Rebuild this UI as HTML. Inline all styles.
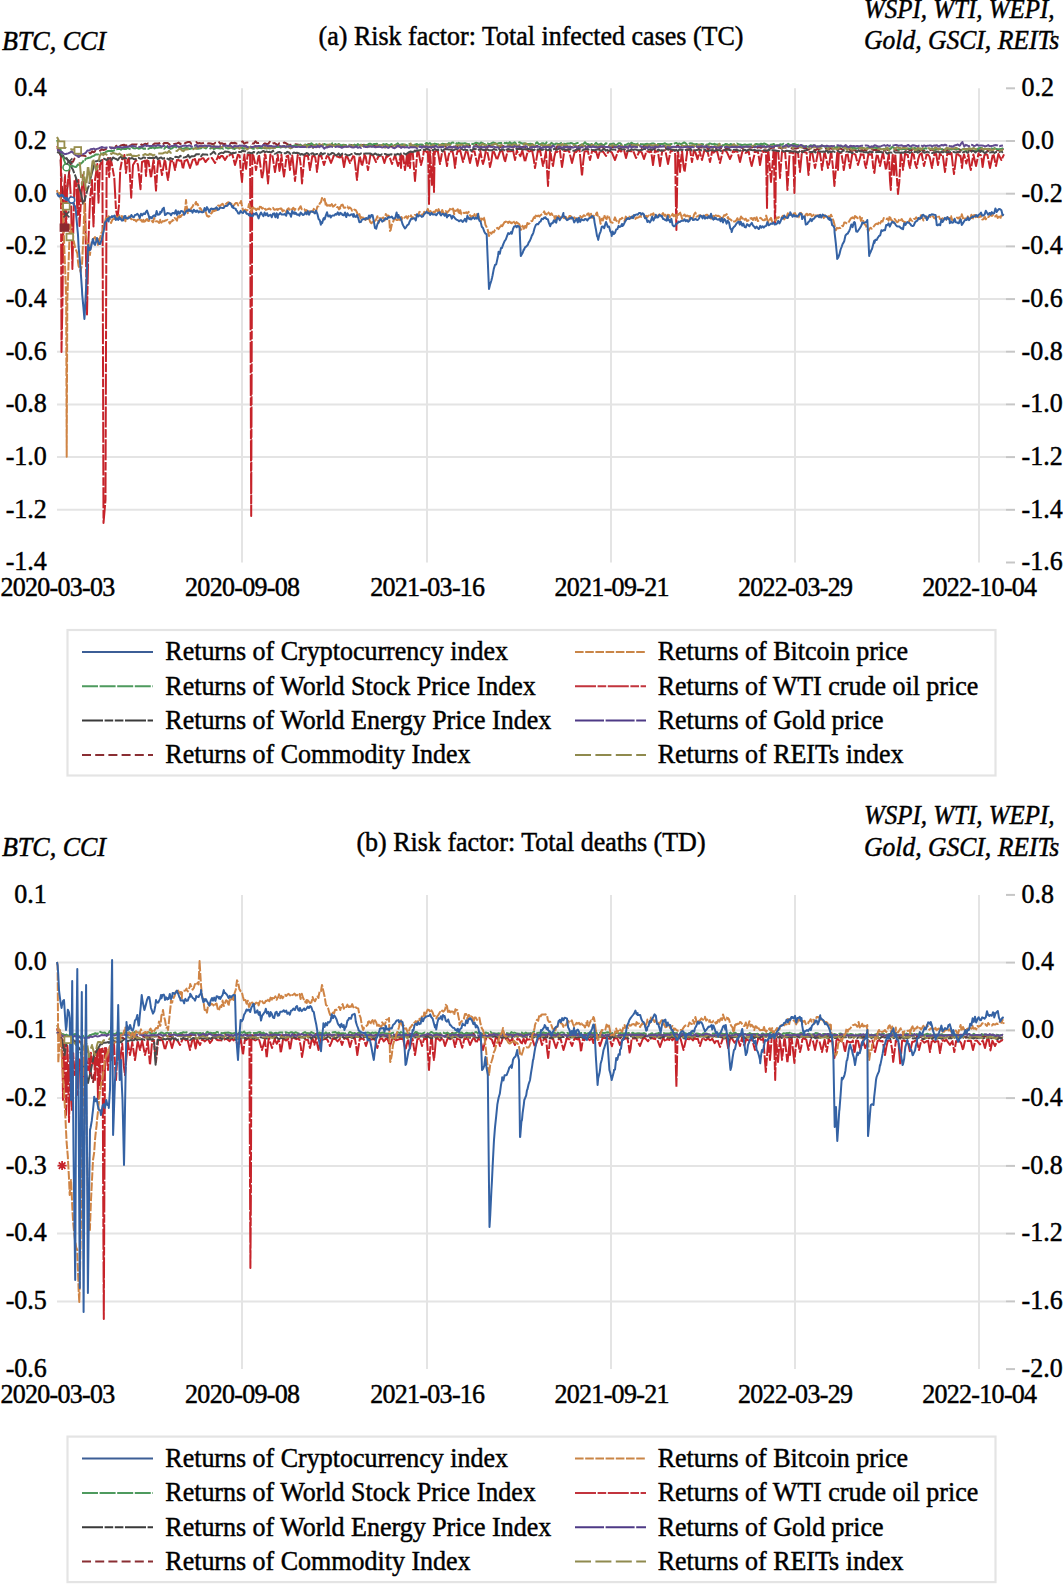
<!DOCTYPE html>
<html><head><meta charset="utf-8"><style>
html,body{margin:0;padding:0;background:#fff;width:1063px;height:1584px;overflow:hidden;}
svg{display:block;}
text{font-family:'Liberation Serif', serif;fill:#000;stroke:#000;stroke-width:0.45px;}
</style></head><body>
<svg width="1063" height="1584" viewBox="0 0 1063 1584">
<rect width="1063" height="1584" fill="#fff"/>
<text transform="translate(2.0,49.6) scale(1.0,1.03)" text-anchor="start" style="font-size:26px;font-style:italic;" >BTC, CCI</text>
<text transform="translate(531.0,44.8) scale(1.0,1.03)" text-anchor="middle" style="font-size:26px;" >(a) Risk factor: Total infected cases (TC)</text>
<text transform="translate(864.0,17.6) scale(0.96,1.03)" text-anchor="start" style="font-size:26px;font-style:italic;" >WSPI, WTI, WEPI,</text>
<text transform="translate(864.0,49.1) scale(0.985,1.03)" text-anchor="start" style="font-size:26px;font-style:italic;" >Gold, GSCI, REITs</text>
<line x1="57" y1="141.0" x2="1006" y2="141.0" stroke="#E4E4E4" stroke-width="2"/>
<line x1="57" y1="193.7" x2="1006" y2="193.7" stroke="#E4E4E4" stroke-width="2"/>
<line x1="57" y1="246.4" x2="1006" y2="246.4" stroke="#E4E4E4" stroke-width="2"/>
<line x1="57" y1="299.1" x2="1006" y2="299.1" stroke="#E4E4E4" stroke-width="2"/>
<line x1="57" y1="351.7" x2="1006" y2="351.7" stroke="#E4E4E4" stroke-width="2"/>
<line x1="57" y1="404.4" x2="1006" y2="404.4" stroke="#E4E4E4" stroke-width="2"/>
<line x1="57" y1="457.1" x2="1006" y2="457.1" stroke="#E4E4E4" stroke-width="2"/>
<line x1="57" y1="509.8" x2="1006" y2="509.8" stroke="#E4E4E4" stroke-width="2"/>
<line x1="242" y1="88.3" x2="242" y2="562.5" stroke="#E4E4E4" stroke-width="2"/>
<line x1="427" y1="88.3" x2="427" y2="562.5" stroke="#E4E4E4" stroke-width="2"/>
<line x1="611" y1="88.3" x2="611" y2="562.5" stroke="#E4E4E4" stroke-width="2"/>
<line x1="795" y1="88.3" x2="795" y2="562.5" stroke="#E4E4E4" stroke-width="2"/>
<line x1="979" y1="88.3" x2="979" y2="562.5" stroke="#E4E4E4" stroke-width="2"/>
<line x1="1006" y1="88.3" x2="1015" y2="88.3" stroke="#C6C6C6" stroke-width="2"/>
<text transform="translate(46.8,96.1) scale(1.0,1.03)" text-anchor="end" style="font-size:26px;" >0.4</text>
<text transform="translate(1021.5,96.1) scale(1.0,1.03)" text-anchor="start" style="font-size:26px;" >0.2</text>
<line x1="1006" y1="141.0" x2="1015" y2="141.0" stroke="#C6C6C6" stroke-width="2"/>
<text transform="translate(46.8,148.8) scale(1.0,1.03)" text-anchor="end" style="font-size:26px;" >0.2</text>
<text transform="translate(1021.5,148.8) scale(1.0,1.03)" text-anchor="start" style="font-size:26px;" >0.0</text>
<line x1="1006" y1="193.7" x2="1015" y2="193.7" stroke="#C6C6C6" stroke-width="2"/>
<text transform="translate(46.8,201.5) scale(1.0,1.03)" text-anchor="end" style="font-size:26px;" >0.0</text>
<text transform="translate(1021.5,201.5) scale(1.0,1.03)" text-anchor="start" style="font-size:26px;" >-0.2</text>
<line x1="1006" y1="246.4" x2="1015" y2="246.4" stroke="#C6C6C6" stroke-width="2"/>
<text transform="translate(46.8,254.2) scale(1.0,1.03)" text-anchor="end" style="font-size:26px;" >-0.2</text>
<text transform="translate(1021.5,254.2) scale(1.0,1.03)" text-anchor="start" style="font-size:26px;" >-0.4</text>
<line x1="1006" y1="299.1" x2="1015" y2="299.1" stroke="#C6C6C6" stroke-width="2"/>
<text transform="translate(46.8,306.9) scale(1.0,1.03)" text-anchor="end" style="font-size:26px;" >-0.4</text>
<text transform="translate(1021.5,306.9) scale(1.0,1.03)" text-anchor="start" style="font-size:26px;" >-0.6</text>
<line x1="1006" y1="351.7" x2="1015" y2="351.7" stroke="#C6C6C6" stroke-width="2"/>
<text transform="translate(46.8,359.5) scale(1.0,1.03)" text-anchor="end" style="font-size:26px;" >-0.6</text>
<text transform="translate(1021.5,359.5) scale(1.0,1.03)" text-anchor="start" style="font-size:26px;" >-0.8</text>
<line x1="1006" y1="404.4" x2="1015" y2="404.4" stroke="#C6C6C6" stroke-width="2"/>
<text transform="translate(46.8,412.2) scale(1.0,1.03)" text-anchor="end" style="font-size:26px;" >-0.8</text>
<text transform="translate(1021.5,412.2) scale(1.0,1.03)" text-anchor="start" style="font-size:26px;" >-1.0</text>
<line x1="1006" y1="457.1" x2="1015" y2="457.1" stroke="#C6C6C6" stroke-width="2"/>
<text transform="translate(46.8,464.9) scale(1.0,1.03)" text-anchor="end" style="font-size:26px;" >-1.0</text>
<text transform="translate(1021.5,464.9) scale(1.0,1.03)" text-anchor="start" style="font-size:26px;" >-1.2</text>
<line x1="1006" y1="509.8" x2="1015" y2="509.8" stroke="#C6C6C6" stroke-width="2"/>
<text transform="translate(46.8,517.6) scale(1.0,1.03)" text-anchor="end" style="font-size:26px;" >-1.2</text>
<text transform="translate(1021.5,517.6) scale(1.0,1.03)" text-anchor="start" style="font-size:26px;" >-1.4</text>
<line x1="1006" y1="562.5" x2="1015" y2="562.5" stroke="#C6C6C6" stroke-width="2"/>
<text transform="translate(46.8,570.3) scale(1.0,1.03)" text-anchor="end" style="font-size:26px;" >-1.4</text>
<text transform="translate(1021.5,570.3) scale(1.0,1.03)" text-anchor="start" style="font-size:26px;" >-1.6</text>
<text transform="translate(57.5,596.0) scale(1.0,1.03)" text-anchor="middle" style="font-size:26px;letter-spacing:-0.7px;" >2020-03-03</text>
<text transform="translate(242.2,596.0) scale(1.0,1.03)" text-anchor="middle" style="font-size:26px;letter-spacing:-0.7px;" >2020-09-08</text>
<text transform="translate(427.3,596.0) scale(1.0,1.03)" text-anchor="middle" style="font-size:26px;letter-spacing:-0.7px;" >2021-03-16</text>
<text transform="translate(611.6,596.0) scale(1.0,1.03)" text-anchor="middle" style="font-size:26px;letter-spacing:-0.7px;" >2021-09-21</text>
<text transform="translate(795.1,596.0) scale(1.0,1.03)" text-anchor="middle" style="font-size:26px;letter-spacing:-0.7px;" >2022-03-29</text>
<text transform="translate(979.3,596.0) scale(1.0,1.03)" text-anchor="middle" style="font-size:26px;letter-spacing:-0.7px;" >2022-10-04</text>
<polyline points="57.0,148.0 58.6,149.5 60.0,150.0 60.2,152.5 61.8,184.5 63.4,216.4 64.0,228.0 65.0,215.2 66.0,200.0 66.6,194.8 68.2,179.4 69.8,167.0 70.0,165.0 71.4,162.1 73.0,161.8 74.6,158.4 75.0,158.0 76.2,159.1 77.8,157.1 79.4,156.0 81.0,155.2 82.6,155.6 84.2,155.8 85.8,156.0 86.0,155.0 87.4,154.6 89.0,153.1 90.6,153.4 92.2,151.2 93.0,152.0 93.8,152.2 95.4,150.9 97.0,152.3 98.6,151.5 100.2,150.7 101.8,149.2 103.4,150.1 105.0,149.6 106.6,148.5 108.2,148.1 109.8,149.3 111.4,147.6 113.0,147.9 114.6,148.3 116.2,145.7 117.8,147.9 119.4,146.9 120.0,146.0 121.0,145.4 122.6,145.0 124.2,144.7 125.8,146.3 127.4,143.3 129.0,146.0 130.6,145.3 132.2,144.4 133.8,144.4 135.4,144.4 137.0,144.4 138.6,145.2 140.2,143.6 141.8,145.1 143.4,144.8 145.0,143.7 146.6,144.3 148.2,143.2 149.8,143.6 150.0,143.5 151.4,143.9 153.0,145.0 154.6,143.4 156.2,143.4 157.8,143.5 159.4,143.3 161.0,142.6 162.6,145.0 164.2,142.9 165.8,143.0 167.4,142.9 169.0,144.0 170.6,145.8 172.2,145.8 173.8,144.2 175.4,143.7 177.0,143.4 178.6,142.6 180.2,144.0 181.8,143.3 183.4,145.0 185.0,143.1 186.6,142.5 188.2,141.9 189.8,141.9 191.4,143.8 193.0,143.6 194.6,142.4 196.2,142.1 197.8,143.5 199.4,143.0 201.0,143.5 202.6,143.3 204.2,142.6 205.8,141.9 207.4,143.4 209.0,143.3 210.6,143.4 212.2,144.0 213.8,144.0 215.4,142.8 217.0,143.7 218.6,141.5 220.2,143.8 221.8,143.2 223.4,144.0 225.0,144.0 226.6,142.4 228.2,143.1 229.8,144.1 231.4,142.7 233.0,143.2 234.6,142.7 236.2,143.6 237.8,143.4 239.4,142.5 241.0,142.0 242.6,141.3 244.2,143.8 245.8,142.7 247.4,142.5 249.0,142.7 250.6,142.3 252.2,143.6 253.8,143.6 255.4,141.3 257.0,143.0 258.6,143.1 260.2,142.8 261.8,143.1 263.4,144.4 265.0,143.3 266.6,144.0 268.2,143.8 269.8,141.8 270.0,143.0 271.4,144.5 273.0,143.4 274.6,143.1 276.2,144.1 277.8,145.3 279.4,143.0 281.0,143.2 282.6,144.1 284.2,142.5 285.8,143.2 287.4,144.2 289.0,144.9 290.6,144.8 292.2,145.2 293.8,145.5 295.4,144.3 297.0,144.5 298.6,144.7 300.0,145.0 300.2,144.7 301.8,145.9 303.4,145.7 305.0,143.4 306.6,145.5 308.2,144.2 309.8,144.2 311.4,146.2 313.0,146.2 314.6,146.1 316.2,145.7 317.8,146.6 319.4,144.2 321.0,145.9 322.6,144.6 324.2,144.7 325.8,143.9 327.4,146.5 329.0,146.7 330.6,146.0 332.2,144.8 333.8,145.4 335.4,144.4 337.0,145.1 338.6,146.6 340.2,146.7 341.8,145.9 343.4,146.0 345.0,145.3 346.6,145.7 348.2,145.3 349.8,145.8 351.4,144.9 353.0,146.3 354.6,145.3 356.2,145.6 357.8,145.4 359.4,146.8 361.0,146.3 362.6,144.9 364.2,144.8 365.8,146.0 367.4,145.7 369.0,145.4 370.6,145.8 372.2,147.0 373.8,145.6 375.4,146.8 377.0,145.3 378.6,145.5 380.2,145.9 381.8,145.6 383.4,145.3 385.0,144.9 386.6,145.5 388.2,145.4 389.8,145.8 391.4,146.6 393.0,146.2 394.6,146.7 396.2,146.0 397.8,146.2 399.4,146.4 401.0,146.4 402.6,146.7 404.2,145.4 405.8,146.2 407.4,146.1 409.0,146.9 410.6,146.6 412.2,145.5 413.8,146.3 415.4,146.6 417.0,146.0 418.6,147.0 420.0,146.0 420.2,146.2 421.8,145.0 423.4,146.3 425.0,146.7 426.6,145.4 428.2,146.7 429.8,143.9 431.4,147.8 433.0,145.0 434.6,145.8 436.2,145.9 437.8,145.1 439.4,146.5 441.0,145.5 442.6,145.2 444.2,144.4 445.8,146.8 447.4,147.2 449.0,146.1 450.0,146.3 450.6,146.5 452.2,147.6 453.8,146.6 455.4,147.2 457.0,147.1 458.6,146.9 460.2,146.8 461.8,147.3 463.4,146.5 465.0,146.4 466.6,145.7 468.2,144.6 469.8,145.6 471.4,146.1 473.0,147.2 474.6,146.0 476.2,144.7 477.8,146.9 479.4,147.3 481.0,146.6 482.6,146.6 484.2,146.6 485.8,146.3 487.4,147.5 489.0,145.7 490.6,145.7 492.2,145.1 493.8,145.9 495.4,145.8 497.0,145.8 498.6,146.5 500.2,147.2 501.8,145.2 503.4,146.4 505.0,145.8 506.6,145.8 508.2,146.0 509.8,146.6 511.4,145.0 513.0,147.6 514.6,146.3 516.2,145.7 517.8,145.0 519.4,147.2 521.0,146.9 522.6,147.0 524.2,146.5 525.8,147.7 527.4,147.6 529.0,148.1 530.6,146.6 532.2,147.1 533.8,146.0 535.4,146.4 537.0,146.1 538.6,146.4 540.2,146.4 541.8,146.4 543.4,146.3 545.0,146.5 546.6,146.0 548.2,145.8 549.8,146.0 551.4,146.9 553.0,146.9 554.6,147.2 556.2,148.3 557.8,145.5 559.4,147.0 561.0,145.3 562.6,145.9 564.2,145.7 565.8,146.4 567.4,147.4 569.0,147.6 570.0,146.3 570.6,146.6 572.2,147.2 573.8,146.8 575.4,145.4 577.0,147.8 578.6,146.0 580.2,146.1 581.8,146.5 583.4,145.9 585.0,146.2 586.6,147.3 588.2,146.0 589.8,146.3 591.4,145.4 593.0,145.3 594.6,147.2 596.2,147.3 597.8,146.7 599.4,148.4 600.0,147.0 601.0,146.2 602.6,147.4 604.2,146.4 605.8,147.0 607.4,147.4 609.0,145.9 610.6,148.1 612.2,146.9 613.8,147.1 615.4,146.9 617.0,147.3 618.6,146.0 620.2,146.0 621.8,147.3 623.4,146.8 625.0,146.7 626.6,147.3 628.2,148.3 629.8,146.2 631.4,145.0 633.0,146.8 634.6,145.6 636.2,146.8 637.8,146.2 639.4,147.1 641.0,148.5 642.6,146.9 644.2,145.7 645.8,146.1 647.4,146.2 649.0,145.8 650.6,147.4 652.2,147.2 653.8,147.8 655.4,147.7 657.0,146.9 658.6,146.5 660.2,146.6 661.8,147.0 663.4,146.5 665.0,145.7 666.6,148.9 668.2,148.2 669.8,146.8 671.4,146.6 673.0,146.7 674.6,147.4 676.2,146.8 677.8,145.2 679.4,147.2 681.0,147.5 682.6,145.9 684.2,145.9 685.8,146.9 687.4,146.1 689.0,147.8 690.6,147.7 692.2,145.6 693.8,147.4 695.4,145.8 697.0,146.4 698.6,148.1 700.2,146.8 701.8,147.5 703.4,146.7 705.0,148.7 706.6,147.0 708.2,149.5 709.8,147.5 711.4,146.7 713.0,147.1 714.6,146.8 716.2,148.3 717.8,146.2 719.4,147.7 720.0,147.0 721.0,148.2 722.6,147.9 724.2,146.0 725.8,148.2 727.4,147.8 729.0,148.1 730.6,146.4 732.2,147.3 733.8,148.2 735.4,147.3 737.0,147.4 738.6,146.9 740.2,147.2 741.8,147.4 743.4,149.4 745.0,147.3 746.6,147.0 748.2,146.6 749.8,147.8 751.4,147.6 753.0,147.1 754.6,146.1 756.2,149.1 757.8,147.4 759.4,147.0 761.0,147.8 762.6,146.9 764.2,147.4 765.8,146.1 767.4,147.2 769.0,145.5 770.6,148.4 772.2,147.7 773.8,147.5 775.4,147.8 777.0,146.6 778.6,147.8 780.2,147.8 781.8,148.6 783.4,147.3 785.0,147.5 786.6,147.8 788.2,148.1 789.8,148.0 790.0,148.0 791.4,148.2 793.0,148.8 794.6,148.3 796.2,148.4 797.8,148.1 799.4,147.1 801.0,148.8 802.6,148.0 804.2,148.3 805.8,147.5 807.4,150.0 809.0,149.5 810.6,148.4 812.2,149.1 813.8,149.5 815.4,150.5 817.0,149.0 818.6,149.7 820.2,148.3 821.8,148.8 823.4,148.9 825.0,148.9 826.6,148.3 828.2,149.7 829.8,148.5 831.4,148.6 833.0,149.3 834.6,150.6 836.2,150.4 837.8,149.4 839.4,148.7 841.0,148.5 842.6,149.7 844.2,150.4 845.8,150.5 847.4,149.8 849.0,149.3 850.0,150.0 850.6,150.3 852.2,151.0 853.8,150.0 855.4,150.4 857.0,149.7 858.6,149.8 860.2,151.1 861.8,149.5 863.4,151.1 865.0,149.7 866.6,150.0 868.2,150.7 869.8,150.6 871.4,149.5 873.0,149.9 874.6,150.0 876.2,150.0 877.8,149.9 879.4,150.7 881.0,149.2 882.6,150.7 884.2,150.8 885.8,149.0 887.4,150.0 889.0,149.3 890.6,148.7 892.2,150.0 893.8,150.5 895.4,149.6 897.0,150.3 898.6,150.0 900.2,148.4 901.8,149.8 903.4,150.8 905.0,151.1 906.6,149.0 908.2,148.8 909.8,150.3 911.4,149.8 913.0,150.1 914.6,149.6 916.2,150.6 917.8,150.5 919.4,149.7 921.0,150.0 922.6,149.9 924.2,150.5 925.8,150.2 927.4,150.3 929.0,150.6 930.6,150.1 932.2,149.6 933.8,150.7 935.4,149.6 937.0,149.0 938.6,149.3 940.2,150.1 941.8,149.6 943.4,149.7 945.0,150.2 946.6,150.4 948.2,149.8 949.8,149.6 951.4,150.1 953.0,150.7 954.6,148.9 956.2,149.5 957.8,149.1 959.4,149.4 961.0,150.6 962.6,151.7 964.2,149.9 965.8,149.2 967.4,149.2 969.0,150.6 970.0,150.0 970.6,150.8 972.2,150.8 973.8,150.6 975.4,149.6 977.0,149.4 978.6,150.0 980.2,150.7 981.8,149.6 983.4,149.2 985.0,151.0 986.6,148.8 988.2,151.2 989.8,149.1 991.4,150.6 993.0,149.6 994.6,151.0 996.2,149.6 997.8,150.1 999.4,150.4 1001.0,149.7 1002.6,148.9 1003.0,150.0" fill="none" stroke="#8C2A2F" stroke-width="2.0" stroke-linejoin="round" stroke-dasharray="9 4.2"/>
<polyline points="57.0,146.0 59.0,150.0 60.9,156.0 61.5,352.0 62.0,326.0 62.5,300.0 63.5,200.0 65.0,175.0 66.2,230.0 67.0,190.0 68.0,180.0 69.5,175.0 71.0,200.0 72.0,249.5 72.4,269.0 73.5,220.0 74.5,180.0 76.0,179.0 77.0,202.8 77.5,215.0 78.5,180.0 79.5,226.0 81.0,200.0 82.0,187.7 83.0,175.0 85.0,200.0 87.0,314.5 88.5,240.0 90.0,200.0 92.0,180.0 92.3,196.0 93.5,226.5 95.0,180.0 97.0,166.6 97.3,164.0 98.5,202.7 100.0,165.0 102.0,161.0 102.4,160.0 103.5,523.0 105.5,500.0 106.6,165.0 107.0,163.8 108.0,158.0 109.2,177.0 110.5,158.0 112.0,165.0 114.3,178.0 116.0,210.0 117.0,214.9 117.5,218.0 119.0,205.0 120.2,170.0 122.0,160.0 124.4,155.0 126.0,173.0 127.0,164.4 127.5,160.0 129.0,158.0 131.2,197.7 132.0,182.8 133.0,165.0 136.0,160.0 137.0,162.1 138.0,165.0 140.5,189.2 142.0,162.0 145.0,160.6 145.6,170.1 146.0,176.0 147.0,160.2 147.0,161.1 148.5,161.1 151.0,178.0 153.5,160.1 153.8,160.7 156.0,190.6 157.1,172.9 158.2,161.1 158.3,161.6 159.5,160.5 162.0,175.0 164.5,161.1 164.5,160.3 165.4,161.6 166.9,174.0 168.0,180.0 170.6,160.5 170.6,161.0 172.1,161.3 173.1,160.6 175.0,170.0 176.9,160.1 176.9,160.7 178.4,160.0 179.9,160.8 181.2,160.4 183.0,169.0 184.8,159.9 184.8,161.1 186.3,160.2 187.2,159.5 190.0,168.0 192.8,159.7 192.8,160.8 194.9,158.9 197.0,166.0 199.1,159.3 199.1,159.7 200.6,159.6 202.1,158.3 203.4,158.2 205.5,162.0 207.6,159.4 207.6,159.5 209.1,158.3 210.6,158.3 212.0,158.0 215.0,163.0 218.0,156.8 218.0,156.0 219.5,158.1 221.0,156.1 222.6,155.9 225.0,160.0 227.4,155.9 227.4,155.4 228.9,155.6 230.4,154.6 232.2,153.7 235.0,165.0 237.8,155.4 237.8,154.7 239.6,155.4 240.9,172.3 242.0,182.0 243.2,164.1 244.4,154.5 244.4,155.3 245.3,163.7 246.0,170.0 247.6,154.5 247.6,155.6 249.1,155.0 250.1,154.3 250.7,365.8 251.2,516.0 252.3,155.3 252.3,154.3 253.4,155.6 254.8,161.9 256.0,170.0 258.6,156.1 259.2,155.9 262.0,178.8 263.4,171.1 264.8,154.2 264.9,155.9 265.6,155.0 268.0,183.5 270.4,154.4 270.4,155.2 272.3,154.7 275.0,172.0 277.7,154.9 277.7,154.6 278.7,163.9 279.5,170.9 280.5,164.5 281.4,155.0 281.4,154.7 282.8,168.3 284.0,176.5 286.6,156.2 286.6,156.9 288.1,155.5 290.0,170.0 290.9,161.9 291.9,155.4 292.3,155.7 295.0,181.0 297.7,155.0 297.7,155.3 299.5,156.2 300.9,166.4 302.0,183.5 304.5,156.0 304.5,155.1 306.0,156.0 307.8,155.3 309.0,163.0 310.0,170.0 312.2,156.8 312.2,156.2 313.7,156.0 315.2,157.2 316.2,163.7 317.0,172.0 317.9,164.3 318.8,156.1 318.8,155.4 320.3,156.2 321.2,155.7 324.0,165.0 326.8,156.0 326.8,156.3 328.6,156.9 331.0,163.0 333.4,156.8 333.4,155.9 334.9,155.6 336.4,156.3 338.0,156.7 340.0,157.5 342.0,155.9 342.0,154.7 344.0,167.0 346.0,156.0 346.0,155.1 347.1,156.4 350.0,163.0 352.9,156.6 352.9,156.3 354.3,156.8 357.0,180.0 358.3,165.6 359.7,156.0 359.7,155.8 362.0,166.0 364.3,156.5 364.3,154.6 365.7,156.7 368.0,170.0 370.3,155.8 370.3,154.7 371.8,154.6 373.2,155.8 376.0,162.0 378.8,155.5 378.8,156.5 380.3,155.4 382.1,155.1 384.4,163.0 386.7,155.3 386.7,157.2 388.2,156.0 389.1,155.6 392.0,164.0 394.9,155.3 395.1,155.2 398.0,166.0 400.9,155.7 400.2,156.0 400.6,162.5 401.0,168.0 401.8,156.3 401.8,154.7 403.0,155.0 405.0,170.0 407.0,155.0 407.0,154.8 408.0,166.0 408.5,159.3 409.0,153.6 409.0,153.6 410.0,168.0 411.0,152.4 411.0,154.3 412.7,151.9 415.0,181.0 417.3,151.6 417.3,152.9 418.4,151.3 421.0,165.0 422.3,160.0 423.6,153.0 423.6,151.2 425.1,150.6 426.6,152.1 427.9,151.3 428.5,171.6 429.0,204.0 429.6,170.7 430.1,151.6 430.1,150.4 432.0,185.0 432.9,170.3 433.9,151.5 433.2,151.2 434.0,192.0 434.4,166.5 434.8,152.2 434.8,152.3 436.3,150.7 437.8,150.8 440.0,164.0 442.2,151.7 442.2,151.2 443.7,151.2 444.5,151.4 445.9,159.0 447.0,166.0 448.3,156.8 449.5,152.2 449.5,151.4 451.0,151.6 452.5,151.1 453.9,158.1 455.0,168.0 456.3,156.5 457.5,151.1 457.5,151.8 459.0,151.1 460.1,150.1 463.0,162.0 465.9,151.6 465.9,151.7 467.4,151.2 470.0,163.0 472.6,150.9 472.6,151.1 474.5,151.5 476.1,159.0 477.4,165.9 478.8,159.2 480.2,150.9 480.3,150.8 481.8,159.3 483.0,164.0 484.4,159.0 485.7,151.3 485.8,149.4 487.2,151.4 488.7,158.2 490.0,167.0 491.4,161.0 492.8,150.6 492.8,150.5 494.0,151.9 497.0,160.0 500.0,151.6 500.0,151.9 501.5,150.8 502.4,151.2 505.0,162.0 507.6,151.0 507.6,151.4 509.1,151.2 510.6,151.2 512.1,151.1 513.0,150.1 515.0,160.0 517.0,149.8 517.0,151.6 518.3,152.8 520.4,156.2 522.5,149.8 522.5,151.2 525.0,162.0 527.5,152.4 527.5,150.2 529.0,151.6 530.5,151.1 532.0,149.7 533.7,158.9 535.0,168.0 538.0,149.9 538.0,151.5 539.5,151.5 540.1,150.5 543.0,166.0 544.4,159.9 545.9,151.9 545.9,150.9 548.0,186.0 550.1,149.7 550.3,150.5 551.8,160.9 553.0,166.0 554.3,157.1 555.7,151.5 555.7,151.5 557.2,152.0 558.7,150.1 559.9,150.3 561.1,159.7 562.0,167.0 563.0,160.3 564.1,151.8 564.1,151.1 565.6,151.1 567.1,149.9 568.6,151.4 569.2,151.3 572.0,163.0 574.8,151.6 574.8,150.2 576.3,152.0 577.8,150.0 579.5,149.6 582.0,176.0 583.2,162.2 584.5,151.5 584.5,151.6 586.0,151.3 587.9,151.3 590.0,160.0 592.1,150.9 592.2,150.7 593.7,150.9 595.2,151.9 596.1,151.5 598.0,158.0 599.9,151.0 599.9,151.2 601.4,151.6 603.2,151.8 606.0,156.0 608.8,150.9 608.8,150.9 610.3,151.2 612.0,152.8 615.0,160.0 618.0,151.2 618.0,151.9 619.5,149.9 621.0,151.6 622.5,150.0 624.1,150.2 626.0,158.0 627.9,150.6 627.9,150.9 629.4,151.1 630.9,151.3 632.4,151.2 633.2,150.7 636.0,158.0 638.8,152.8 638.8,151.3 640.3,151.5 641.7,152.4 644.0,159.0 646.3,151.7 646.3,151.4 647.8,151.2 649.3,152.3 651.0,150.2 653.0,165.0 655.0,150.3 655.0,150.5 656.5,151.8 657.8,150.7 660.0,166.0 662.2,151.1 662.2,151.2 663.7,150.6 665.3,150.2 668.0,164.0 669.4,156.7 670.7,150.8 670.7,150.7 672.2,151.0 673.7,149.9 675.1,150.6 675.8,199.1 676.4,230.0 677.7,151.1 678.1,151.6 680.0,172.0 680.9,160.9 681.9,151.4 682.1,151.2 683.5,166.2 684.6,172.0 687.1,152.5 687.1,149.5 688.6,149.8 690.1,150.0 692.0,162.0 693.9,150.3 693.9,150.8 695.4,152.4 697.5,159.2 699.7,150.5 699.7,151.8 702.0,160.0 704.3,150.7 704.3,151.1 705.8,150.3 707.8,152.6 710.0,162.0 712.2,151.0 712.2,150.6 713.7,152.6 715.2,151.1 717.1,151.3 720.0,163.0 722.9,150.9 722.9,150.5 724.4,150.1 725.9,151.0 727.0,152.3 730.0,159.0 733.0,151.5 733.0,151.1 734.5,151.9 736.0,150.6 737.6,152.2 740.0,162.0 742.4,151.3 742.4,150.7 743.5,151.8 745.7,152.9 747.9,151.8 747.9,151.2 748.7,151.6 750.4,161.0 751.7,166.0 754.7,153.4 754.7,151.2 756.2,152.0 757.8,151.1 759.0,157.9 760.0,165.0 761.1,158.4 762.2,151.0 762.2,151.4 763.7,152.0 765.2,151.2 766.0,150.2 767.0,208.0 767.5,174.0 768.0,152.0 768.5,151.8 769.9,168.8 771.0,182.0 773.5,151.7 774.0,151.9 774.5,198.6 775.0,223.0 775.5,201.0 776.0,152.0 776.0,152.2 778.0,150.0 779.1,162.9 780.0,178.0 781.0,164.2 782.0,151.8 782.0,152.1 783.5,151.6 785.1,151.9 786.4,169.0 787.4,190.0 789.7,151.5 789.7,152.3 791.2,152.8 793.2,152.3 794.4,193.0 795.6,153.3 795.7,151.5 797.2,152.2 798.0,152.7 800.0,172.0 802.0,151.1 802.0,152.3 803.5,151.9 805.0,152.3 806.6,152.7 808.5,175.0 810.4,152.8 810.4,153.3 812.2,152.4 815.0,168.0 817.8,153.3 817.9,152.1 819.8,152.3 821.0,160.2 822.0,170.0 824.2,153.6 824.2,154.0 825.0,153.2 826.7,160.5 828.0,168.0 829.5,162.4 831.0,151.7 831.5,154.0 833.1,169.0 834.4,186.0 837.3,152.4 837.2,154.3 838.0,170.0 838.8,153.5 838.8,153.5 840.3,152.9 841.4,153.4 842.7,161.3 843.8,170.0 846.2,154.1 846.2,153.7 847.6,153.7 850.0,168.0 852.4,153.4 852.4,155.0 853.9,153.8 855.4,154.6 858.0,165.0 860.6,155.5 860.6,154.3 862.1,154.7 863.5,154.4 864.9,164.2 866.0,168.0 868.5,153.5 868.5,153.8 870.0,154.7 871.9,154.0 873.3,168.1 874.4,173.0 875.6,161.5 876.9,154.5 877.5,154.2 880.0,166.0 882.5,154.4 883.1,153.0 886.0,170.0 888.9,154.0 888.9,154.2 890.0,180.5 890.8,190.0 891.7,168.8 892.7,154.1 892.7,153.6 894.0,175.0 894.7,162.4 895.3,154.2 895.3,154.6 898.0,194.0 899.3,181.9 900.7,154.1 900.9,153.8 902.1,160.1 903.0,170.0 905.1,153.3 905.1,154.4 906.6,154.6 907.8,154.9 909.0,164.3 910.0,168.0 912.2,153.0 912.2,154.0 913.7,154.5 915.4,164.5 916.7,168.0 918.2,159.1 919.7,154.5 919.7,154.6 921.6,153.4 924.0,166.0 926.4,155.6 926.4,154.7 927.9,154.5 929.5,156.5 932.0,168.0 933.2,160.4 934.5,153.5 934.5,155.1 936.2,154.1 938.0,165.0 939.8,154.2 939.8,153.8 941.3,155.0 942.7,154.5 945.0,172.0 947.3,153.7 947.3,154.1 948.8,153.7 950.3,154.2 951.5,153.1 952.9,165.9 954.0,174.0 956.5,154.2 956.5,154.7 958.0,154.1 959.5,155.8 960.2,154.2 961.2,160.6 962.0,168.0 962.9,158.8 963.8,155.2 964.1,154.4 966.3,163.5 968.4,154.7 968.4,154.3 969.7,165.3 970.8,170.0 973.2,155.6 973.4,154.4 976.0,166.0 978.6,153.3 978.6,154.3 980.1,155.2 980.7,155.0 981.8,159.6 982.6,167.0 984.5,154.1 984.5,155.2 986.0,154.1 987.4,154.9 988.9,162.5 990.0,168.0 992.6,155.8 992.6,154.0 993.6,154.8 996.0,166.0 998.4,154.0 998.8,155.0 1001.4,160.0 1004.0,154.4" fill="none" stroke="#C6232A" stroke-width="2.0" stroke-linejoin="round" stroke-dasharray="21 1.6 8.6 1.6"/>
<polyline points="57.0,152.0 58.6,152.5 60.2,153.9 61.8,156.6 63.4,155.9 64.0,158.0 65.0,158.5 66.6,158.1 68.2,161.4 69.4,161.4 69.8,162.5 71.4,167.2 73.0,169.8 74.6,174.3 75.0,175.0 76.2,178.4 77.8,182.9 79.4,188.3 80.0,190.0 81.0,193.6 82.6,201.4 83.3,204.8 84.2,202.0 85.8,195.8 86.0,195.0 87.4,189.5 89.0,185.3 90.0,180.0 90.6,177.9 92.2,171.7 93.8,166.4 95.0,162.0 95.4,161.5 97.0,161.0 98.6,160.4 100.2,161.5 101.8,159.5 103.4,159.0 104.0,158.7 105.0,159.2 106.6,160.1 108.2,158.5 109.8,158.2 111.4,160.3 113.0,157.5 114.6,158.3 116.2,159.0 117.8,160.1 119.4,157.8 121.0,156.7 122.6,158.9 124.2,158.0 125.8,158.1 127.4,158.7 129.0,158.5 130.6,158.5 132.2,158.0 133.8,159.1 135.4,159.3 137.0,158.2 138.6,157.9 140.2,158.7 141.8,158.5 143.4,157.4 145.0,157.8 146.6,158.8 148.2,158.0 149.8,157.8 150.0,158.0 151.4,158.1 153.0,158.0 154.6,158.0 156.2,156.6 157.8,159.2 159.4,158.1 161.0,157.4 162.6,158.7 164.2,158.2 165.8,158.0 167.4,158.7 169.0,159.6 170.0,158.0 170.6,158.3 172.2,158.9 173.8,159.1 175.4,156.8 177.0,157.0 178.6,157.7 180.2,155.8 181.8,156.7 183.4,157.6 185.0,157.3 186.6,156.8 188.2,154.9 189.8,157.7 191.4,156.3 193.0,156.3 194.6,156.0 196.2,154.3 197.8,154.3 199.4,154.3 201.0,156.3 202.6,154.3 204.2,154.5 205.8,154.4 207.4,154.8 209.0,154.6 210.6,154.3 212.2,153.0 213.8,151.6 215.4,153.7 217.0,153.6 218.6,154.2 220.2,153.1 221.8,152.6 223.4,153.1 225.0,151.6 226.6,151.8 228.2,151.7 229.0,152.3 229.8,152.5 231.4,153.7 233.0,152.8 234.6,153.1 236.2,152.4 237.8,152.4 239.4,151.9 241.0,152.0 242.6,150.5 244.2,151.3 245.8,151.3 247.4,152.8 249.0,152.6 250.6,152.9 252.2,153.2 253.8,151.9 255.4,152.8 257.0,153.5 258.6,152.1 260.2,152.8 261.8,151.9 263.4,150.9 265.0,152.1 266.6,151.4 268.2,152.1 269.8,151.7 270.0,152.0 271.4,152.3 273.0,150.7 274.6,153.8 276.2,153.4 277.8,152.3 279.4,152.0 281.0,152.7 282.6,153.3 284.2,153.2 285.8,153.3 287.4,151.8 289.0,152.5 290.6,154.3 292.2,153.6 293.8,152.5 295.4,153.1 297.0,152.8 298.6,153.2 300.0,154.0 300.2,154.8 301.8,153.9 303.4,154.8 305.0,154.2 306.6,153.0 308.2,153.6 309.8,155.7 311.4,153.5 313.0,153.3 314.6,155.0 316.2,154.1 317.8,154.1 319.4,155.1 321.0,152.9 322.6,154.4 324.2,153.4 325.8,153.1 327.4,153.6 329.0,155.0 330.6,154.1 332.2,152.9 333.8,153.4 335.4,155.3 337.0,154.9 338.6,153.4 340.2,155.9 341.8,153.9 343.4,153.4 345.0,154.1 346.6,154.9 348.2,155.4 349.8,155.0 351.4,154.0 353.0,153.9 354.6,153.2 356.2,154.2 357.8,153.9 359.4,154.5 361.0,153.4 362.6,153.9 364.2,153.7 365.8,153.5 367.4,153.5 369.0,153.6 370.6,153.5 372.2,154.8 373.8,154.4 375.4,153.4 377.0,154.8 378.6,154.6 380.2,155.4 381.8,154.3 383.4,154.3 385.0,153.9 386.6,154.5 388.2,154.8 389.8,154.6 391.4,154.3 393.0,154.9 394.6,154.5 396.2,154.7 397.8,153.8 399.4,154.6 400.0,154.5 401.0,153.5 402.6,153.2 404.2,153.5 405.8,154.5 407.4,153.2 409.0,152.1 410.6,151.5 412.2,152.0 413.8,151.8 415.0,150.5 415.4,151.4 417.0,150.3 418.6,150.5 420.2,150.1 421.8,150.1 423.4,149.6 425.0,150.0 426.6,148.6 428.2,149.3 429.8,150.4 431.4,149.4 433.0,150.4 434.6,149.0 436.2,149.6 437.8,150.1 439.4,149.1 441.0,149.2 442.6,151.5 444.2,149.2 445.8,149.1 447.4,149.2 449.0,149.6 450.0,149.5 450.6,149.5 452.2,150.2 453.8,150.1 455.4,149.2 457.0,149.2 458.6,148.5 460.2,148.4 461.8,149.0 463.4,150.0 465.0,149.6 466.6,150.1 468.2,150.2 469.8,149.4 471.4,151.0 473.0,149.1 474.6,149.1 476.2,149.2 477.8,150.3 479.4,149.4 481.0,149.0 482.6,149.8 484.2,150.3 485.8,149.4 487.4,149.3 489.0,150.3 490.6,150.2 492.2,150.2 493.8,149.0 495.4,149.7 497.0,149.8 498.6,148.2 500.2,150.4 501.8,149.6 503.4,149.3 505.0,151.1 506.6,149.6 508.2,149.0 509.8,149.5 511.4,149.9 513.0,150.1 514.6,149.5 516.2,148.9 517.8,149.0 519.4,148.9 521.0,148.7 522.6,149.5 524.2,149.1 525.8,149.5 527.4,148.9 529.0,148.9 530.6,149.4 532.2,149.3 533.8,150.3 535.4,148.9 537.0,149.6 538.6,149.5 540.2,148.6 541.8,150.0 543.4,149.6 545.0,148.0 546.6,149.9 548.2,150.2 549.8,148.9 551.4,150.7 553.0,149.6 554.6,148.7 556.2,149.9 557.8,149.2 559.4,148.5 561.0,148.0 562.6,149.7 564.2,149.0 565.8,150.0 567.4,149.8 569.0,149.1 570.0,149.5 570.6,149.1 572.2,150.8 573.8,150.7 575.4,150.1 577.0,149.3 578.6,148.8 580.2,149.3 581.8,150.7 583.4,149.9 585.0,149.3 586.6,148.7 588.2,149.7 589.8,148.9 591.4,149.6 593.0,150.1 594.6,150.3 596.2,149.7 597.8,149.3 599.4,149.8 601.0,150.9 602.6,149.9 604.2,148.6 605.8,150.7 607.4,149.8 609.0,152.1 610.6,149.3 612.2,149.6 613.8,149.4 615.4,149.9 617.0,149.2 618.6,148.6 620.2,148.3 621.8,149.6 623.4,149.3 625.0,149.3 626.6,151.2 628.2,150.3 629.8,150.5 631.4,149.3 633.0,149.9 634.6,149.6 636.2,149.6 637.8,150.3 639.4,150.2 641.0,150.0 642.6,149.8 644.2,148.7 645.8,149.2 647.4,150.0 649.0,149.5 650.6,149.2 652.2,150.0 653.8,149.1 655.4,149.3 657.0,150.4 658.6,149.5 660.2,150.8 661.8,150.2 663.4,150.4 665.0,150.6 666.6,148.3 668.2,149.8 669.8,148.9 671.4,149.5 673.0,149.8 674.6,150.7 676.2,149.8 677.8,151.0 679.4,149.5 681.0,149.8 682.6,149.9 684.2,150.6 685.8,149.8 687.4,149.5 689.0,149.7 690.6,148.9 692.2,150.8 693.8,150.4 695.4,150.2 697.0,150.1 698.6,149.5 700.2,149.6 701.8,150.5 703.4,149.4 705.0,149.4 706.6,151.1 708.2,151.1 709.8,150.2 711.4,150.3 713.0,150.1 714.6,151.0 716.2,149.7 717.8,150.1 719.4,150.3 720.0,150.0 721.0,151.0 722.6,149.9 724.2,150.2 725.8,149.7 727.4,149.6 729.0,149.7 730.6,150.2 732.2,150.8 733.8,149.7 735.4,149.8 737.0,150.0 738.6,150.5 740.2,150.8 741.8,149.4 743.4,150.6 745.0,149.7 746.6,150.9 748.2,149.7 749.8,149.7 751.4,149.9 753.0,150.4 754.6,149.8 756.2,150.7 757.8,150.6 759.4,150.6 761.0,150.8 762.6,151.2 764.2,150.1 765.8,150.7 767.4,150.7 769.0,149.3 770.6,151.0 772.2,150.2 773.8,150.3 775.4,150.5 777.0,150.9 778.6,151.1 780.2,151.2 781.8,150.4 783.4,151.4 785.0,151.2 786.6,150.7 788.2,151.0 789.8,151.6 790.0,151.0 791.4,151.3 793.0,151.5 794.6,151.2 796.2,151.9 797.8,152.7 799.4,151.5 801.0,150.1 802.6,152.4 804.2,150.8 805.8,150.3 807.4,149.6 809.0,151.6 810.6,152.1 812.2,152.1 813.8,151.1 815.4,152.4 817.0,151.4 818.6,151.1 820.2,151.6 821.8,151.7 823.4,151.6 825.0,151.9 826.6,150.1 828.2,152.7 829.8,151.3 831.4,152.1 833.0,151.2 834.6,151.9 836.2,151.6 837.8,150.7 839.4,152.1 841.0,152.3 842.6,151.1 844.2,150.4 845.8,151.5 847.4,151.4 849.0,152.1 850.0,152.0 850.6,152.0 852.2,153.1 853.8,152.5 855.4,151.8 857.0,152.1 858.6,150.0 860.2,151.4 861.8,151.4 863.4,151.9 865.0,152.2 866.6,152.1 868.2,152.7 869.8,151.5 871.4,152.2 873.0,151.9 874.6,152.0 876.2,152.2 877.8,151.8 879.4,152.1 881.0,152.0 882.6,152.7 884.2,151.9 885.8,152.2 887.4,153.8 889.0,152.4 890.6,152.4 892.2,152.8 893.8,151.3 895.4,152.5 897.0,152.5 898.6,152.3 900.2,152.7 901.8,152.5 903.4,152.8 905.0,151.6 906.6,152.3 908.2,151.6 909.8,152.9 911.4,152.1 913.0,151.1 914.6,152.1 916.2,151.3 917.8,152.7 919.4,151.8 921.0,150.5 922.6,151.7 924.2,152.7 925.8,152.2 927.4,151.6 929.0,152.5 930.6,152.4 932.2,153.0 933.8,152.6 935.4,152.3 937.0,151.5 938.6,152.2 940.2,152.2 941.8,152.0 943.4,152.3 945.0,151.2 946.6,152.4 948.2,152.0 949.8,152.2 951.4,151.9 953.0,151.8 954.6,152.2 956.2,152.5 957.8,151.8 959.4,152.2 961.0,151.5 962.6,152.3 964.2,152.0 965.8,151.1 967.4,152.8 969.0,151.4 970.0,152.0 970.6,152.1 972.2,151.1 973.8,150.8 975.4,152.5 977.0,151.0 978.6,150.6 980.2,151.9 981.8,150.9 983.4,151.9 985.0,153.3 986.6,151.7 988.2,152.2 989.8,152.4 991.4,152.2 993.0,151.9 994.6,153.0 996.2,151.9 997.8,152.2 999.4,152.1 1001.0,151.1 1002.6,152.2 1003.0,152.0" fill="none" stroke="#4A4A4A" stroke-width="2.0" stroke-linejoin="round" stroke-dasharray="21 1.6 8.6 1.6 8.6 1.6"/>
<polyline points="57.0,140.0 58.6,144.1 60.0,148.0 60.2,148.9 61.8,153.3 63.4,158.0 64.0,160.0 65.0,162.5 66.4,167.4 66.6,167.1 68.2,166.9 69.8,165.4 70.0,165.0 71.4,166.1 73.0,166.1 74.6,166.8 76.0,167.0 76.2,167.0 77.8,164.6 79.4,164.9 81.0,163.4 82.6,162.2 84.2,159.6 85.0,160.0 85.8,158.6 87.4,158.3 89.0,157.7 90.6,157.4 92.2,156.4 93.8,155.9 95.0,155.0 95.4,154.5 97.0,154.6 98.6,154.2 100.2,153.2 101.8,154.1 103.4,153.0 105.0,152.9 105.8,152.0 106.6,151.5 108.2,151.0 109.8,150.9 111.4,150.8 113.0,150.9 114.6,150.3 116.2,149.5 117.8,148.9 119.4,148.8 120.0,149.0 121.0,149.7 122.6,148.4 124.2,149.0 125.8,149.1 127.4,147.9 129.0,148.7 130.6,149.4 132.2,147.4 133.8,148.3 135.4,148.4 137.0,147.9 138.6,148.7 140.2,148.3 141.8,147.4 143.4,148.7 145.0,148.6 146.6,148.7 148.2,148.9 149.8,148.2 150.0,148.0 151.4,148.1 153.0,147.2 154.6,148.4 156.2,147.6 157.8,147.7 159.4,147.2 161.0,147.4 162.6,147.7 164.2,148.8 165.8,146.8 167.4,147.1 169.0,148.1 170.6,148.9 172.2,148.3 173.8,146.9 175.4,146.5 177.0,148.2 178.6,147.6 180.2,147.3 181.8,148.6 183.4,148.7 185.0,148.1 186.6,148.1 188.2,148.3 189.8,149.0 191.4,148.4 193.0,148.3 194.6,148.3 196.2,147.1 197.8,148.8 199.4,148.6 201.0,148.3 202.6,146.8 204.2,147.6 205.8,148.5 207.4,146.9 209.0,147.9 210.6,148.6 212.2,147.2 213.8,149.0 215.4,148.3 217.0,147.9 218.6,148.2 220.2,148.4 221.8,148.1 223.4,148.7 225.0,147.6 226.6,147.8 228.2,148.6 229.8,148.0 231.4,147.5 233.0,148.6 234.6,148.9 236.2,147.7 237.8,147.2 239.4,147.9 241.0,147.9 242.6,147.8 244.2,148.8 245.8,147.4 247.4,148.8 249.0,147.2 250.6,147.5 252.2,148.4 253.8,148.7 255.4,148.5 257.0,148.2 258.6,148.1 260.2,148.1 261.8,148.3 263.4,147.9 265.0,148.2 266.6,148.3 268.2,148.0 269.8,148.5 270.0,148.0 271.4,148.2 273.0,148.9 274.6,147.7 276.2,147.1 277.8,147.0 279.4,147.1 281.0,147.5 282.6,146.5 284.2,146.8 285.8,147.5 287.4,144.7 289.0,145.4 290.6,146.1 292.2,146.0 293.8,145.8 295.4,145.2 297.0,145.7 298.6,145.3 300.0,145.0 300.2,144.7 301.8,146.5 303.4,145.2 305.0,144.6 306.6,144.9 308.2,144.8 309.8,144.9 311.4,143.3 313.0,144.7 314.6,145.5 316.2,144.2 317.8,144.9 319.4,145.5 321.0,145.4 322.6,145.8 324.2,143.9 325.8,144.7 327.4,144.7 329.0,145.3 330.6,145.5 332.2,143.3 333.8,145.5 335.4,144.0 337.0,145.3 338.6,143.9 340.2,144.9 341.8,145.5 343.4,144.7 345.0,144.9 346.6,145.3 348.2,144.9 349.8,144.7 351.4,145.7 353.0,145.4 354.6,144.6 356.2,146.4 357.8,144.1 359.4,145.3 361.0,144.6 362.6,144.8 364.2,145.2 365.8,144.9 367.4,145.1 369.0,143.8 370.6,143.8 372.2,145.1 373.8,144.1 375.4,144.1 377.0,143.8 378.6,145.4 380.2,145.1 381.8,145.5 383.4,144.1 385.0,144.6 386.6,144.0 388.2,145.1 389.8,145.6 391.4,144.1 393.0,145.5 394.6,145.2 396.2,144.5 397.8,143.4 399.4,145.4 401.0,144.5 402.6,144.2 404.2,144.8 405.8,144.8 407.4,145.5 409.0,143.9 410.6,145.2 412.2,145.4 413.8,145.4 415.4,144.4 417.0,144.1 418.6,145.1 420.0,144.5 420.2,144.6 421.8,144.5 423.4,145.2 425.0,144.2 426.6,142.9 428.2,144.0 429.8,143.1 431.4,144.6 433.0,144.3 434.6,143.6 436.2,144.0 437.8,144.4 439.4,143.9 441.0,144.6 442.6,143.7 444.2,144.3 445.8,144.5 447.4,144.6 449.0,143.1 450.0,143.5 450.6,144.0 452.2,142.4 453.8,142.8 455.4,142.3 457.0,144.1 458.6,142.8 460.2,143.5 461.8,143.4 463.4,143.5 465.0,143.1 466.6,143.6 468.2,144.6 469.8,143.5 471.4,143.8 473.0,144.1 474.6,143.4 476.2,142.7 477.8,143.2 479.4,144.1 481.0,142.5 482.6,143.1 484.2,144.1 485.8,144.0 487.4,143.5 489.0,144.0 490.6,143.6 492.2,142.8 493.8,142.6 495.4,143.1 497.0,144.1 498.6,143.2 500.2,143.0 501.8,143.0 503.4,142.6 505.0,143.4 506.6,142.8 508.2,143.7 509.8,142.1 511.4,143.7 513.0,143.1 514.6,142.3 516.2,143.9 517.8,143.3 519.4,142.2 521.0,143.0 522.6,143.7 524.2,143.2 525.8,144.0 527.4,143.9 529.0,143.9 530.6,143.7 532.2,144.3 533.8,143.9 535.4,143.8 537.0,142.2 538.6,144.0 540.2,144.3 541.8,143.3 543.4,143.2 545.0,144.7 546.6,142.4 548.2,143.8 549.8,145.0 551.4,142.9 553.0,143.9 554.6,144.6 556.2,143.4 557.8,143.8 559.4,144.0 561.0,143.0 562.6,143.4 564.2,143.7 565.8,144.0 567.4,143.5 569.0,143.4 570.0,143.5 570.6,142.9 572.2,143.3 573.8,144.1 575.4,143.7 577.0,143.1 578.6,143.1 580.2,145.3 581.8,144.4 583.4,144.1 585.0,142.2 586.6,144.1 588.2,144.1 589.8,144.8 591.4,144.1 593.0,143.8 594.6,144.2 596.2,142.8 597.8,144.6 599.4,144.2 600.0,144.0 601.0,143.6 602.6,144.8 604.2,145.1 605.8,143.2 607.4,143.6 609.0,144.2 610.6,144.1 612.2,143.8 613.8,143.4 615.4,145.3 617.0,144.6 618.6,143.3 620.2,143.2 621.8,145.0 623.4,144.6 625.0,145.1 626.6,144.5 628.2,143.5 629.8,144.2 631.4,142.7 633.0,143.6 634.6,144.0 636.2,144.3 637.8,143.6 639.4,143.9 641.0,144.3 642.6,144.2 644.2,144.4 645.8,144.1 647.4,143.8 649.0,144.5 650.6,144.0 652.2,143.5 653.8,143.6 655.4,144.0 657.0,143.9 658.6,144.1 660.2,144.0 661.8,144.1 663.4,143.9 665.0,143.2 666.6,144.3 668.2,144.6 669.8,144.3 671.4,143.9 673.0,144.3 674.6,143.4 676.2,142.9 677.8,144.0 679.4,143.4 681.0,144.4 682.6,143.3 684.2,142.4 685.8,143.4 687.4,144.9 689.0,143.8 690.6,143.2 692.2,143.5 693.8,144.3 695.4,144.3 697.0,144.1 698.6,144.9 700.2,144.4 701.8,144.0 703.4,144.4 705.0,145.0 706.6,144.6 708.2,144.6 709.8,143.4 711.4,143.9 713.0,144.4 714.6,143.8 716.2,144.6 717.8,144.4 719.4,144.5 720.0,144.0 721.0,143.9 722.6,145.6 724.2,144.8 725.8,144.0 727.4,144.2 729.0,145.7 730.6,143.9 732.2,144.7 733.8,144.8 735.4,144.2 737.0,143.5 738.6,144.4 740.2,144.5 741.8,145.0 743.4,144.8 745.0,144.4 746.6,144.9 748.2,144.7 749.8,144.5 751.4,144.5 753.0,144.3 754.6,144.9 756.2,143.9 757.8,144.2 759.4,144.6 761.0,143.7 762.6,144.3 764.2,143.4 765.8,144.2 767.4,145.0 769.0,145.0 770.6,144.7 772.2,144.6 773.8,143.9 775.4,145.9 777.0,145.1 778.6,145.5 780.2,144.3 781.8,144.8 783.4,143.8 785.0,145.4 786.6,145.5 788.2,143.8 789.8,145.0 790.0,145.0 791.4,145.4 793.0,144.1 794.6,144.1 796.2,144.7 797.8,145.0 799.4,144.6 801.0,145.6 802.6,145.8 804.2,146.1 805.8,146.2 807.4,146.8 809.0,146.6 810.6,145.2 812.2,145.8 813.8,145.6 815.4,145.6 817.0,146.3 818.6,146.4 820.2,146.8 821.8,145.6 823.4,145.9 825.0,146.7 826.6,146.7 828.2,146.7 829.8,147.0 831.4,146.6 833.0,147.6 834.6,147.4 836.2,147.3 837.8,147.0 839.4,147.4 841.0,145.9 842.6,147.0 844.2,147.7 845.8,146.9 847.4,148.0 849.0,148.0 850.0,148.0 850.6,147.2 852.2,147.9 853.8,147.8 855.4,148.3 857.0,148.4 858.6,148.0 860.2,147.6 861.8,148.0 863.4,148.1 865.0,148.6 866.6,148.3 868.2,147.7 869.8,147.4 871.4,148.0 873.0,147.7 874.6,147.5 876.2,148.1 877.8,147.9 879.4,148.3 881.0,148.6 882.6,148.0 884.2,149.7 885.8,148.1 887.4,149.0 889.0,148.4 890.6,149.0 892.2,146.9 893.8,147.9 895.4,148.5 897.0,148.8 898.6,149.8 900.2,148.6 901.8,149.2 903.4,148.9 905.0,149.0 906.6,148.8 908.2,148.4 909.8,148.8 911.4,147.9 913.0,149.2 914.6,147.9 916.2,148.7 917.8,149.8 919.4,148.4 921.0,148.6 922.6,149.3 924.2,148.6 925.8,148.1 927.4,148.8 929.0,149.0 930.6,149.1 932.2,148.2 933.8,149.7 935.4,149.7 937.0,148.7 938.6,148.9 940.2,148.5 941.8,149.6 943.4,148.4 945.0,149.2 946.6,148.5 948.2,148.4 949.8,149.3 951.4,149.6 953.0,148.9 954.6,148.5 956.2,149.4 957.8,148.9 959.4,149.1 961.0,149.8 962.6,149.6 964.2,148.6 965.8,150.3 967.4,149.0 969.0,149.5 970.0,149.0 970.6,148.6 972.2,149.0 973.8,148.0 975.4,150.1 977.0,149.8 978.6,148.3 980.2,148.1 981.8,148.0 983.4,149.7 985.0,148.7 986.6,149.0 988.2,148.8 989.8,148.9 991.4,148.3 993.0,149.0 994.6,148.1 996.2,149.0 997.8,149.2 999.4,149.3 1001.0,148.9 1002.6,148.5 1003.0,149.0" fill="none" stroke="#4B9655" stroke-width="2.0" stroke-linejoin="round" stroke-dasharray="16 1.6"/>
<polyline points="57.0,137.0 58.6,140.3 60.2,145.0 61.1,144.7 61.8,146.0 63.4,147.1 65.0,147.8 66.0,148.0 66.6,148.5 68.2,149.3 69.8,149.3 71.4,149.2 72.0,150.0 73.0,149.4 74.6,149.3 76.2,150.6 77.8,150.4 79.4,161.6 80.0,165.0 81.0,176.4 82.0,185.0 82.6,181.6 84.0,172.0 84.2,174.1 85.8,188.8 86.0,190.0 87.4,172.6 88.0,165.0 89.0,172.1 90.0,182.0 90.6,178.1 92.2,164.1 93.0,158.0 93.8,161.5 95.4,167.5 96.0,170.0 97.0,168.7 98.6,161.3 100.0,155.0 100.2,155.4 101.8,153.8 103.4,155.1 105.0,153.4 106.6,154.7 108.2,152.2 109.8,153.1 110.0,153.0 111.4,154.0 113.0,152.7 114.6,153.6 116.2,153.8 117.8,154.7 119.4,153.6 121.0,154.8 122.6,156.1 124.2,153.3 125.8,154.0 127.4,155.2 129.0,154.5 130.0,155.0 130.6,154.0 132.2,156.2 133.8,155.8 135.4,155.9 137.0,155.9 138.6,155.5 140.2,154.2 141.8,152.9 143.4,155.3 145.0,153.9 146.6,154.8 148.2,155.1 149.8,153.7 150.0,154.6 151.4,154.2 153.0,155.7 154.6,154.7 156.2,152.5 157.8,153.4 159.4,153.4 161.0,153.6 162.6,153.6 164.2,152.7 165.8,152.3 167.4,153.0 169.0,150.8 170.6,152.8 172.2,151.9 173.8,150.9 175.4,150.6 177.0,151.1 178.6,149.4 180.2,148.5 181.8,150.5 183.4,151.2 185.0,149.6 186.6,149.6 188.2,149.3 189.8,148.3 191.4,149.2 193.0,149.3 194.6,148.4 196.2,148.9 197.8,147.1 199.4,147.9 201.0,146.8 202.6,146.8 204.2,147.2 205.8,146.9 206.0,146.7 207.4,147.5 209.0,147.4 210.6,145.9 212.2,147.9 213.8,145.6 215.4,146.9 217.0,147.2 218.6,146.9 220.2,147.4 221.8,147.1 223.4,146.3 225.0,147.8 226.6,147.1 228.2,146.4 229.8,147.2 231.4,147.2 233.0,147.5 234.6,146.8 236.2,147.5 237.8,147.2 239.4,148.7 241.0,147.1 242.6,148.5 244.2,147.4 245.8,148.4 247.4,149.4 249.0,147.3 250.6,147.7 252.2,146.9 253.8,147.1 255.4,147.2 257.0,147.8 258.6,148.5 260.2,148.5 261.8,147.4 263.4,148.0 265.0,146.7 266.6,148.4 268.2,147.8 269.8,147.1 270.0,148.0 271.4,147.3 273.0,148.3 274.6,147.8 276.2,148.1 277.8,147.1 279.4,147.5 281.0,147.1 282.6,145.9 284.2,146.9 285.8,146.8 287.4,146.3 289.0,147.4 290.6,148.4 292.2,147.7 293.8,146.4 295.4,145.4 297.0,146.1 298.6,145.6 300.0,146.0 300.2,146.1 301.8,147.0 303.4,146.0 305.0,144.8 306.6,147.1 308.2,146.0 309.8,147.1 311.4,145.3 313.0,148.0 314.6,145.0 316.2,146.1 317.8,146.7 319.4,143.9 321.0,145.4 322.6,144.7 324.2,147.4 325.8,146.6 327.4,145.2 329.0,144.6 330.6,144.6 332.2,146.1 333.8,145.3 335.4,146.3 337.0,145.6 338.6,144.6 340.2,147.5 341.8,146.4 343.4,145.4 345.0,145.7 346.6,147.1 348.2,146.7 349.8,145.0 351.4,147.2 353.0,145.5 354.6,146.5 356.2,145.0 357.8,145.5 359.4,146.6 361.0,145.0 362.6,146.1 364.2,146.3 365.8,145.5 367.4,147.2 369.0,146.5 370.6,145.9 372.2,146.8 373.8,147.1 375.4,147.0 377.0,145.9 378.6,146.7 380.2,146.3 381.8,145.1 383.4,145.7 385.0,147.7 386.6,145.4 388.2,146.4 389.8,147.4 391.4,145.7 393.0,146.0 394.6,145.4 396.2,146.4 397.8,145.0 399.4,146.4 401.0,145.3 402.6,146.3 404.2,144.6 405.8,145.1 407.4,146.8 409.0,146.5 410.6,143.5 412.2,147.2 413.8,145.3 415.4,146.7 417.0,146.8 418.6,145.9 420.0,146.0 420.2,145.7 421.8,144.4 423.4,146.3 425.0,147.4 426.6,144.8 428.2,146.7 429.8,146.4 431.4,146.5 433.0,144.8 434.6,145.6 436.2,145.8 437.8,147.0 439.4,144.8 441.0,145.1 442.6,144.8 444.2,146.1 445.8,144.1 447.4,145.2 449.0,144.3 450.0,145.3 450.6,145.0 452.2,145.9 453.8,144.9 455.4,145.9 457.0,144.9 458.6,145.3 460.2,145.2 461.8,144.6 463.4,145.6 465.0,145.8 466.6,144.6 468.2,145.8 469.8,145.4 471.4,144.9 473.0,145.4 474.6,146.0 476.2,145.9 477.8,146.5 479.4,145.5 481.0,145.5 482.6,144.1 484.2,144.9 485.8,145.8 487.4,144.4 489.0,144.5 490.6,146.8 492.2,145.2 493.8,144.4 495.4,143.6 497.0,144.6 498.6,147.2 500.2,145.3 501.8,145.8 503.4,145.8 505.0,144.9 506.6,145.6 508.2,145.3 509.8,145.0 511.4,146.1 513.0,144.6 514.6,144.7 516.2,144.8 517.8,146.3 519.4,144.9 521.0,146.7 522.6,144.2 524.2,144.5 525.8,143.2 527.4,144.5 529.0,145.3 530.6,145.8 532.2,144.5 533.8,144.9 535.4,146.4 537.0,144.9 538.6,145.4 540.2,145.8 541.8,144.5 543.4,146.3 545.0,145.1 546.6,145.9 548.2,145.0 549.8,145.5 551.4,146.3 553.0,145.5 554.6,143.8 556.2,145.1 557.8,145.0 559.4,145.1 561.0,145.4 562.6,144.0 564.2,146.7 565.8,144.6 567.4,146.3 569.0,145.0 570.0,145.3 570.6,145.0 572.2,145.2 573.8,145.1 575.4,145.8 577.0,146.4 578.6,146.9 580.2,147.0 581.8,144.6 583.4,146.1 585.0,146.0 586.6,145.6 588.2,146.0 589.8,145.8 591.4,144.9 593.0,145.1 594.6,146.6 596.2,145.8 597.8,147.0 599.4,145.6 600.0,146.0 601.0,145.5 602.6,146.1 604.2,146.1 605.8,146.8 607.4,145.6 609.0,146.6 610.6,146.3 612.2,145.3 613.8,145.8 615.4,145.8 617.0,146.8 618.6,147.0 620.2,146.5 621.8,145.6 623.4,146.6 625.0,146.1 626.6,145.5 628.2,146.6 629.8,145.4 631.4,145.7 633.0,145.2 634.6,144.9 636.2,146.3 637.8,144.7 639.4,145.5 641.0,145.7 642.6,146.4 644.2,145.4 645.8,146.6 647.4,145.3 649.0,145.4 650.6,145.3 652.2,145.6 653.8,145.4 655.4,144.8 657.0,145.4 658.6,145.3 660.2,146.8 661.8,145.1 663.4,146.2 665.0,145.3 666.6,146.7 668.2,145.9 669.8,145.5 671.4,146.9 673.0,147.2 674.6,147.2 676.2,146.7 677.8,146.0 679.4,145.4 681.0,145.6 682.6,145.5 684.2,146.4 685.8,145.6 687.4,146.2 689.0,146.1 690.6,145.9 692.2,145.5 693.8,145.1 695.4,148.0 697.0,145.9 698.6,144.7 700.2,145.0 701.8,145.5 703.4,147.5 705.0,146.1 706.6,145.3 708.2,147.4 709.8,144.5 711.4,146.9 713.0,148.2 714.6,146.0 716.2,146.8 717.8,146.5 719.4,143.7 720.0,146.0 721.0,146.3 722.6,145.6 724.2,143.8 725.8,146.8 727.4,145.6 729.0,146.4 730.6,146.5 732.2,145.7 733.8,144.3 735.4,145.8 737.0,145.6 738.6,145.3 740.2,145.6 741.8,146.3 743.4,147.6 745.0,146.4 746.6,146.6 748.2,147.3 749.8,146.8 751.4,146.3 753.0,145.9 754.6,145.5 756.2,147.3 757.8,146.5 759.4,147.5 761.0,145.9 762.6,146.1 764.2,146.9 765.8,147.8 767.4,146.5 769.0,146.2 770.6,147.1 772.2,145.7 773.8,147.7 775.4,145.8 777.0,145.5 778.6,146.9 780.2,146.4 781.8,148.0 783.4,147.5 785.0,147.3 786.6,145.3 788.2,146.9 789.8,146.3 790.0,147.0 791.4,145.4 793.0,148.5 794.6,145.6 796.2,146.3 797.8,146.4 799.4,146.7 801.0,147.4 802.6,147.6 804.2,146.3 805.8,147.7 807.4,147.9 809.0,147.7 810.6,148.8 812.2,147.1 813.8,147.3 815.4,147.2 817.0,146.7 818.6,147.6 820.2,148.6 821.8,148.2 823.4,147.8 825.0,148.0 826.6,149.0 828.2,148.9 829.8,146.5 831.4,146.9 833.0,148.9 834.6,148.7 836.2,148.7 837.8,148.9 839.4,147.3 841.0,147.3 842.6,148.7 844.2,147.4 845.8,148.5 847.4,150.1 849.0,147.0 850.0,148.5 850.6,148.9 852.2,149.8 853.8,149.5 855.4,148.2 857.0,147.8 858.6,148.5 860.2,147.5 861.8,148.7 863.4,148.3 865.0,148.3 866.6,149.2 868.2,148.6 869.8,148.1 871.4,148.4 873.0,148.4 874.6,148.4 876.2,148.2 877.8,149.3 879.4,148.3 881.0,149.5 882.6,149.1 884.2,149.4 885.8,149.0 887.4,147.6 889.0,150.6 890.6,148.3 892.2,147.8 893.8,148.8 895.4,148.8 897.0,147.1 898.6,147.6 900.2,148.4 901.8,148.4 903.4,147.8 905.0,147.9 906.6,148.7 908.2,147.9 909.8,149.0 911.4,148.9 913.0,148.3 914.6,150.1 916.2,150.0 917.8,147.5 919.4,148.7 921.0,149.9 922.6,148.1 924.2,147.0 925.8,148.0 927.4,148.2 929.0,148.2 930.6,149.0 932.2,149.3 933.8,149.3 935.4,147.2 937.0,148.3 938.6,149.6 940.2,148.4 941.8,147.9 943.4,148.6 945.0,150.6 946.6,147.7 948.2,148.5 949.8,148.6 951.4,148.1 953.0,148.8 954.6,148.4 956.2,147.8 957.8,148.6 959.4,148.5 961.0,148.5 962.6,149.1 964.2,149.3 965.8,149.3 967.4,149.3 969.0,148.0 970.0,149.0 970.6,149.1 972.2,148.8 973.8,148.3 975.4,149.2 977.0,149.0 978.6,149.0 980.2,149.6 981.8,148.3 983.4,149.3 985.0,148.7 986.6,149.1 988.2,149.1 989.8,150.1 991.4,150.1 993.0,150.0 994.6,148.7 996.2,149.9 997.8,151.1 999.4,150.8 1001.0,150.3 1002.6,150.1 1003.0,150.0" fill="none" stroke="#978E4E" stroke-width="2.0" stroke-linejoin="round" stroke-dasharray="16 4.4"/>
<polyline points="57.0,150.0 58.6,150.2 60.2,151.4 61.8,152.6 62.0,152.0 63.4,153.5 65.0,154.1 66.0,154.0 66.6,153.8 68.2,153.4 69.8,152.6 71.4,151.5 72.0,152.0 73.0,152.5 74.6,154.4 76.2,155.3 77.8,156.2 78.7,157.0 79.4,156.0 81.0,155.5 82.6,154.3 84.2,153.6 85.8,152.8 87.4,150.5 89.0,150.6 90.0,150.0 90.6,149.2 92.2,149.1 93.8,148.6 95.4,149.5 97.0,148.9 98.6,148.5 100.2,147.6 101.6,147.7 101.8,147.0 103.4,147.4 105.0,147.7 106.6,147.5 108.2,147.8 109.8,147.2 111.4,148.2 113.0,147.6 114.6,148.2 116.2,147.3 117.8,147.0 119.4,146.7 121.0,147.4 122.6,147.5 124.2,147.0 125.8,147.1 127.4,146.7 129.0,146.5 130.6,146.5 132.2,145.7 133.8,146.1 135.4,146.5 137.0,146.5 138.6,146.9 140.2,146.7 141.8,146.5 143.4,146.3 145.0,145.0 146.6,146.1 148.2,145.6 149.8,146.2 150.0,146.0 151.4,145.9 153.0,145.8 154.6,145.7 156.2,145.9 157.8,145.0 159.4,145.2 161.0,146.6 162.6,146.2 164.2,145.8 165.8,145.8 167.4,145.8 169.0,147.6 170.6,146.3 172.2,146.0 173.8,145.7 175.4,144.8 177.0,146.1 178.6,146.7 180.2,146.5 181.8,146.1 183.4,145.7 185.0,145.4 186.6,146.0 188.2,145.8 189.8,145.4 191.4,146.8 193.0,145.5 194.6,145.7 196.2,144.8 197.8,146.8 199.4,145.9 201.0,146.0 202.6,146.1 204.2,145.6 205.8,145.7 207.4,146.1 209.0,145.6 210.6,146.2 212.2,146.6 213.8,146.4 215.4,146.7 217.0,146.5 218.6,146.9 220.2,146.1 221.8,146.2 223.4,145.5 225.0,145.9 226.6,145.6 228.2,146.0 229.8,145.5 231.4,146.2 233.0,147.3 234.6,145.6 236.2,146.3 237.8,146.3 239.4,145.6 241.0,145.8 242.6,145.7 244.2,146.2 245.8,145.7 247.4,147.3 249.0,146.4 250.6,146.6 252.2,147.1 253.8,146.7 255.4,145.9 257.0,146.2 258.6,146.0 260.2,146.1 261.8,146.5 263.4,145.0 265.0,145.2 266.6,145.8 268.2,146.2 269.8,145.7 270.0,146.0 271.4,145.9 273.0,146.6 274.6,146.5 276.2,146.1 277.8,146.1 279.4,145.6 281.0,146.6 282.6,146.5 284.2,146.0 285.8,146.8 287.4,146.4 289.0,146.4 290.6,145.8 292.2,147.2 293.8,146.4 295.4,147.0 297.0,147.0 298.6,146.6 300.0,147.0 300.2,146.9 301.8,146.9 303.4,146.8 305.0,147.1 306.6,146.7 308.2,147.3 309.8,147.0 311.4,146.4 313.0,147.2 314.6,146.8 316.2,147.2 317.8,145.8 319.4,147.1 321.0,145.8 322.6,146.7 324.2,148.6 325.8,147.3 327.4,147.5 329.0,146.6 330.6,146.4 332.2,146.9 333.8,147.2 335.4,146.9 337.0,146.6 338.6,146.5 340.2,146.8 341.8,147.8 343.4,147.0 345.0,146.8 346.6,146.8 348.2,146.5 349.8,146.3 351.4,147.0 353.0,147.6 354.6,147.2 356.2,146.3 357.8,147.7 359.4,147.1 361.0,147.9 362.6,146.9 364.2,146.3 365.8,147.1 367.4,146.9 369.0,146.4 370.6,146.6 372.2,146.8 373.8,146.5 375.4,147.3 377.0,147.1 378.6,146.8 380.2,146.8 381.8,147.4 383.4,147.2 385.0,146.4 386.6,147.1 388.2,147.9 389.8,147.1 391.4,146.6 393.0,147.8 394.6,148.2 396.2,147.1 397.8,145.8 399.4,146.3 401.0,147.9 402.6,146.9 404.2,147.4 405.8,147.3 407.4,147.1 409.0,147.9 410.6,147.1 412.2,147.3 413.8,147.2 415.4,147.2 417.0,148.3 418.6,146.5 420.0,147.0 420.2,146.4 421.8,147.6 423.4,146.4 425.0,147.1 426.6,146.5 428.2,147.5 429.8,147.0 431.4,147.4 433.0,146.7 434.6,147.0 436.2,145.9 437.8,147.4 439.4,147.2 441.0,147.0 442.6,147.1 444.2,146.8 445.8,147.0 447.4,148.0 449.0,146.7 450.0,147.0 450.6,146.8 452.2,147.4 453.8,147.1 455.4,146.7 457.0,147.9 458.6,147.9 460.2,146.9 461.8,147.9 463.4,146.3 465.0,147.8 466.6,146.2 468.2,147.2 469.8,147.0 471.4,146.8 473.0,147.3 474.6,146.5 476.2,146.6 477.8,146.5 479.4,147.8 481.0,146.7 482.6,147.2 484.2,146.9 485.8,147.5 487.4,146.5 489.0,146.6 490.6,146.7 492.2,147.1 493.8,146.6 495.4,147.3 497.0,147.3 498.6,147.6 500.2,147.3 501.8,147.7 503.4,146.9 505.0,146.8 506.6,146.7 508.2,146.7 509.8,146.4 511.4,147.2 513.0,147.1 514.6,146.0 516.2,147.0 517.8,146.7 519.4,146.6 521.0,146.9 522.6,147.6 524.2,147.1 525.8,146.0 527.4,147.2 529.0,146.6 530.6,147.8 532.2,146.8 533.8,147.0 535.4,146.9 537.0,146.6 538.6,146.8 540.2,147.0 541.8,148.1 543.4,147.1 545.0,147.3 546.6,147.1 548.2,147.1 549.8,147.2 551.4,147.7 553.0,145.5 554.6,146.7 556.2,146.6 557.8,147.5 559.4,146.6 561.0,147.5 562.6,147.6 564.2,146.7 565.8,147.3 567.4,146.8 569.0,147.4 570.0,147.0 570.6,147.3 572.2,147.6 573.8,147.4 575.4,146.5 577.0,147.8 578.6,147.0 580.2,147.6 581.8,147.1 583.4,147.5 585.0,146.4 586.6,147.7 588.2,146.5 589.8,147.0 591.4,147.3 593.0,146.3 594.6,147.2 596.2,147.1 597.8,147.4 599.4,147.0 600.0,147.0 601.0,146.5 602.6,146.5 604.2,146.6 605.8,147.1 607.4,147.0 609.0,147.3 610.6,147.8 612.2,146.9 613.8,146.8 615.4,147.2 617.0,147.3 618.6,146.0 620.2,146.7 621.8,147.1 623.4,147.3 625.0,146.8 626.6,146.5 628.2,148.1 629.8,145.5 631.4,147.7 633.0,146.7 634.6,146.8 636.2,147.0 637.8,147.2 639.4,146.5 641.0,146.3 642.6,147.2 644.2,147.6 645.8,146.9 647.4,148.1 649.0,146.4 650.6,147.4 652.2,147.2 653.8,147.7 655.4,146.4 657.0,147.3 658.6,146.9 660.2,145.9 661.8,146.8 663.4,146.3 665.0,146.8 666.6,147.3 668.2,147.0 669.8,147.9 671.4,147.3 673.0,146.7 674.6,146.8 676.2,147.2 677.8,146.6 679.4,147.3 681.0,147.3 682.6,147.5 684.2,147.1 685.8,147.1 687.4,146.5 689.0,147.1 690.6,147.0 692.2,147.1 693.8,147.2 695.4,146.7 697.0,146.8 698.6,146.7 700.2,146.5 701.8,146.2 703.4,146.5 705.0,147.3 706.6,145.9 708.2,147.3 709.8,147.4 711.4,147.5 713.0,146.9 714.6,146.9 716.2,147.6 717.8,147.4 719.4,147.9 720.0,147.0 721.0,146.8 722.6,146.8 724.2,147.5 725.8,146.8 727.4,146.9 729.0,147.6 730.6,147.3 732.2,146.7 733.8,147.1 735.4,146.8 737.0,147.3 738.6,147.0 740.2,146.3 741.8,147.6 743.4,146.7 745.0,146.7 746.6,146.4 748.2,146.7 749.8,146.4 751.4,146.9 753.0,146.8 754.6,147.1 756.2,146.9 757.8,146.3 759.4,146.2 761.0,146.1 762.6,146.9 764.2,146.0 765.8,147.2 767.4,146.5 769.0,146.3 770.6,146.4 772.2,147.2 773.8,146.3 775.4,146.1 777.0,145.7 778.6,145.4 780.2,145.9 781.8,146.8 783.4,146.5 785.0,145.8 786.6,144.9 788.2,146.6 789.8,146.2 790.0,146.0 791.4,145.0 793.0,146.0 794.6,145.5 796.2,146.6 797.8,146.4 799.4,145.7 801.0,144.9 802.6,145.9 804.2,147.3 805.8,146.3 807.4,145.8 809.0,146.5 810.6,145.8 812.2,146.9 813.8,145.2 815.4,145.8 817.0,146.8 818.6,146.6 820.2,146.3 821.8,145.3 823.4,146.1 825.0,146.4 826.6,145.8 828.2,146.1 829.8,146.5 831.4,145.9 833.0,146.3 834.6,145.9 836.2,145.5 837.8,145.3 839.4,145.7 841.0,145.6 842.6,146.5 844.2,146.1 845.8,145.1 847.4,146.8 849.0,147.2 850.0,146.0 850.6,145.8 852.2,146.3 853.8,145.9 855.4,146.4 857.0,146.0 858.6,146.2 860.2,146.0 861.8,145.7 863.4,145.8 865.0,145.6 866.6,145.6 868.2,145.7 869.8,147.2 871.4,146.3 873.0,146.8 874.6,145.2 876.2,145.8 877.8,146.4 879.4,146.5 881.0,146.1 882.6,145.6 884.2,145.1 885.8,146.0 887.4,145.0 889.0,146.0 890.6,145.5 892.2,145.5 893.8,145.4 895.4,145.0 897.0,145.1 898.6,145.9 900.2,145.4 901.8,145.3 903.4,146.2 905.0,146.0 906.6,145.9 908.2,144.9 909.8,146.2 911.4,146.0 913.0,145.2 914.6,145.4 916.2,146.1 917.8,146.3 919.4,145.5 921.0,145.1 922.6,146.3 924.2,145.4 925.8,146.1 927.4,145.7 929.0,145.6 930.6,145.4 932.2,146.4 933.8,145.5 935.4,145.6 937.0,145.3 938.6,146.6 940.2,145.6 941.8,145.0 943.4,145.5 945.0,144.7 946.6,145.5 948.2,145.0 949.8,146.2 951.4,146.3 953.0,146.7 954.6,145.4 956.2,145.1 957.8,144.5 959.4,145.7 960.0,145.5 961.0,143.7 962.5,142.0 962.6,142.9 964.0,145.5 964.2,146.6 965.8,144.8 967.4,145.5 969.0,146.4 970.6,144.8 972.2,144.9 973.8,146.0 975.4,145.7 977.0,144.6 978.6,145.8 980.2,145.4 981.8,145.5 983.4,145.7 985.0,146.4 986.6,146.0 988.2,145.1 989.8,146.3 991.4,145.9 993.0,145.8 994.6,145.2 996.2,145.1 997.8,145.5 999.4,146.3 1001.0,145.8 1002.6,145.6 1003.0,145.5" fill="none" stroke="#614B90" stroke-width="2.0" stroke-linejoin="round" stroke-dasharray="29 1.6"/>
<polyline points="57.0,190.0 58.2,195.5 59.4,193.0 60.0,195.0 60.6,198.6 61.8,204.2 63.0,210.0 64.2,245.0 65.4,275.4 66.2,300.0 66.6,424.8 66.7,456.8 67.3,300.0 67.8,285.0 69.0,251.2 70.0,225.0 70.2,224.7 71.4,231.2 72.6,237.6 73.0,240.0 73.8,241.3 75.0,247.3 76.0,250.0 76.2,250.4 77.4,253.6 78.0,262.0 78.6,266.1 79.8,268.3 80.6,272.0 81.0,268.9 82.0,265.0 82.2,261.0 83.4,234.7 83.6,230.0 84.5,203.0 84.6,206.3 85.5,235.0 85.8,234.9 87.0,241.3 88.0,245.0 88.2,243.7 89.4,254.2 90.0,255.0 90.6,248.6 91.8,241.2 92.0,240.0 93.0,239.0 94.2,238.1 95.0,237.0 95.4,237.7 96.6,242.0 97.8,239.0 98.0,245.0 99.0,241.3 100.2,237.2 101.0,235.0 101.4,232.8 102.6,231.8 103.8,224.0 104.0,225.0 105.0,222.3 106.2,216.6 107.0,218.0 107.4,218.5 108.6,216.4 109.8,217.3 110.0,220.0 111.0,223.0 112.2,220.2 113.4,218.7 113.8,218.8 114.6,218.9 115.8,216.4 117.0,217.0 118.2,219.2 119.4,215.4 120.6,219.0 121.8,216.0 123.0,218.8 124.2,216.9 125.4,221.3 125.6,218.8 126.6,220.3 127.8,218.1 129.0,216.2 130.2,218.0 131.4,219.3 132.6,218.0 133.8,220.1 135.0,220.0 136.2,221.4 137.4,219.9 138.6,219.4 139.8,221.3 141.0,219.8 142.2,221.6 143.4,219.9 144.6,222.9 145.8,220.1 147.0,219.0 148.2,220.9 149.0,221.0 149.4,219.9 150.6,219.5 151.8,220.9 153.0,222.3 154.2,218.0 155.4,221.3 156.6,221.3 157.8,221.4 159.0,222.9 160.0,222.0 160.2,219.8 161.4,222.6 162.6,221.1 163.8,221.4 165.0,220.7 166.2,220.3 167.4,219.8 168.6,221.1 169.8,223.5 171.0,221.7 172.2,221.2 172.6,220.0 173.4,220.3 174.6,218.0 175.8,219.0 177.0,220.6 178.2,214.9 179.4,217.4 180.0,216.0 180.6,216.9 181.8,214.9 183.0,214.8 184.0,213.0 184.2,213.7 185.4,207.1 186.0,200.0 186.6,205.5 187.8,213.2 188.0,212.0 189.0,211.1 190.2,210.4 191.4,207.9 192.6,206.6 193.8,203.9 195.0,204.2 196.0,202.0 196.2,204.4 197.4,203.8 198.6,206.2 199.8,208.6 200.0,208.0 201.0,208.9 202.2,211.5 203.4,211.7 204.6,210.7 205.8,212.2 207.0,216.0 208.0,216.0 208.2,216.7 209.4,216.4 210.6,214.1 211.8,213.0 213.0,209.3 214.2,212.7 215.0,210.0 215.4,208.2 216.6,210.1 217.8,205.8 219.0,205.5 219.6,206.0 220.2,205.9 221.4,204.6 222.6,203.7 223.8,205.6 225.0,204.8 226.2,203.9 227.0,203.0 227.4,202.6 228.6,202.2 229.8,203.2 231.0,203.5 232.2,204.7 233.0,205.0 233.4,206.0 234.6,204.3 235.8,203.0 237.0,202.9 238.2,205.4 239.4,203.4 240.0,203.0 240.6,202.1 241.0,201.0 241.8,205.0 243.0,210.0 244.2,210.5 245.4,209.5 246.6,210.7 247.8,209.8 249.0,204.0 250.0,208.0 250.2,207.8 251.4,212.6 252.6,206.3 253.8,208.6 255.0,208.5 256.2,210.2 257.4,208.6 258.6,210.7 259.8,206.8 261.0,206.9 262.2,208.6 263.4,207.8 264.6,207.4 265.0,209.0 265.8,209.9 267.0,209.4 268.2,209.0 269.4,208.4 270.6,209.4 271.8,208.8 273.0,207.9 274.2,209.8 275.4,209.6 276.6,209.1 277.8,210.0 278.4,209.0 279.0,207.4 280.2,208.9 281.4,208.5 282.6,211.4 283.8,210.2 285.0,212.7 286.2,212.0 287.4,209.2 288.6,208.2 289.8,210.7 290.0,210.0 291.0,209.4 292.2,209.3 293.4,207.7 294.6,210.0 295.0,209.0 295.8,209.4 297.0,209.8 298.2,209.8 299.4,208.1 300.6,206.2 301.8,209.3 303.0,208.8 304.2,209.1 305.0,210.0 305.4,211.5 306.6,210.0 307.8,212.5 309.0,210.6 310.2,211.5 311.4,211.3 312.6,211.9 313.8,208.9 315.0,212.5 316.0,211.0 316.2,210.7 317.4,206.5 318.6,206.3 319.8,203.3 321.0,202.1 322.0,198.0 322.2,199.3 323.4,200.3 324.6,198.8 325.8,205.3 326.0,203.0 327.0,205.7 328.2,205.3 329.4,205.4 330.0,205.0 330.6,206.9 331.8,204.1 333.0,206.7 334.2,205.9 335.4,204.6 336.6,206.9 337.8,207.1 339.0,209.4 340.0,207.0 340.2,208.5 341.4,204.9 342.6,204.6 343.8,207.7 345.0,207.8 346.2,206.9 347.4,206.4 348.6,208.6 349.8,207.4 351.0,208.4 352.2,210.9 353.4,210.3 353.8,210.0 354.6,209.6 355.8,210.1 357.0,212.5 358.2,216.4 359.4,214.1 360.6,218.5 361.8,215.8 363.0,218.0 364.2,218.2 365.4,220.0 366.6,218.3 367.8,220.1 369.0,218.5 370.2,222.0 371.4,223.2 372.6,222.0 373.8,220.4 375.0,221.0 376.2,219.4 377.4,216.2 378.6,222.9 379.8,219.1 380.0,218.0 381.0,219.0 382.2,218.1 383.4,217.5 384.6,220.5 385.8,214.0 387.0,216.0 388.2,215.5 389.0,216.0 389.4,221.7 390.0,231.0 390.6,230.2 391.8,224.5 393.0,222.0 394.2,219.1 395.4,218.6 396.6,220.1 397.8,219.9 398.5,218.0 399.0,219.2 400.2,220.2 401.4,217.0 402.6,219.1 403.8,218.6 405.0,217.2 406.2,216.2 407.4,218.5 408.6,216.1 409.8,216.6 410.0,217.0 411.0,215.3 412.2,219.0 413.4,216.0 414.6,215.0 415.8,215.0 417.0,214.7 417.3,215.0 418.2,214.9 419.4,211.9 420.6,212.4 421.8,214.6 423.0,215.2 424.2,211.7 425.4,213.1 426.6,211.7 427.8,208.9 429.0,212.0 430.2,211.5 431.4,210.4 432.6,213.3 433.8,211.7 435.0,211.9 436.2,209.8 437.4,212.2 438.6,209.1 439.8,212.3 440.0,212.0 441.0,214.0 442.2,210.0 443.4,212.9 444.6,213.6 445.8,211.1 447.0,213.0 448.2,211.3 449.4,210.3 450.6,207.9 451.8,209.2 453.0,208.5 454.2,214.2 455.0,210.5 455.4,211.0 456.6,210.6 457.8,209.2 459.0,214.1 460.2,210.1 461.4,214.3 462.6,214.0 463.8,212.8 465.0,213.0 466.2,212.3 467.4,213.5 468.6,211.8 469.8,215.0 471.0,216.9 472.2,215.9 473.4,216.5 474.6,214.1 475.8,215.9 477.0,214.1 478.2,215.3 478.4,216.0 479.4,217.8 480.6,221.3 481.8,218.5 483.0,219.3 484.0,220.0 484.2,217.8 485.4,224.7 486.6,227.0 487.8,230.1 489.0,236.0 490.2,232.6 491.4,233.8 492.6,231.8 493.8,232.2 495.0,230.0 496.2,228.6 497.4,227.9 498.6,229.1 499.8,227.1 501.0,226.0 502.0,224.0 502.2,226.2 503.4,224.0 504.6,221.9 505.8,221.9 507.0,220.4 508.2,223.0 509.4,221.5 510.0,222.0 510.6,222.8 511.8,223.3 513.0,220.8 514.2,222.3 515.4,223.9 516.6,222.1 517.8,223.4 518.4,222.0 519.0,223.7 520.2,226.6 520.8,230.0 521.4,229.2 522.6,225.8 523.8,228.8 525.0,226.0 526.0,226.0 526.2,227.8 527.4,222.9 528.6,223.9 529.8,223.1 531.0,221.2 532.2,221.1 533.4,218.3 534.6,216.7 535.0,218.0 535.8,215.6 537.0,216.3 538.2,215.5 539.4,216.6 540.6,215.2 541.8,214.3 543.0,213.7 544.2,211.4 545.0,214.0 545.4,213.4 546.6,214.5 547.8,211.7 549.0,213.2 549.4,213.6 550.2,214.9 551.4,213.3 552.6,215.1 553.8,214.6 555.0,219.4 556.0,216.0 556.2,218.2 557.4,218.2 558.6,215.7 559.8,218.0 561.0,217.1 562.2,218.2 563.4,217.1 563.5,218.0 564.6,218.2 565.8,216.8 567.0,218.4 568.2,220.7 569.4,215.9 570.6,216.0 571.8,218.8 573.0,219.2 574.2,217.4 575.0,218.0 575.4,218.8 576.6,218.3 577.8,218.3 579.0,219.3 580.2,216.0 581.4,217.7 582.6,216.8 583.8,215.2 585.0,216.0 586.2,216.7 587.4,213.8 588.6,213.4 589.8,217.2 591.0,213.8 592.2,217.9 593.4,216.8 594.6,214.4 595.8,213.7 596.4,215.0 597.0,212.5 598.2,217.6 599.4,217.1 600.6,223.8 601.0,222.0 601.8,218.7 603.0,220.4 604.2,215.1 605.4,217.7 606.6,219.2 607.8,215.5 608.0,216.0 609.0,217.1 610.2,220.5 610.5,222.0 611.4,222.3 612.6,222.7 613.8,220.6 615.0,217.4 616.2,220.7 617.4,221.3 618.6,223.0 619.8,219.3 620.0,219.0 621.0,219.1 622.2,217.8 623.4,219.7 624.6,221.0 625.8,216.6 627.0,218.1 628.2,216.2 629.4,216.6 630.6,217.2 631.8,218.1 633.0,215.9 634.0,217.0 634.2,216.5 635.4,218.9 636.6,217.5 637.8,217.7 639.0,217.1 640.2,216.0 641.4,216.9 642.6,216.9 643.8,216.0 645.0,217.4 646.2,215.7 647.4,217.0 648.6,215.5 649.8,216.4 651.0,214.2 652.2,214.2 653.0,215.0 653.4,213.2 654.6,217.0 655.8,216.0 657.0,215.6 658.2,216.4 659.4,214.3 660.6,215.8 661.8,214.9 663.0,213.0 664.2,215.5 665.0,216.0 665.4,214.7 666.6,218.2 667.8,214.8 669.0,215.0 670.2,217.5 671.4,216.0 672.6,213.9 673.8,216.3 675.0,214.8 676.2,218.6 676.4,216.0 677.4,214.4 678.6,214.9 679.8,211.8 681.0,215.0 682.2,218.9 683.4,215.8 684.6,214.5 685.8,216.4 687.0,215.5 688.2,215.9 689.4,219.8 690.0,216.0 690.6,219.0 691.8,218.3 693.0,218.3 694.2,214.3 695.4,212.6 696.6,216.7 697.8,216.1 699.0,215.4 700.2,215.1 701.4,216.3 702.6,216.0 703.8,215.4 704.6,215.0 705.0,215.8 706.2,214.8 707.4,214.7 708.6,217.5 709.8,215.1 711.0,218.7 712.2,216.7 713.4,215.9 714.6,217.7 715.0,216.0 715.8,215.3 717.0,215.9 718.2,215.7 719.4,216.3 720.6,217.5 721.8,219.7 723.0,217.4 724.2,215.1 725.4,215.5 726.6,214.1 727.8,218.1 728.0,217.0 729.0,219.1 730.2,219.3 731.4,220.3 732.6,221.5 733.0,221.0 733.8,221.4 735.0,221.4 736.2,220.4 737.4,218.2 738.6,220.8 739.8,221.1 740.0,219.0 741.0,216.5 742.2,218.6 743.4,217.3 744.6,219.8 745.8,218.6 747.0,221.2 748.2,220.7 749.4,218.3 750.6,218.3 751.7,219.0 751.8,218.1 753.0,220.0 754.2,217.8 755.4,219.9 756.6,217.2 757.8,221.1 759.0,220.3 760.2,217.9 761.4,218.5 762.6,220.0 763.8,220.3 765.0,220.0 766.2,215.6 767.4,220.3 768.6,222.3 769.8,219.3 771.0,217.9 772.2,221.9 773.4,220.4 774.6,220.3 775.0,220.0 775.8,220.7 777.0,217.4 778.2,217.9 779.4,216.8 780.6,216.4 781.8,217.2 783.0,215.7 784.2,219.4 785.4,217.3 786.6,217.4 787.8,213.2 789.0,215.0 790.0,215.0 790.2,214.7 791.4,215.1 792.6,215.5 793.8,213.4 795.0,213.1 796.2,215.9 797.4,217.8 798.6,217.4 799.8,213.7 801.0,212.8 801.5,214.0 802.2,214.4 803.4,215.0 804.6,217.2 805.8,214.3 807.0,213.7 808.2,216.6 809.4,214.1 810.6,214.0 811.8,216.3 813.0,215.4 814.2,214.3 815.0,216.0 815.4,215.6 816.6,215.4 817.8,215.8 819.0,215.1 820.2,217.2 821.4,215.8 822.6,215.5 823.8,218.1 825.0,215.2 826.2,217.8 827.4,217.6 828.6,216.3 829.8,217.2 831.0,214.7 832.0,217.0 832.2,218.1 833.4,220.5 834.6,225.1 835.6,230.0 835.8,230.2 837.0,227.8 838.2,228.3 839.4,227.8 840.6,227.9 841.8,226.1 843.0,226.2 843.8,224.0 844.2,222.6 845.4,222.5 846.6,223.3 847.8,223.4 849.0,221.6 850.2,219.4 851.4,217.8 852.6,217.3 853.8,219.8 855.0,215.9 855.6,217.0 856.2,216.7 857.4,218.2 858.6,218.1 859.8,216.6 861.0,220.9 862.0,218.0 862.2,218.6 863.4,221.2 864.6,224.4 865.8,225.1 867.0,229.0 868.2,230.2 868.5,231.0 869.4,228.9 870.6,227.7 871.8,228.7 873.0,227.3 874.2,225.9 875.4,224.4 876.6,223.7 877.8,224.2 879.0,222.0 880.2,223.4 881.4,221.0 882.6,221.5 883.8,218.0 885.0,218.7 886.2,219.1 887.4,218.5 888.6,220.6 889.8,216.1 890.8,219.0 891.0,219.8 892.2,220.3 893.4,222.8 894.6,218.9 895.8,220.5 897.0,222.3 898.2,221.7 899.4,219.0 900.6,220.1 901.8,219.1 902.6,221.0 903.0,221.0 904.2,221.8 905.4,222.6 906.6,221.2 907.8,221.5 909.0,221.6 910.2,218.5 911.4,220.6 912.6,220.9 913.8,218.9 915.0,219.0 916.2,217.3 917.4,218.8 918.6,218.6 919.8,219.2 921.0,215.2 922.2,217.1 923.4,220.5 924.6,219.2 925.8,216.8 926.0,217.0 927.0,216.7 928.2,216.9 929.4,216.0 930.6,217.0 931.8,217.8 933.0,216.2 934.2,218.1 935.4,218.7 936.6,216.6 937.8,218.0 939.0,216.5 940.0,219.0 940.2,219.1 941.4,219.3 942.6,218.2 943.8,219.1 945.0,219.8 946.2,220.0 947.4,217.0 948.6,218.5 949.6,219.0 949.8,216.8 951.0,216.0 952.2,220.3 953.4,219.8 954.6,220.4 955.8,219.6 957.0,217.5 958.2,218.5 959.4,217.2 960.0,218.0 960.6,220.0 961.8,214.3 963.0,218.4 964.2,216.8 965.4,218.7 966.6,219.3 967.8,216.4 969.0,219.4 970.2,218.9 971.4,214.7 972.6,219.8 973.0,217.0 973.8,215.2 975.0,215.0 976.2,218.4 977.4,215.9 978.6,217.3 979.8,216.9 981.0,215.5 982.2,219.4 983.4,219.2 984.6,217.1 985.0,217.0 985.8,219.3 987.0,216.8 988.2,217.1 989.4,216.2 990.6,214.5 991.8,215.9 993.0,214.9 994.2,216.8 995.4,216.3 996.6,215.1 996.7,216.0 997.8,217.9 999.0,216.6 1000.2,218.7 1001.4,215.4 1002.6,215.4 1003.0,216.0" fill="none" stroke="#CF8445" stroke-width="2.0" stroke-linejoin="round" stroke-dasharray="8.6 1.6"/>
<polyline points="57.0,193.0 58.2,195.7 59.4,196.6 60.6,195.3 61.8,194.7 62.0,196.0 63.0,195.4 64.2,198.2 65.4,197.9 66.0,200.0 66.6,197.8 67.8,200.3 69.0,200.2 70.2,200.8 71.4,198.6 71.7,200.0 72.6,202.0 73.8,204.5 74.0,205.0 75.0,206.2 76.0,212.0 76.2,215.1 77.4,228.6 78.0,235.0 78.6,246.7 79.8,259.6 80.0,262.0 81.0,275.8 82.0,290.0 82.2,294.3 83.4,307.2 84.4,319.0 84.6,316.7 85.8,293.1 86.0,290.0 87.0,269.9 88.2,245.0 89.4,249.9 90.0,250.0 90.6,248.8 91.8,243.5 92.7,240.0 93.0,239.0 94.2,243.9 95.0,245.0 95.4,243.7 96.6,240.5 97.0,238.0 97.8,240.7 99.0,244.0 100.2,243.9 101.4,240.4 101.7,240.0 102.6,235.8 103.8,230.5 104.7,225.0 105.0,222.7 106.2,221.1 107.0,220.0 107.4,218.8 108.6,221.4 109.0,218.0 109.8,217.3 111.0,217.6 112.0,216.0 112.2,217.1 113.4,216.6 114.6,215.5 115.8,220.1 116.0,218.8 117.0,218.2 118.2,220.0 119.4,217.0 120.0,219.0 120.6,218.2 121.8,220.6 123.0,220.6 124.2,216.3 125.4,216.0 125.6,218.0 126.6,217.7 127.8,218.6 129.0,217.5 130.0,217.0 130.2,217.4 131.4,215.0 132.6,216.8 133.8,217.2 135.0,215.0 136.2,214.8 137.4,213.8 138.6,215.3 139.8,218.1 140.0,217.0 141.0,213.8 142.2,215.5 143.4,213.5 144.6,214.0 145.0,214.0 145.8,212.2 147.0,210.5 148.2,214.1 149.0,216.5 149.4,218.7 150.6,217.0 151.8,218.3 153.0,216.0 154.2,215.3 155.0,216.0 155.4,216.4 156.6,211.1 157.8,214.8 159.0,214.6 160.0,214.0 160.2,211.8 161.4,212.4 162.6,208.8 163.0,209.0 163.8,207.7 165.0,215.0 166.2,214.4 167.4,212.9 168.6,213.3 169.8,213.5 171.0,215.3 172.2,213.3 172.6,213.0 173.4,213.0 174.6,213.6 175.8,210.3 177.0,214.9 178.2,211.4 179.4,213.7 180.0,213.0 180.6,211.2 181.8,211.1 183.0,211.7 184.2,214.8 185.4,212.7 186.6,210.4 187.8,210.6 188.0,211.0 189.0,209.4 190.2,211.2 191.4,210.6 192.6,212.7 193.8,209.7 195.0,211.4 196.0,212.0 196.2,210.7 197.4,210.6 198.6,212.5 199.8,211.3 201.0,211.8 202.2,212.4 203.4,212.1 204.6,208.0 205.0,210.0 205.8,210.7 207.0,207.1 208.2,209.4 209.4,212.3 210.6,208.9 211.8,208.5 212.0,209.0 213.0,209.1 214.2,208.7 215.4,208.6 216.6,207.3 217.8,209.9 219.0,209.4 219.6,208.0 220.2,207.5 221.4,207.8 222.6,207.9 223.8,208.0 225.0,206.0 226.2,206.0 227.4,205.8 228.6,203.8 229.0,204.0 229.8,202.8 231.0,204.3 232.2,207.1 233.0,206.0 233.4,208.0 234.6,208.4 235.8,208.9 236.0,210.0 237.0,210.9 238.2,213.4 239.4,213.5 240.6,210.9 241.8,212.4 243.0,213.0 244.2,211.0 245.4,211.6 246.6,213.8 247.8,213.7 249.0,215.3 250.0,214.0 250.2,215.9 251.4,215.4 252.6,216.3 253.8,213.6 255.0,214.6 256.2,212.8 257.4,215.2 258.6,218.4 259.8,214.8 261.0,212.5 262.2,214.5 263.4,216.2 264.6,212.5 265.0,214.0 265.8,215.2 267.0,213.2 268.2,216.1 269.4,215.4 270.6,214.7 271.8,217.3 273.0,213.8 274.2,213.4 275.4,217.3 276.6,213.2 277.8,217.9 278.0,214.6 279.0,214.5 280.2,212.9 281.4,214.4 282.6,214.6 283.8,214.6 285.0,214.0 286.2,215.8 287.4,210.7 288.6,213.2 289.8,213.6 290.0,214.0 291.0,216.7 292.2,211.0 293.4,213.5 294.6,212.3 295.0,214.0 295.8,212.9 297.0,214.8 298.2,214.3 299.4,215.7 300.6,212.5 301.8,213.7 303.0,215.0 304.2,214.4 305.0,213.0 305.4,212.4 306.6,214.3 307.8,211.0 309.0,214.8 310.2,212.1 311.4,211.4 312.6,211.7 313.8,212.4 315.0,213.4 316.0,210.6 316.2,211.0 317.4,214.1 318.6,219.0 319.8,220.2 320.9,224.7 321.0,221.9 322.2,223.1 323.4,218.7 324.0,218.0 324.6,219.4 325.8,215.6 327.0,212.3 328.2,216.5 329.4,215.8 330.0,215.3 330.6,217.6 331.8,215.9 333.0,215.4 334.2,215.6 335.4,214.0 336.6,214.6 337.8,212.3 339.0,214.9 340.0,214.0 340.2,212.8 341.4,213.3 342.6,215.1 343.8,215.4 345.0,212.5 346.2,217.1 347.4,213.2 348.6,215.3 349.8,215.5 351.0,214.4 352.2,214.3 353.4,216.8 353.8,214.1 354.6,216.3 355.8,217.0 357.0,215.0 358.2,217.9 359.4,222.2 360.6,222.1 360.8,222.0 361.8,219.8 363.0,219.3 364.2,218.9 365.4,219.5 366.0,218.0 366.6,218.3 367.8,218.8 369.0,215.5 370.2,217.8 371.4,215.0 372.6,215.3 373.8,221.2 375.0,228.0 376.2,228.7 377.4,224.3 378.6,222.0 379.8,220.0 380.0,220.0 381.0,219.1 382.2,221.6 383.4,220.9 384.6,219.5 385.8,218.3 387.0,219.2 388.2,217.2 389.0,217.0 389.4,217.6 390.6,217.3 391.8,216.5 393.0,218.6 394.2,218.5 395.4,217.6 396.6,212.5 397.8,217.9 398.5,215.0 399.0,217.0 400.2,217.5 401.4,220.3 402.6,224.3 403.8,226.6 405.0,228.4 405.5,228.0 406.2,227.1 407.4,225.1 408.6,224.4 409.8,221.2 410.0,221.0 411.0,219.0 412.2,218.6 413.4,218.5 414.6,218.3 415.8,220.4 417.0,214.2 417.3,216.0 418.2,216.5 419.4,215.3 420.6,215.6 421.8,216.9 423.0,216.4 424.2,214.0 425.4,213.1 426.6,211.6 427.8,213.2 429.0,213.0 430.2,215.0 431.4,212.8 432.6,214.4 433.8,214.5 435.0,214.1 436.2,215.3 437.4,213.6 438.6,212.6 439.8,212.2 440.0,214.0 441.0,215.5 442.2,213.7 443.4,214.0 444.6,215.8 445.8,213.5 447.0,217.5 448.0,215.0 448.2,216.1 449.4,214.9 450.6,215.4 451.8,218.6 453.0,215.8 454.2,217.2 455.4,218.8 456.6,219.8 457.8,220.1 459.0,221.3 459.6,221.0 460.2,220.3 461.4,220.3 462.6,222.0 463.8,220.8 465.0,218.8 466.2,221.7 467.4,215.8 468.6,218.5 469.8,219.1 470.0,218.0 471.0,219.5 472.2,218.2 473.4,217.4 474.6,218.9 475.8,217.7 477.0,218.7 478.2,213.7 478.4,218.0 479.4,220.7 480.6,221.6 481.8,226.8 483.0,228.0 484.2,231.4 485.4,233.6 486.6,234.2 486.7,235.0 487.8,261.5 489.0,289.0 490.2,284.1 491.4,280.5 492.0,278.0 492.6,275.2 493.8,268.9 495.0,265.0 496.2,264.4 497.4,258.9 498.0,256.0 498.6,251.7 499.8,253.7 501.0,247.9 502.0,248.0 502.2,247.2 503.4,243.9 504.6,241.1 505.8,239.5 506.7,237.0 507.0,236.2 508.2,233.1 509.4,233.9 510.6,233.0 511.0,232.0 511.8,233.7 513.0,229.0 514.2,226.4 515.4,226.1 516.0,226.0 516.6,227.3 517.8,225.7 519.0,226.6 519.6,228.0 520.2,242.8 520.8,256.0 521.4,254.9 522.6,253.0 523.8,249.4 524.0,250.0 525.0,247.4 526.2,246.6 527.4,245.3 527.8,245.0 528.6,242.6 529.8,240.9 531.0,238.2 532.0,235.0 532.2,235.4 533.4,232.6 534.6,228.0 535.8,225.0 537.0,224.0 538.2,224.3 539.4,222.2 540.6,221.5 541.8,218.7 543.0,219.2 544.2,217.6 545.0,218.0 545.4,217.2 546.6,219.1 547.8,219.3 549.0,223.1 550.2,226.2 550.6,225.0 551.4,223.2 552.6,223.3 553.8,220.4 555.0,221.9 556.0,220.0 556.2,222.7 557.4,217.4 558.6,218.3 559.8,220.1 561.0,217.9 562.2,216.9 563.4,213.0 563.5,216.0 564.6,216.4 565.8,218.6 567.0,220.1 568.2,219.5 569.0,219.0 569.4,218.3 570.6,218.5 571.8,217.2 573.0,218.7 574.2,222.4 575.0,221.0 575.4,220.7 576.6,218.7 577.8,222.4 579.0,217.7 580.2,221.9 581.4,219.2 582.6,220.0 583.8,220.3 585.0,219.0 586.2,219.3 587.4,220.6 588.6,218.6 589.8,218.0 591.0,217.3 592.2,216.0 593.4,217.0 594.0,218.0 594.6,222.6 595.8,228.7 597.0,235.9 597.6,237.0 598.2,239.9 599.4,234.4 600.6,231.6 601.0,230.0 601.8,226.7 603.0,226.4 604.2,228.2 605.4,223.8 606.0,222.0 606.6,223.3 607.8,226.9 609.0,226.5 610.2,231.1 611.4,233.3 611.7,236.0 612.6,231.5 613.8,234.2 615.0,232.8 616.0,230.0 616.2,229.5 617.4,229.1 618.6,225.9 619.8,226.9 621.0,226.1 622.0,224.0 622.2,226.1 623.4,225.2 624.6,222.6 625.8,220.6 627.0,218.6 628.0,219.0 628.2,218.0 629.4,219.0 630.6,218.1 631.8,216.5 633.0,218.2 634.0,215.0 634.2,216.0 635.4,214.9 636.6,214.4 637.8,214.7 639.0,213.0 640.2,212.9 641.4,214.7 642.6,213.2 643.5,214.0 643.8,214.1 645.0,218.2 646.2,217.9 647.4,222.0 648.0,221.0 648.6,220.7 649.8,222.5 651.0,220.4 652.2,216.6 653.4,220.5 654.6,217.9 655.0,218.0 655.8,214.8 657.0,217.6 658.2,217.3 659.4,214.8 660.6,215.5 661.8,216.9 662.0,216.0 663.0,218.8 664.2,219.2 665.4,220.1 666.6,220.7 667.8,216.1 668.0,220.0 669.0,219.8 670.2,222.2 671.4,218.9 672.6,225.1 673.8,226.3 675.0,226.0 676.2,223.8 677.4,223.4 678.6,221.6 679.8,222.0 681.0,221.0 682.2,220.8 683.4,220.8 684.6,219.2 685.8,221.2 687.0,220.0 688.2,221.8 689.4,220.8 690.6,218.0 691.8,217.9 693.0,220.0 694.2,219.8 695.4,218.7 696.6,219.8 697.8,220.0 699.0,218.5 700.2,215.6 701.4,216.0 702.6,218.4 703.8,215.6 704.6,217.0 705.0,218.7 706.2,217.2 707.4,218.3 708.6,216.4 709.8,217.9 711.0,213.8 712.2,218.1 713.4,219.6 714.6,217.6 715.0,219.0 715.8,217.9 717.0,219.4 718.2,219.8 719.4,218.8 720.6,221.3 721.8,218.1 723.0,222.5 724.2,219.0 725.4,220.2 726.6,223.7 727.8,220.5 728.0,222.0 729.0,222.2 730.2,228.1 731.4,229.8 731.7,232.0 732.6,228.7 733.8,227.1 735.0,226.0 736.2,223.9 737.4,222.6 738.6,221.6 739.8,224.6 740.0,222.0 741.0,222.1 742.2,225.8 743.4,223.6 744.6,227.0 745.8,227.4 747.0,224.2 748.2,225.0 749.4,226.2 750.0,225.0 750.6,224.5 751.8,222.9 753.0,225.6 754.2,226.7 755.4,228.3 756.6,226.5 757.8,228.1 758.7,229.0 759.0,229.0 760.2,225.9 761.4,227.7 762.6,226.2 763.8,227.6 765.0,226.2 766.0,226.0 766.2,225.7 767.4,222.1 768.6,225.3 769.8,224.6 771.0,223.5 772.2,223.9 773.4,222.5 774.6,224.4 775.0,224.0 775.8,224.4 777.0,223.5 778.2,220.9 779.4,223.4 780.6,221.3 781.8,217.7 782.0,219.0 783.0,218.3 784.2,215.5 785.4,217.1 786.6,217.8 787.8,218.0 789.0,214.9 790.0,215.0 790.2,212.3 791.4,214.6 792.6,216.8 793.8,214.9 795.0,216.5 796.2,215.7 797.4,216.7 798.6,215.2 799.8,213.2 801.0,214.7 801.5,214.0 802.2,219.0 803.4,216.5 804.6,216.6 805.8,224.6 807.0,224.1 807.3,224.0 808.2,222.3 809.4,221.2 810.6,218.8 811.8,221.1 813.0,219.0 814.2,218.5 815.4,216.7 816.6,216.3 817.8,215.6 819.0,217.2 820.0,215.0 820.2,214.8 821.4,217.5 822.6,214.5 823.8,215.3 825.0,215.8 826.2,216.1 827.4,217.2 828.6,219.2 829.7,218.0 829.8,220.0 831.0,219.2 832.2,225.2 833.4,226.0 834.4,228.0 834.6,232.6 835.8,243.2 837.0,255.5 837.2,259.0 838.2,257.7 839.4,254.4 840.0,252.0 840.6,249.5 841.8,246.5 842.6,244.0 843.0,243.4 844.2,241.2 845.4,235.7 846.6,234.1 847.8,233.5 848.5,232.0 849.0,231.5 850.2,228.3 851.4,224.4 852.6,227.1 853.8,222.6 854.4,222.0 855.0,222.8 856.2,231.4 856.7,231.0 857.4,231.8 858.6,230.0 859.8,228.2 861.0,226.2 862.0,224.0 862.2,222.4 863.4,223.0 864.6,222.6 865.8,222.1 867.0,220.9 867.3,220.0 868.2,235.5 869.2,256.0 869.4,254.6 870.6,252.0 871.8,249.2 872.0,249.0 873.0,245.2 874.2,240.8 874.4,243.0 875.4,239.7 876.6,240.1 877.8,237.8 879.0,236.0 880.2,235.4 881.4,230.2 882.6,230.9 883.8,230.0 885.0,230.3 886.2,225.0 887.4,225.2 888.6,223.3 889.8,226.6 891.0,223.8 892.2,221.8 893.0,222.0 893.4,222.5 894.6,222.9 895.8,225.1 897.0,226.3 898.2,226.6 899.4,226.5 900.6,227.9 901.8,228.7 902.6,228.0 903.0,229.2 904.2,223.2 905.4,224.9 906.6,223.0 907.3,222.0 907.8,222.6 909.0,222.8 910.2,223.9 911.4,225.6 912.6,226.0 913.0,226.0 913.8,225.4 915.0,222.5 916.2,221.1 917.4,220.7 918.6,218.0 919.8,218.7 921.0,217.1 921.4,218.0 922.2,215.1 923.4,214.7 924.6,216.6 925.8,216.2 927.0,220.1 928.2,217.8 929.4,215.1 930.6,215.3 931.8,214.3 933.0,214.4 934.2,214.8 935.4,214.9 935.5,215.0 936.6,223.2 936.7,225.0 937.8,225.4 939.0,224.2 940.2,225.3 941.4,219.5 942.0,221.0 942.6,221.9 943.8,220.0 945.0,217.8 946.2,219.4 947.4,217.1 948.6,219.2 949.6,219.0 949.8,223.2 951.0,221.6 952.2,222.8 953.4,222.4 954.6,218.8 955.8,222.3 957.0,222.4 958.2,223.3 959.0,223.0 959.4,221.3 960.6,219.3 961.8,225.0 963.0,223.1 964.2,221.2 965.4,219.5 966.0,220.0 966.6,220.0 967.8,217.4 969.0,220.2 970.2,218.4 971.4,217.5 972.6,216.5 973.0,217.0 973.8,216.6 975.0,216.3 976.2,215.0 977.4,216.6 978.6,214.9 979.8,213.9 980.0,214.0 981.0,212.6 982.2,215.6 983.4,215.6 984.6,214.6 985.8,210.7 987.0,212.8 988.2,214.7 989.4,213.1 990.0,213.0 990.6,214.8 991.8,212.1 993.0,213.7 994.2,213.2 995.4,208.5 996.6,211.4 996.7,212.0 997.8,210.2 999.0,209.0 1000.2,209.3 1001.4,210.2 1002.6,215.2 1003.7,214.0" fill="none" stroke="#3462A4" stroke-width="2.0" stroke-linejoin="round"/>
<rect x="57.8" y="141.4" width="6.6" height="6.6" fill="#fff" stroke="#978E4E" stroke-width="1.8"/>
<rect x="74.5" y="147.1" width="6.6" height="6.6" fill="#fff" stroke="#978E4E" stroke-width="1.8"/>
<rect x="63.1" y="203.1" width="6.6" height="6.6" fill="#fff" stroke="#978E4E" stroke-width="1.8"/>
<rect x="66.5" y="233.7" width="6.6" height="6.6" fill="#fff" stroke="#978E4E" stroke-width="1.8"/>
<rect x="59.6" y="223.5" width="9.8" height="8.3" fill="#8C2A2F"/>
<circle cx="66.4" cy="167.4" r="3.4" fill="#fff" stroke="#4B9655" stroke-width="1.6"/>
<circle cx="71.7" cy="200" r="3" fill="#fff" stroke="#3462A4" stroke-width="1.5"/>
<path d="M66.4,158.4L72.4,164.4M66.4,164.4L72.4,158.4" stroke="#4A4A4A" stroke-width="1.6"/>
<path d="M63.400000000000006,211.4L69.4,217.4M63.400000000000006,217.4L69.4,211.4" stroke="#4A4A4A" stroke-width="1.6"/>
<rect x="67.5" y="630" width="928" height="145.5" fill="none" stroke="#E4E4E4" stroke-width="2.2"/>
<line x1="82" y1="652.0" x2="153" y2="652.0" stroke="#3C5E96" stroke-width="2"/>
<text transform="translate(165.3,660.3) scale(1.0,1.03)" text-anchor="start" style="font-size:26px;" >Returns of Cryptocurrency index</text>
<line x1="575" y1="652.0" x2="646" y2="652.0" stroke="#C98547" stroke-width="2" stroke-dasharray="8.6 1.6"/>
<text transform="translate(657.7,660.3) scale(1.0,1.03)" text-anchor="start" style="font-size:26px;" >Returns of Bitcoin price</text>
<line x1="82" y1="686.3" x2="153" y2="686.3" stroke="#4E9A5E" stroke-width="2" stroke-dasharray="16 1.6"/>
<text transform="translate(165.3,694.6) scale(1.0,1.03)" text-anchor="start" style="font-size:26px;" >Returns of World Stock Price Index</text>
<line x1="575" y1="686.3" x2="646" y2="686.3" stroke="#C2343D" stroke-width="2" stroke-dasharray="21 1.6 8.6 1.6"/>
<text transform="translate(657.7,694.6) scale(1.0,1.03)" text-anchor="start" style="font-size:26px;" >Returns of WTI crude oil price</text>
<line x1="82" y1="720.6" x2="153" y2="720.6" stroke="#3A3A3A" stroke-width="2" stroke-dasharray="21 1.6 8.6 1.6 8.6 1.6"/>
<text transform="translate(165.3,728.9) scale(1.0,1.03)" text-anchor="start" style="font-size:26px;" >Returns of World Energy Price Index</text>
<line x1="575" y1="720.6" x2="646" y2="720.6" stroke="#4E3A86" stroke-width="2" stroke-dasharray="29 1.6"/>
<text transform="translate(657.7,728.9) scale(1.0,1.03)" text-anchor="start" style="font-size:26px;" >Returns of Gold price</text>
<line x1="82" y1="754.9" x2="153" y2="754.9" stroke="#8A2E33" stroke-width="2" stroke-dasharray="9 4.2"/>
<text transform="translate(165.3,763.2) scale(1.0,1.03)" text-anchor="start" style="font-size:26px;" >Returns of Commodity Index</text>
<line x1="575" y1="754.9" x2="646" y2="754.9" stroke="#8F8A4E" stroke-width="2" stroke-dasharray="16 4.4"/>
<text transform="translate(657.7,763.2) scale(1.0,1.03)" text-anchor="start" style="font-size:26px;" >Returns of REITs index</text>
<text transform="translate(2.0,856.2) scale(1.0,1.03)" text-anchor="start" style="font-size:26px;font-style:italic;" >BTC, CCI</text>
<text transform="translate(531.0,851.4) scale(1.0,1.03)" text-anchor="middle" style="font-size:26px;" >(b) Risk factor: Total deaths (TD)</text>
<text transform="translate(864.0,824.2) scale(0.96,1.03)" text-anchor="start" style="font-size:26px;font-style:italic;" >WSPI, WTI, WEPI,</text>
<text transform="translate(864.0,855.7) scale(0.985,1.03)" text-anchor="start" style="font-size:26px;font-style:italic;" >Gold, GSCI, REITs</text>
<line x1="57" y1="962.6" x2="1006" y2="962.6" stroke="#E4E4E4" stroke-width="2"/>
<line x1="57" y1="1030.4" x2="1006" y2="1030.4" stroke="#E4E4E4" stroke-width="2"/>
<line x1="57" y1="1098.1" x2="1006" y2="1098.1" stroke="#E4E4E4" stroke-width="2"/>
<line x1="57" y1="1165.9" x2="1006" y2="1165.9" stroke="#E4E4E4" stroke-width="2"/>
<line x1="57" y1="1233.6" x2="1006" y2="1233.6" stroke="#E4E4E4" stroke-width="2"/>
<line x1="57" y1="1301.4" x2="1006" y2="1301.4" stroke="#E4E4E4" stroke-width="2"/>
<line x1="242" y1="894.9" x2="242" y2="1369.1" stroke="#E4E4E4" stroke-width="2"/>
<line x1="427" y1="894.9" x2="427" y2="1369.1" stroke="#E4E4E4" stroke-width="2"/>
<line x1="611" y1="894.9" x2="611" y2="1369.1" stroke="#E4E4E4" stroke-width="2"/>
<line x1="795" y1="894.9" x2="795" y2="1369.1" stroke="#E4E4E4" stroke-width="2"/>
<line x1="979" y1="894.9" x2="979" y2="1369.1" stroke="#E4E4E4" stroke-width="2"/>
<line x1="1006" y1="894.9" x2="1015" y2="894.9" stroke="#C6C6C6" stroke-width="2"/>
<text transform="translate(46.8,902.7) scale(1.0,1.03)" text-anchor="end" style="font-size:26px;" >0.1</text>
<text transform="translate(1021.5,902.7) scale(1.0,1.03)" text-anchor="start" style="font-size:26px;" >0.8</text>
<line x1="1006" y1="962.6" x2="1015" y2="962.6" stroke="#C6C6C6" stroke-width="2"/>
<text transform="translate(46.8,970.4) scale(1.0,1.03)" text-anchor="end" style="font-size:26px;" >0.0</text>
<text transform="translate(1021.5,970.4) scale(1.0,1.03)" text-anchor="start" style="font-size:26px;" >0.4</text>
<line x1="1006" y1="1030.4" x2="1015" y2="1030.4" stroke="#C6C6C6" stroke-width="2"/>
<text transform="translate(46.8,1038.2) scale(1.0,1.03)" text-anchor="end" style="font-size:26px;" >-0.1</text>
<text transform="translate(1021.5,1038.2) scale(1.0,1.03)" text-anchor="start" style="font-size:26px;" >0.0</text>
<line x1="1006" y1="1098.1" x2="1015" y2="1098.1" stroke="#C6C6C6" stroke-width="2"/>
<text transform="translate(46.8,1105.9) scale(1.0,1.03)" text-anchor="end" style="font-size:26px;" >-0.2</text>
<text transform="translate(1021.5,1105.9) scale(1.0,1.03)" text-anchor="start" style="font-size:26px;" >-0.4</text>
<line x1="1006" y1="1165.9" x2="1015" y2="1165.9" stroke="#C6C6C6" stroke-width="2"/>
<text transform="translate(46.8,1173.7) scale(1.0,1.03)" text-anchor="end" style="font-size:26px;" >-0.3</text>
<text transform="translate(1021.5,1173.7) scale(1.0,1.03)" text-anchor="start" style="font-size:26px;" >-0.8</text>
<line x1="1006" y1="1233.6" x2="1015" y2="1233.6" stroke="#C6C6C6" stroke-width="2"/>
<text transform="translate(46.8,1241.4) scale(1.0,1.03)" text-anchor="end" style="font-size:26px;" >-0.4</text>
<text transform="translate(1021.5,1241.4) scale(1.0,1.03)" text-anchor="start" style="font-size:26px;" >-1.2</text>
<line x1="1006" y1="1301.4" x2="1015" y2="1301.4" stroke="#C6C6C6" stroke-width="2"/>
<text transform="translate(46.8,1309.2) scale(1.0,1.03)" text-anchor="end" style="font-size:26px;" >-0.5</text>
<text transform="translate(1021.5,1309.2) scale(1.0,1.03)" text-anchor="start" style="font-size:26px;" >-1.6</text>
<line x1="1006" y1="1369.1" x2="1015" y2="1369.1" stroke="#C6C6C6" stroke-width="2"/>
<text transform="translate(46.8,1376.9) scale(1.0,1.03)" text-anchor="end" style="font-size:26px;" >-0.6</text>
<text transform="translate(1021.5,1376.9) scale(1.0,1.03)" text-anchor="start" style="font-size:26px;" >-2.0</text>
<text transform="translate(57.5,1402.6) scale(1.0,1.03)" text-anchor="middle" style="font-size:26px;letter-spacing:-0.7px;" >2020-03-03</text>
<text transform="translate(242.2,1402.6) scale(1.0,1.03)" text-anchor="middle" style="font-size:26px;letter-spacing:-0.7px;" >2020-09-08</text>
<text transform="translate(427.3,1402.6) scale(1.0,1.03)" text-anchor="middle" style="font-size:26px;letter-spacing:-0.7px;" >2021-03-16</text>
<text transform="translate(611.6,1402.6) scale(1.0,1.03)" text-anchor="middle" style="font-size:26px;letter-spacing:-0.7px;" >2021-09-21</text>
<text transform="translate(795.1,1402.6) scale(1.0,1.03)" text-anchor="middle" style="font-size:26px;letter-spacing:-0.7px;" >2022-03-29</text>
<text transform="translate(979.3,1402.6) scale(1.0,1.03)" text-anchor="middle" style="font-size:26px;letter-spacing:-0.7px;" >2022-10-04</text>
<polyline points="57.0,1028.0 58.6,1030.0 60.2,1033.8 61.8,1034.9 62.0,1036.0 63.4,1037.1 65.0,1036.5 66.6,1038.9 68.2,1039.0 69.8,1041.0 70.0,1040.0 71.4,1041.0 73.0,1040.6 74.6,1040.7 76.2,1041.6 77.8,1041.5 79.4,1041.2 80.0,1042.0 81.0,1043.5 82.6,1042.7 84.2,1046.2 85.8,1049.5 87.4,1049.8 88.0,1050.0 89.0,1056.9 90.5,1070.0 90.6,1071.4 92.2,1079.0 93.0,1083.0 93.8,1077.0 95.4,1065.9 95.6,1065.0 97.0,1055.2 98.0,1048.0 98.6,1049.1 100.2,1049.4 101.8,1051.9 103.4,1051.1 104.0,1052.0 105.0,1051.7 106.6,1048.2 108.2,1046.3 109.8,1046.1 110.0,1046.0 111.4,1045.1 113.0,1045.1 114.6,1042.1 116.2,1041.3 117.8,1038.8 119.4,1038.5 120.0,1038.0 121.0,1038.4 122.6,1037.6 124.2,1038.7 125.8,1038.9 127.4,1038.2 129.0,1037.6 130.6,1037.5 132.2,1038.1 133.8,1036.7 135.4,1038.2 137.0,1036.9 138.6,1037.6 140.2,1036.4 141.8,1036.5 143.4,1036.5 145.0,1037.5 146.6,1037.1 148.2,1037.0 149.8,1037.7 151.4,1036.1 153.0,1037.5 154.6,1036.3 156.2,1036.0 157.8,1036.2 159.4,1037.4 161.0,1037.8 162.6,1036.0 164.2,1035.5 165.8,1035.1 167.4,1036.3 169.0,1036.5 170.6,1036.4 172.2,1036.3 173.8,1037.1 175.4,1036.0 177.0,1036.2 178.6,1035.6 180.2,1035.0 181.8,1033.9 183.4,1035.7 185.0,1035.1 186.6,1035.1 188.2,1035.0 189.8,1035.4 191.4,1035.4 193.0,1033.5 194.6,1034.9 196.2,1035.5 197.8,1035.4 199.4,1034.9 200.0,1035.0 201.0,1035.1 202.6,1033.7 204.2,1035.3 205.8,1034.8 207.4,1035.1 209.0,1035.5 210.6,1035.1 212.2,1034.1 213.8,1033.4 215.4,1034.6 217.0,1035.0 218.6,1035.2 220.2,1035.8 221.8,1035.3 223.4,1035.2 225.0,1033.6 226.6,1035.6 228.2,1035.1 229.8,1036.7 231.4,1035.6 233.0,1034.4 234.6,1035.1 236.2,1035.5 237.8,1034.3 239.4,1033.7 241.0,1035.4 242.6,1034.6 244.2,1034.8 245.8,1035.1 247.4,1034.8 249.0,1035.6 250.6,1035.2 252.2,1035.2 253.8,1035.7 255.4,1035.0 257.0,1034.0 258.6,1035.0 260.2,1033.9 261.8,1035.2 263.4,1034.1 265.0,1035.0 266.6,1036.0 268.2,1035.5 269.8,1034.4 271.4,1033.9 273.0,1034.7 274.6,1035.8 276.2,1035.4 277.8,1033.8 279.4,1035.7 281.0,1035.2 282.6,1035.6 284.2,1036.1 285.8,1034.3 287.4,1035.5 289.0,1035.1 290.6,1035.9 292.2,1034.8 293.8,1033.9 295.4,1035.1 297.0,1035.8 298.6,1034.8 300.2,1034.8 301.8,1035.1 303.4,1034.9 305.0,1034.7 306.6,1034.7 308.2,1036.2 309.8,1034.7 311.4,1035.2 313.0,1035.9 314.6,1035.9 316.2,1033.7 317.8,1034.4 319.4,1034.0 321.0,1034.9 322.6,1033.2 324.2,1033.9 325.8,1034.9 327.4,1035.3 329.0,1034.1 330.6,1035.2 332.2,1036.0 333.8,1034.3 335.4,1036.0 337.0,1035.0 338.6,1033.3 340.2,1035.1 341.8,1035.1 343.4,1036.2 345.0,1034.5 346.6,1036.5 348.2,1035.0 349.8,1035.4 351.4,1034.9 353.0,1035.4 354.6,1036.0 356.2,1035.0 357.8,1034.6 359.4,1035.5 361.0,1034.8 362.6,1035.2 364.2,1035.8 365.8,1035.1 367.4,1035.3 369.0,1035.2 370.6,1035.1 372.2,1035.7 373.8,1036.0 375.4,1035.3 377.0,1033.6 378.6,1033.8 380.2,1035.7 381.8,1036.2 383.4,1036.1 385.0,1034.7 386.6,1035.2 388.2,1034.6 389.8,1035.4 391.4,1035.0 393.0,1034.2 394.6,1035.5 396.2,1035.1 397.8,1036.7 399.4,1035.9 400.0,1035.0 401.0,1033.8 402.6,1035.7 404.2,1034.3 405.8,1034.5 407.4,1034.9 409.0,1034.0 410.6,1037.5 412.2,1035.7 413.8,1034.3 415.4,1035.9 417.0,1033.2 418.6,1036.0 420.2,1035.1 421.8,1035.2 423.4,1035.8 425.0,1035.2 426.6,1035.5 428.2,1034.3 429.8,1035.4 431.4,1034.8 433.0,1035.5 434.6,1034.9 436.2,1035.4 437.8,1034.6 439.4,1034.0 441.0,1034.5 442.6,1035.8 444.2,1034.9 445.8,1035.1 447.4,1034.8 449.0,1035.8 450.6,1034.4 452.2,1032.9 453.8,1034.5 455.4,1034.6 457.0,1036.0 458.6,1034.4 460.2,1034.6 461.8,1035.5 463.4,1035.7 465.0,1034.8 466.6,1036.1 468.2,1034.7 469.8,1035.2 471.4,1034.3 473.0,1033.3 474.6,1034.5 476.2,1034.5 477.8,1034.3 479.4,1036.9 481.0,1033.8 482.6,1035.4 484.2,1036.3 485.8,1035.7 487.4,1035.5 489.0,1034.6 490.6,1034.6 492.2,1036.1 493.8,1036.3 495.4,1034.6 497.0,1035.4 498.6,1035.1 500.2,1035.6 501.8,1034.5 503.4,1035.8 505.0,1034.7 506.6,1035.3 508.2,1034.5 509.8,1035.9 511.4,1034.8 513.0,1035.5 514.6,1035.0 516.2,1035.7 517.8,1035.4 519.4,1037.1 521.0,1034.4 522.6,1035.7 524.2,1034.6 525.8,1035.2 527.4,1033.7 529.0,1036.0 530.6,1033.2 532.2,1035.7 533.8,1033.8 535.4,1034.8 537.0,1035.4 538.6,1034.4 540.2,1035.3 541.8,1035.0 543.4,1034.5 545.0,1035.0 546.6,1035.4 548.2,1036.3 549.8,1035.3 551.4,1035.1 553.0,1035.2 554.6,1035.0 556.2,1036.1 557.8,1035.8 559.4,1035.0 561.0,1035.4 562.6,1034.3 564.2,1035.1 565.8,1035.4 567.4,1035.1 569.0,1035.1 570.6,1035.9 572.2,1035.7 573.8,1035.7 575.4,1033.3 577.0,1035.3 578.6,1034.6 580.2,1034.7 581.8,1035.2 583.4,1035.7 585.0,1033.7 586.6,1036.5 588.2,1035.6 589.8,1035.1 591.4,1034.4 593.0,1034.1 594.6,1036.4 596.2,1034.6 597.8,1035.0 599.4,1035.0 601.0,1035.1 602.6,1037.1 604.2,1036.6 605.8,1034.4 607.4,1034.5 609.0,1036.5 610.6,1035.5 612.2,1034.5 613.8,1034.8 615.4,1036.1 617.0,1035.1 618.6,1035.3 620.2,1038.3 621.8,1035.7 623.4,1034.6 625.0,1035.8 626.6,1034.5 628.2,1034.8 629.8,1035.0 631.4,1034.4 633.0,1035.6 634.6,1035.4 636.2,1035.3 637.8,1036.1 639.4,1036.3 641.0,1035.3 642.6,1036.4 644.2,1036.5 645.8,1035.1 647.4,1036.2 649.0,1034.6 650.6,1034.5 652.2,1035.5 653.8,1036.3 655.4,1037.3 657.0,1035.6 658.6,1036.5 660.2,1034.4 661.8,1035.8 663.4,1036.6 665.0,1035.1 666.6,1035.7 668.2,1035.9 669.8,1037.1 671.4,1034.7 673.0,1034.8 674.6,1036.2 676.2,1036.3 677.8,1036.0 679.4,1035.2 681.0,1035.7 682.6,1037.4 684.2,1035.4 685.8,1036.5 687.4,1036.7 689.0,1034.9 690.6,1035.3 692.2,1036.3 693.8,1035.6 695.4,1035.8 697.0,1035.2 698.6,1035.6 700.2,1035.6 701.8,1037.1 703.4,1035.9 705.0,1035.9 706.6,1036.7 708.2,1036.0 709.8,1035.7 711.4,1036.3 713.0,1034.4 714.6,1035.5 716.2,1036.0 717.8,1035.7 719.4,1035.6 721.0,1035.8 722.6,1035.0 724.2,1036.7 725.8,1035.3 727.4,1036.5 729.0,1035.0 730.6,1037.9 732.2,1036.4 733.8,1034.2 735.4,1034.5 737.0,1034.7 738.6,1035.6 740.2,1035.5 741.8,1037.1 743.4,1037.3 745.0,1034.6 746.6,1035.4 748.2,1034.2 749.8,1035.2 751.4,1036.0 753.0,1036.3 754.6,1036.1 756.2,1037.1 757.8,1035.1 759.4,1035.3 761.0,1036.1 762.6,1036.7 764.2,1035.8 765.8,1036.3 767.4,1037.3 769.0,1035.5 770.6,1036.1 772.2,1035.2 773.8,1036.7 775.4,1034.7 777.0,1036.2 778.6,1037.9 780.2,1036.1 781.8,1035.7 783.4,1036.2 785.0,1036.2 786.6,1035.8 788.2,1035.6 789.8,1036.1 790.0,1036.0 791.4,1036.2 793.0,1035.4 794.6,1036.3 796.2,1035.6 797.8,1035.8 799.4,1035.7 801.0,1035.0 802.6,1034.4 804.2,1037.3 805.8,1035.2 807.4,1035.5 809.0,1036.1 810.6,1036.8 812.2,1036.0 813.8,1035.4 815.4,1036.8 817.0,1036.7 818.6,1035.7 820.2,1036.2 821.8,1036.2 823.4,1038.0 825.0,1036.5 826.6,1035.4 828.2,1036.2 829.8,1035.0 831.4,1036.5 833.0,1037.2 834.6,1037.2 836.2,1036.7 837.8,1035.9 839.4,1036.1 841.0,1035.6 842.6,1036.2 844.2,1035.0 845.8,1034.2 847.4,1036.4 849.0,1036.0 850.6,1035.4 852.2,1035.7 853.8,1036.9 855.4,1036.0 857.0,1036.9 858.6,1036.8 860.2,1035.5 861.8,1037.6 863.4,1037.2 865.0,1035.6 866.6,1036.4 868.2,1035.5 869.8,1036.3 871.4,1037.2 873.0,1036.1 874.6,1035.8 876.2,1036.8 877.8,1035.6 879.4,1036.5 881.0,1037.4 882.6,1036.9 884.2,1035.9 885.8,1036.1 887.4,1037.3 889.0,1037.8 890.6,1036.0 892.2,1036.4 893.8,1035.9 895.4,1035.6 897.0,1035.7 898.6,1036.2 900.2,1037.4 901.8,1037.5 903.4,1038.0 905.0,1036.0 906.6,1035.5 908.2,1037.1 909.8,1035.3 911.4,1036.0 913.0,1037.5 914.6,1037.4 916.2,1037.5 917.8,1035.9 919.4,1037.3 921.0,1036.9 922.6,1036.0 924.2,1037.2 925.8,1038.0 927.4,1036.2 929.0,1038.3 930.6,1037.1 932.2,1036.5 933.8,1034.9 935.4,1036.0 937.0,1036.0 938.6,1035.8 940.2,1037.3 941.8,1037.4 943.4,1036.7 945.0,1036.7 946.6,1036.6 948.2,1036.1 949.8,1036.4 951.4,1038.2 953.0,1036.1 954.6,1037.5 956.2,1037.5 957.8,1036.8 959.4,1037.5 961.0,1036.6 962.6,1036.6 964.2,1036.7 965.8,1037.7 967.4,1036.7 969.0,1034.8 970.6,1036.9 972.2,1036.7 973.8,1036.9 975.4,1036.8 977.0,1037.0 978.6,1038.5 980.2,1037.3 981.8,1037.2 983.4,1035.7 985.0,1036.4 986.6,1036.3 988.2,1036.3 989.8,1036.6 991.4,1036.0 993.0,1035.9 994.6,1036.5 996.2,1037.4 997.8,1036.7 999.4,1037.5 1001.0,1038.3 1002.6,1036.3 1003.0,1037.0" fill="none" stroke="#8C2A2F" stroke-width="2.0" stroke-linejoin="round" stroke-dasharray="9 4.2"/>
<polyline points="57.0,1029.0 58.5,1033.2 60.0,1034.9 61.9,1038.6 62.5,1061.6 63.0,1100.0 64.1,1040.1 64.1,1041.5 64.7,1043.5 66.0,1115.0 66.6,1092.5 67.3,1045.5 67.7,1050.1 69.0,1122.0 69.6,1098.1 70.3,1051.2 70.7,1051.2 71.4,1090.8 72.0,1110.0 73.3,1053.3 73.3,1055.0 74.3,1069.5 75.0,1075.0 76.7,1057.0 76.7,1057.8 78.0,1095.0 78.7,1079.9 79.3,1059.4 79.2,1058.2 80.0,1070.0 80.8,1059.6 80.9,1059.2 83.0,1085.0 84.0,1072.4 85.1,1058.5 84.2,1057.2 85.0,1090.0 85.8,1058.1 86.0,1055.0 87.1,1063.5 88.0,1070.0 89.0,1064.2 90.0,1055.1 89.2,1055.8 89.6,1066.5 90.0,1075.0 90.4,1061.2 90.8,1054.9 90.9,1052.7 93.0,1065.0 95.1,1051.7 94.2,1053.3 95.0,1080.0 95.4,1067.7 95.8,1051.4 95.8,1051.8 96.8,1050.7 97.5,1072.9 98.0,1100.0 99.2,1050.7 99.2,1048.9 100.0,1085.0 100.4,1070.6 100.8,1049.3 100.8,1049.7 102.6,1048.5 103.2,1192.2 103.8,1319.0 105.0,1048.1 105.1,1049.1 106.2,1048.1 107.2,1061.5 108.0,1070.0 109.8,1047.0 109.9,1047.7 111.0,1052.5 112.0,1060.0 113.1,1053.5 114.1,1046.5 114.1,1044.9 115.2,1068.5 116.0,1080.0 117.9,1045.0 117.9,1045.2 119.0,1057.5 120.0,1065.0 121.1,1052.1 122.1,1045.1 122.2,1043.5 123.8,1065.9 125.0,1075.0 126.4,1057.8 127.8,1042.7 127.8,1042.3 130.0,1055.0 132.2,1043.0 132.2,1042.0 135.0,1060.0 137.8,1040.7 137.8,1041.7 140.0,1050.0 142.2,1040.1 142.2,1041.0 145.0,1055.0 146.4,1049.2 147.8,1039.5 147.8,1041.2 150.0,1065.0 152.2,1040.6 152.2,1039.3 153.9,1040.3 156.0,1062.0 157.1,1051.7 158.1,1039.7 158.1,1039.6 159.6,1039.3 161.1,1040.1 162.2,1039.0 165.0,1050.0 167.8,1039.8 167.8,1040.1 169.6,1039.0 172.0,1048.0 174.4,1039.2 174.4,1040.1 175.9,1039.7 177.3,1040.2 180.0,1045.0 182.7,1039.2 182.7,1039.0 184.2,1038.6 185.7,1040.2 187.5,1039.6 190.0,1050.0 192.5,1039.2 192.5,1039.5 193.7,1038.3 195.6,1048.5 197.5,1038.3 197.7,1040.7 200.0,1045.0 202.3,1039.1 202.7,1039.4 204.9,1041.4 207.2,1039.1 207.8,1038.4 210.0,1043.0 212.2,1040.1 212.2,1038.9 213.7,1037.8 215.2,1037.6 216.7,1039.7 218.2,1040.2 220.1,1040.3 222.4,1040.5 224.8,1039.4 224.8,1039.1 226.7,1039.0 229.6,1041.1 232.4,1037.8 232.4,1038.8 233.6,1040.5 234.8,1038.5 234.8,1039.6 235.7,1038.4 238.0,1048.0 240.3,1039.1 240.8,1039.3 243.0,1055.0 244.1,1045.2 245.2,1038.1 245.2,1040.2 246.7,1039.7 248.2,1037.8 249.4,1038.9 250.4,1268.0 250.9,1194.5 251.4,1038.9 251.5,1039.3 252.7,1039.0 255.3,1040.5 258.0,1038.9 258.0,1038.5 259.2,1040.1 262.0,1050.0 264.8,1039.9 264.8,1038.5 266.7,1058.0 267.7,1047.9 268.6,1039.2 269.0,1038.2 272.0,1048.0 275.0,1037.9 275.0,1040.1 276.8,1043.7 278.6,1040.0 278.6,1039.4 279.8,1044.8 280.8,1053.0 281.9,1046.9 283.0,1039.3 283.5,1038.6 285.9,1040.5 288.2,1039.3 288.2,1038.6 290.0,1050.0 291.8,1039.0 291.8,1038.2 293.3,1037.4 294.8,1038.3 296.3,1039.2 297.8,1038.5 299.3,1039.4 300.8,1046.6 302.0,1057.0 303.3,1049.4 304.7,1038.7 304.7,1039.0 306.2,1039.8 308.0,1040.0 310.0,1048.0 312.0,1038.2 312.0,1040.0 312.6,1038.2 314.4,1044.8 316.1,1038.3 316.1,1038.4 318.5,1050.0 320.9,1039.7 320.9,1038.2 322.4,1039.4 323.9,1039.3 325.4,1038.8 326.9,1039.3 327.7,1040.4 330.0,1046.0 332.3,1040.1 332.3,1038.4 333.8,1039.1 335.1,1038.7 337.5,1041.4 340.0,1038.8 340.0,1038.6 342.0,1045.0 344.0,1039.3 344.0,1038.3 345.5,1038.1 347.0,1039.0 348.0,1039.1 350.0,1047.0 352.0,1039.8 352.1,1039.4 353.6,1038.3 354.9,1038.3 356.2,1046.4 357.3,1055.0 359.7,1039.1 359.7,1039.5 361.2,1038.7 362.7,1038.7 363.9,1039.5 366.0,1046.0 368.1,1039.2 368.1,1038.4 369.6,1039.1 371.1,1039.4 372.6,1039.2 374.1,1039.1 374.9,1039.0 377.3,1048.0 379.7,1039.8 379.7,1039.3 381.2,1038.6 382.2,1038.6 383.8,1041.4 385.4,1039.7 385.4,1039.1 387.5,1038.9 390.0,1046.0 392.5,1038.1 392.5,1038.5 393.4,1038.4 396.2,1040.3 399.0,1039.4 399.0,1039.3 400.5,1038.9 402.0,1039.0 403.2,1039.2 405.5,1050.0 407.8,1039.9 408.0,1039.3 410.0,1048.0 412.0,1039.5 412.0,1038.8 412.6,1039.0 415.0,1055.0 417.4,1039.2 417.4,1039.4 418.9,1038.6 419.9,1038.0 422.0,1046.0 424.1,1038.6 424.1,1039.4 425.6,1039.1 426.9,1038.2 429.0,1070.0 430.0,1051.8 431.1,1038.3 431.1,1039.5 432.0,1038.2 433.1,1053.9 434.0,1060.0 435.0,1050.2 436.0,1037.4 436.0,1039.0 437.8,1038.6 440.1,1040.7 442.3,1038.0 442.8,1037.9 445.0,1046.0 447.2,1039.6 447.2,1039.2 448.7,1037.9 450.2,1039.3 451.7,1038.1 453.1,1038.2 455.0,1047.0 456.9,1039.0 456.9,1038.6 458.4,1039.1 459.9,1039.5 462.2,1047.8 464.5,1038.3 464.5,1039.1 466.0,1038.9 467.4,1037.5 470.0,1045.0 472.6,1039.2 472.6,1039.4 474.1,1037.7 476.3,1043.0 478.5,1038.4 478.5,1039.3 480.1,1039.3 483.0,1050.0 485.9,1038.4 486.0,1038.5 487.5,1038.4 489.0,1037.8 490.5,1038.7 492.1,1040.1 493.9,1046.2 495.7,1037.6 495.7,1038.6 497.7,1038.0 500.0,1046.0 502.3,1039.7 502.3,1037.5 503.8,1039.2 505.3,1038.9 506.8,1038.0 507.7,1038.4 510.1,1041.3 512.6,1038.6 512.6,1039.8 515.0,1045.0 517.4,1038.8 517.4,1039.4 519.5,1039.3 521.5,1044.4 523.6,1038.6 523.6,1038.6 525.3,1043.5 526.9,1038.5 526.9,1039.7 528.4,1039.5 529.9,1039.2 531.4,1038.1 532.1,1038.4 535.0,1047.0 537.9,1039.1 537.9,1038.4 539.4,1037.6 540.1,1037.5 542.0,1045.0 543.9,1038.9 543.9,1039.1 545.4,1038.9 546.2,1039.6 547.3,1051.4 548.2,1058.0 550.2,1037.4 550.2,1038.1 551.7,1038.5 553.2,1039.4 556.0,1048.0 558.8,1039.2 558.8,1038.1 560.7,1039.3 563.5,1050.0 566.3,1040.2 566.3,1039.0 567.8,1038.4 569.4,1039.5 572.0,1046.0 574.6,1038.1 574.6,1038.1 576.1,1038.8 577.6,1039.4 579.0,1038.4 580.1,1043.5 581.0,1052.0 583.0,1038.8 583.0,1039.0 584.5,1040.1 586.0,1037.3 586.9,1037.4 589.5,1040.1 592.1,1038.1 592.2,1038.7 593.3,1043.1 594.4,1039.4 594.4,1039.1 595.9,1038.2 597.7,1037.6 600.0,1046.0 602.3,1038.9 602.3,1038.4 603.8,1038.0 605.3,1037.8 606.8,1039.1 608.3,1038.4 609.6,1038.8 611.9,1046.2 614.2,1038.6 614.2,1038.1 615.7,1038.3 617.2,1038.2 620.0,1045.0 622.8,1038.6 622.9,1038.2 624.4,1039.1 625.9,1038.0 627.5,1038.8 628.6,1044.5 629.6,1052.6 630.6,1048.4 631.6,1038.9 631.6,1038.4 633.1,1038.4 634.6,1038.4 636.1,1037.6 637.1,1040.7 640.0,1046.0 642.9,1038.5 642.9,1039.0 644.4,1037.8 645.3,1038.4 648.0,1041.2 650.7,1037.0 650.8,1038.6 652.3,1038.1 653.8,1038.7 655.3,1039.0 657.2,1039.6 660.0,1047.0 662.8,1038.7 663.3,1037.9 665.5,1041.6 667.6,1038.3 667.7,1039.1 669.2,1040.0 670.4,1037.0 672.3,1040.3 674.2,1037.8 674.3,1038.2 675.3,1038.6 675.9,1067.6 676.4,1087.0 677.5,1039.1 677.5,1038.4 679.0,1037.8 680.7,1039.2 683.5,1050.0 686.3,1038.2 686.3,1038.3 687.8,1039.0 689.3,1039.3 691.0,1037.9 692.9,1040.5 694.7,1037.6 694.8,1038.6 696.3,1039.0 697.8,1038.7 700.0,1046.0 702.2,1039.0 702.3,1039.6 703.7,1038.7 705.8,1040.3 707.9,1038.3 707.9,1037.9 710.0,1040.3 712.1,1039.2 712.1,1038.6 714.6,1043.1 717.0,1039.9 717.3,1039.5 720.0,1047.0 722.7,1039.1 722.7,1038.0 724.2,1037.8 725.7,1037.8 726.5,1038.8 728.3,1048.8 730.1,1038.4 730.2,1038.0 731.7,1038.3 732.3,1039.1 734.6,1042.7 737.0,1039.9 737.0,1039.9 738.0,1039.1 740.0,1046.0 742.0,1037.9 742.1,1038.9 744.3,1045.4 746.5,1038.3 746.5,1039.3 748.9,1040.7 751.3,1039.7 751.3,1037.9 752.0,1039.1 755.0,1050.0 758.0,1039.4 758.0,1038.4 759.5,1038.2 761.0,1039.7 762.5,1039.6 763.3,1038.3 765.8,1072.0 768.3,1039.1 768.3,1038.9 770.0,1060.0 770.8,1049.9 771.7,1037.0 771.7,1039.0 773.2,1039.0 774.1,1039.2 775.2,1080.0 775.7,1058.8 776.3,1038.5 776.3,1039.2 777.2,1052.2 778.0,1062.0 778.9,1050.5 779.7,1041.0 779.7,1038.9 781.0,1049.2 782.0,1060.0 783.1,1050.4 784.3,1039.1 784.9,1039.3 787.4,1063.0 789.9,1039.4 789.2,1038.7 789.6,1048.3 790.0,1055.0 790.8,1039.4 790.8,1039.8 791.7,1038.4 793.2,1051.8 794.4,1063.0 795.7,1047.2 797.1,1038.9 797.1,1040.5 797.8,1039.8 799.0,1047.2 800.0,1052.0 801.1,1047.6 802.2,1040.7 802.2,1039.6 803.7,1038.0 805.2,1039.2 806.3,1039.7 808.5,1050.0 810.7,1039.6 810.7,1040.2 812.2,1039.9 813.0,1041.2 815.0,1050.0 817.0,1040.3 817.0,1040.5 818.5,1040.8 819.4,1041.1 822.0,1052.0 824.6,1039.8 825.0,1041.2 826.8,1051.7 828.5,1040.3 828.5,1038.8 830.0,1041.5 831.5,1040.6 832.5,1041.4 833.5,1050.4 834.4,1058.0 835.4,1052.5 836.3,1041.6 836.3,1040.5 837.8,1038.9 839.3,1040.7 840.8,1040.9 842.9,1040.8 845.0,1052.0 847.1,1041.2 847.1,1040.7 847.9,1041.4 850.3,1042.5 852.6,1041.3 852.8,1040.4 854.5,1053.3 855.3,1047.9 856.1,1041.6 856.1,1040.6 858.1,1041.0 860.0,1050.0 861.9,1042.6 861.9,1041.0 862.9,1040.2 865.3,1048.1 867.7,1042.2 867.7,1040.0 869.2,1041.3 870.7,1041.9 872.4,1040.6 875.0,1052.0 877.6,1040.9 877.6,1041.2 879.1,1040.1 880.6,1041.2 882.5,1040.9 883.9,1047.3 885.0,1055.0 886.2,1047.9 887.5,1041.9 887.5,1040.9 889.0,1040.5 890.7,1040.8 892.1,1049.6 893.2,1062.0 895.7,1042.1 895.7,1040.5 897.2,1041.8 898.5,1042.8 900.3,1065.0 902.1,1040.6 902.2,1041.2 903.7,1040.4 905.2,1041.3 906.7,1040.9 907.7,1041.2 910.0,1052.0 912.3,1041.8 912.3,1041.7 913.8,1041.7 915.3,1040.5 916.8,1040.9 919.0,1050.0 921.2,1041.0 921.2,1040.7 922.0,1040.4 924.4,1042.7 926.8,1041.0 926.8,1041.4 928.1,1040.9 930.0,1052.0 931.9,1040.2 931.9,1041.8 933.4,1040.6 934.9,1042.2 936.4,1041.2 938.2,1041.2 940.0,1053.0 941.8,1041.9 941.8,1041.1 943.3,1040.1 944.8,1041.1 946.3,1039.6 947.2,1041.2 949.9,1044.9 952.5,1041.1 952.5,1041.4 954.3,1052.0 956.1,1041.0 956.1,1042.3 957.6,1041.1 959.1,1040.7 961.1,1043.1 963.0,1050.0 964.9,1041.0 965.0,1041.6 966.5,1040.9 968.0,1040.8 969.5,1041.0 970.8,1040.6 973.0,1050.0 975.2,1041.0 975.2,1040.8 977.0,1040.6 979.9,1044.4 982.8,1040.4 982.9,1040.8 985.0,1048.0 987.1,1039.3 987.1,1041.2 988.7,1039.1 990.5,1050.4 992.4,1040.7 992.5,1040.9 995.0,1046.0 997.5,1040.5 997.5,1041.0 999.0,1042.3 1000.6,1041.1 1002.5,1040.0 1004.4,1040.6" fill="none" stroke="#C6232A" stroke-width="2.0" stroke-linejoin="round" stroke-dasharray="21 1.6 8.6 1.6"/>
<polyline points="57.0,1032.0 58.6,1034.7 60.2,1037.1 61.8,1039.6 62.0,1040.0 63.4,1048.0 64.5,1055.0 65.0,1052.1 66.6,1042.4 67.0,1040.0 68.2,1041.1 69.8,1040.0 71.4,1042.9 73.0,1039.2 74.6,1041.9 75.0,1042.0 76.2,1044.6 77.8,1046.3 79.4,1048.5 80.0,1050.0 81.0,1053.7 82.6,1060.3 84.0,1065.0 84.2,1066.8 85.8,1072.0 87.4,1080.4 88.0,1083.0 89.0,1078.2 90.6,1072.5 91.0,1070.0 92.2,1063.6 93.8,1056.1 94.0,1055.0 95.4,1053.4 97.0,1049.8 98.6,1047.5 100.0,1045.0 100.2,1044.3 101.8,1044.2 103.4,1042.5 105.0,1042.8 106.6,1042.6 108.2,1042.0 109.8,1043.6 110.0,1042.0 111.4,1040.1 113.0,1040.0 114.6,1041.6 116.2,1041.8 117.8,1041.3 119.4,1041.8 120.0,1041.0 121.0,1042.4 122.6,1040.4 124.2,1039.7 125.8,1040.4 127.4,1041.3 129.0,1040.6 130.6,1040.1 132.2,1040.3 133.8,1040.2 135.4,1038.7 137.0,1040.1 138.6,1039.1 140.2,1039.4 141.8,1039.1 143.4,1039.4 145.0,1040.0 146.6,1039.0 148.2,1039.2 149.8,1039.6 150.0,1039.0 151.4,1039.6 153.0,1039.2 154.0,1040.0 154.6,1049.8 155.6,1064.7 156.2,1056.5 157.5,1040.0 157.8,1039.7 159.4,1039.9 161.0,1040.8 162.6,1038.9 164.2,1039.1 165.8,1039.4 167.4,1038.5 169.0,1039.1 170.0,1039.0 170.6,1039.9 172.2,1037.6 173.8,1038.9 175.4,1038.3 177.0,1040.3 178.6,1039.3 180.2,1039.2 181.8,1038.7 183.4,1038.0 185.0,1038.8 186.6,1039.0 188.2,1038.7 189.8,1040.0 191.4,1039.2 193.0,1038.0 194.6,1038.3 196.2,1038.8 197.8,1037.7 199.4,1038.4 201.0,1038.1 202.6,1038.6 204.2,1038.6 205.8,1038.0 207.4,1039.3 209.0,1038.0 210.6,1038.9 212.2,1037.6 213.8,1037.6 215.4,1037.9 217.0,1038.0 218.6,1038.9 220.2,1037.2 221.8,1039.4 223.4,1037.3 225.0,1039.3 226.6,1038.3 228.2,1037.8 229.8,1038.7 231.4,1037.7 233.0,1038.1 234.6,1038.1 236.2,1040.1 237.8,1037.3 239.4,1039.4 240.0,1038.0 241.0,1037.7 242.6,1037.4 244.2,1037.6 245.8,1038.8 247.4,1037.8 249.0,1037.3 250.6,1038.3 252.2,1038.1 253.8,1038.6 255.4,1037.0 257.0,1038.9 258.6,1038.7 260.2,1037.3 261.8,1037.6 263.4,1038.1 265.0,1037.6 266.6,1038.4 268.2,1038.2 269.8,1037.7 271.4,1036.9 273.0,1036.3 274.6,1037.9 276.2,1036.8 277.8,1038.5 279.4,1039.0 281.0,1037.8 282.6,1038.3 284.2,1038.6 285.8,1038.3 287.4,1036.8 289.0,1036.9 290.6,1037.3 292.2,1037.7 293.8,1037.0 295.4,1037.7 297.0,1038.5 298.6,1037.3 300.2,1037.6 301.8,1036.8 303.4,1037.5 305.0,1038.2 306.6,1038.5 308.2,1037.7 309.8,1036.9 311.4,1038.9 313.0,1036.0 314.6,1037.2 316.2,1036.9 317.8,1037.5 319.4,1037.9 321.0,1037.1 322.6,1040.0 324.2,1038.9 325.8,1038.0 327.4,1037.1 329.0,1036.3 330.6,1038.3 332.2,1038.0 333.8,1037.7 335.4,1038.4 337.0,1037.7 338.6,1036.3 340.2,1036.0 341.8,1037.0 343.4,1037.4 345.0,1037.7 346.6,1037.5 348.2,1037.1 349.8,1036.7 351.4,1037.7 353.0,1037.8 354.6,1036.8 356.2,1036.5 357.8,1036.9 359.4,1036.5 361.0,1037.3 362.6,1036.3 364.2,1037.4 365.8,1036.5 367.4,1037.5 369.0,1038.9 370.6,1036.3 372.2,1037.2 373.8,1038.9 375.4,1037.8 377.0,1037.2 378.6,1037.5 380.2,1036.9 381.8,1036.0 383.4,1035.1 385.0,1036.5 386.6,1036.6 388.2,1037.8 389.8,1037.2 391.4,1035.9 393.0,1037.3 394.6,1036.1 396.2,1037.8 397.8,1036.2 399.4,1037.6 400.0,1037.0 401.0,1037.0 402.6,1036.6 404.2,1037.7 405.8,1036.8 407.4,1035.1 409.0,1037.2 410.6,1036.2 412.2,1036.6 413.8,1037.1 415.4,1037.5 417.0,1037.1 418.6,1036.2 420.2,1036.4 421.8,1036.1 423.4,1036.7 425.0,1036.4 426.6,1037.5 428.2,1036.4 429.8,1037.6 431.4,1038.3 433.0,1037.3 434.6,1036.8 436.2,1037.8 437.8,1036.3 439.4,1036.9 441.0,1037.9 442.6,1037.4 444.2,1036.8 445.8,1036.7 447.4,1036.6 449.0,1038.0 450.6,1038.4 452.2,1038.0 453.8,1037.0 455.4,1037.2 457.0,1036.3 458.6,1036.1 460.2,1037.4 461.8,1037.4 463.4,1036.0 465.0,1036.0 466.6,1037.2 468.2,1036.0 469.8,1037.7 471.4,1037.8 473.0,1036.1 474.6,1036.7 476.2,1037.6 477.8,1037.7 479.4,1036.9 481.0,1036.8 482.6,1036.7 484.2,1037.3 485.8,1037.4 487.4,1036.8 489.0,1036.6 490.6,1036.8 492.2,1036.8 493.8,1036.6 495.4,1036.0 497.0,1037.0 498.6,1037.5 500.2,1037.0 501.8,1037.8 503.4,1037.2 505.0,1037.5 506.6,1037.6 508.2,1035.5 509.8,1037.5 511.4,1037.7 513.0,1036.1 514.6,1035.6 516.2,1036.2 517.8,1036.7 519.4,1037.2 521.0,1035.8 522.6,1036.8 524.2,1036.1 525.8,1037.1 527.4,1036.8 529.0,1037.1 530.6,1036.5 532.2,1036.6 533.8,1037.6 535.4,1036.1 537.0,1036.9 538.6,1036.5 540.2,1036.7 541.8,1036.3 543.4,1037.8 545.0,1037.0 546.6,1037.6 548.2,1036.7 549.8,1038.4 551.4,1037.1 553.0,1038.0 554.6,1036.1 556.2,1036.5 557.8,1036.5 559.4,1038.4 561.0,1037.6 562.6,1036.7 564.2,1037.1 565.8,1036.9 567.4,1036.9 569.0,1036.3 570.6,1037.6 572.2,1037.2 573.8,1036.4 575.4,1037.2 577.0,1037.6 578.6,1037.1 580.2,1036.7 581.8,1037.4 583.4,1037.5 585.0,1038.4 586.6,1036.6 588.2,1037.2 589.8,1037.0 591.4,1036.6 593.0,1037.0 594.6,1035.9 596.2,1036.4 597.8,1035.9 599.4,1037.1 601.0,1036.7 602.6,1036.2 604.2,1036.6 605.8,1037.3 607.4,1036.6 609.0,1035.1 610.6,1038.6 612.2,1036.7 613.8,1037.6 615.4,1036.2 617.0,1036.6 618.6,1037.0 620.2,1037.1 621.8,1036.6 623.4,1038.3 625.0,1036.4 626.6,1036.7 628.2,1038.5 629.8,1037.0 631.4,1035.7 633.0,1037.4 634.6,1037.4 636.2,1037.9 637.8,1038.4 639.4,1037.0 641.0,1037.8 642.6,1037.0 644.2,1036.3 645.8,1036.3 647.4,1036.3 649.0,1035.8 650.6,1038.1 652.2,1036.4 653.8,1036.0 655.4,1036.9 657.0,1036.0 658.6,1037.8 660.2,1038.4 661.8,1037.3 663.4,1036.9 665.0,1036.7 666.6,1037.3 668.2,1037.6 669.8,1037.7 671.4,1036.7 673.0,1037.2 674.6,1035.9 676.2,1037.1 677.8,1037.7 679.4,1037.8 681.0,1036.3 682.6,1035.9 684.2,1038.4 685.8,1037.0 687.4,1036.8 689.0,1037.2 690.6,1036.8 692.2,1037.4 693.8,1037.4 695.4,1036.5 697.0,1036.0 698.6,1036.6 700.2,1034.6 701.8,1037.6 703.4,1036.5 705.0,1036.2 706.6,1037.3 708.2,1037.4 709.8,1036.7 711.4,1036.3 713.0,1035.7 714.6,1036.3 716.2,1036.4 717.8,1035.8 719.4,1036.8 721.0,1037.2 722.6,1036.7 724.2,1038.5 725.8,1037.0 727.4,1037.4 729.0,1039.6 730.6,1038.2 732.2,1037.1 733.8,1037.3 735.4,1036.9 737.0,1037.2 738.6,1036.9 740.2,1035.9 741.8,1036.0 743.4,1037.5 745.0,1038.2 746.6,1037.1 748.2,1036.3 749.8,1036.1 751.4,1038.1 753.0,1038.3 754.6,1037.8 756.2,1036.9 757.8,1036.6 759.4,1037.8 761.0,1036.8 762.6,1036.2 764.2,1035.3 765.8,1036.5 767.4,1036.8 769.0,1036.3 770.6,1038.0 772.2,1036.3 773.8,1037.8 775.4,1037.1 777.0,1036.8 778.6,1037.6 780.2,1036.1 781.8,1038.0 783.4,1036.6 785.0,1036.7 786.6,1037.4 788.2,1037.2 789.8,1036.4 790.0,1037.0 791.4,1037.6 793.0,1036.3 794.6,1037.0 796.2,1036.4 797.8,1036.9 799.4,1037.5 801.0,1036.9 802.6,1036.4 804.2,1037.8 805.8,1037.4 807.4,1036.5 809.0,1036.7 810.6,1036.7 812.2,1038.9 813.8,1037.2 815.4,1038.2 817.0,1037.6 818.6,1037.7 820.2,1037.3 821.8,1035.7 823.4,1037.0 825.0,1037.4 826.6,1036.6 828.2,1038.3 829.8,1037.2 831.4,1037.2 833.0,1035.6 834.6,1037.9 836.2,1038.0 837.8,1036.2 839.4,1036.3 841.0,1037.9 842.6,1036.3 844.2,1037.4 845.8,1037.0 847.4,1038.2 849.0,1037.2 850.6,1037.6 852.2,1037.0 853.8,1035.8 855.4,1037.2 857.0,1038.3 858.6,1037.1 860.2,1037.4 861.8,1037.2 863.4,1037.8 865.0,1037.7 866.6,1038.1 868.2,1036.6 869.8,1036.0 871.4,1038.1 873.0,1037.0 874.6,1037.4 876.2,1038.5 877.8,1037.0 879.4,1038.6 881.0,1037.4 882.6,1035.9 884.2,1037.4 885.8,1037.5 887.4,1037.5 889.0,1037.3 890.6,1039.2 892.2,1038.5 893.8,1038.1 895.4,1037.1 897.0,1037.4 898.6,1037.8 900.2,1038.6 901.8,1036.4 903.4,1038.5 905.0,1038.4 906.6,1037.8 908.2,1037.9 909.8,1037.1 911.4,1037.4 913.0,1038.5 914.6,1038.1 916.2,1038.5 917.8,1038.1 919.4,1037.3 921.0,1038.3 922.6,1038.9 924.2,1038.9 925.8,1038.1 927.4,1036.5 929.0,1038.3 930.6,1036.4 932.2,1038.9 933.8,1037.2 935.4,1036.9 937.0,1038.5 938.6,1038.1 940.2,1037.8 941.8,1038.8 943.4,1037.5 945.0,1038.2 946.6,1038.1 948.2,1038.2 949.8,1038.2 951.4,1038.2 953.0,1036.4 954.6,1037.5 956.2,1037.9 957.8,1037.1 959.4,1038.4 961.0,1037.5 962.6,1037.0 964.2,1038.2 965.8,1037.2 967.4,1037.4 969.0,1037.6 970.6,1037.5 972.2,1038.0 973.8,1038.5 975.4,1037.4 977.0,1038.1 978.6,1037.6 980.2,1037.8 981.8,1037.2 983.4,1038.3 985.0,1037.6 986.6,1037.7 988.2,1037.5 989.8,1037.3 991.4,1038.3 993.0,1037.8 994.6,1037.0 996.2,1038.7 997.8,1039.1 999.4,1037.5 1001.0,1038.6 1002.6,1037.5 1003.0,1038.0" fill="none" stroke="#4A4A4A" stroke-width="2.0" stroke-linejoin="round" stroke-dasharray="21 1.6 8.6 1.6 8.6 1.6"/>
<polyline points="57.0,1030.0 58.6,1030.2 60.2,1032.4 61.8,1034.3 62.0,1034.0 63.4,1034.3 65.0,1035.1 66.6,1034.6 68.0,1036.0 68.2,1035.8 69.8,1035.2 71.4,1035.6 73.0,1034.7 74.6,1034.1 75.0,1034.0 76.2,1034.2 77.8,1035.1 79.4,1036.5 81.0,1038.3 82.0,1038.0 82.6,1036.6 84.2,1035.4 85.8,1037.8 87.4,1037.0 89.0,1035.8 90.0,1035.0 90.6,1035.1 92.2,1034.3 93.8,1034.0 95.4,1033.2 97.0,1034.0 98.6,1033.2 100.0,1033.0 100.2,1031.8 101.8,1032.7 103.4,1032.7 105.0,1032.6 106.6,1034.2 108.2,1033.7 109.8,1031.0 111.4,1033.3 113.0,1033.7 114.6,1033.9 116.2,1033.5 117.8,1031.8 119.4,1033.6 121.0,1033.1 122.6,1033.9 124.2,1033.3 125.8,1032.1 127.4,1034.2 129.0,1032.3 130.0,1033.0 130.6,1033.7 132.2,1033.3 133.8,1032.7 135.4,1031.6 137.0,1032.5 138.6,1032.4 140.2,1032.9 141.8,1032.9 143.4,1034.0 145.0,1033.3 146.6,1033.8 148.2,1032.3 149.8,1032.7 151.4,1033.6 153.0,1033.6 154.6,1033.5 156.2,1032.7 157.8,1032.4 159.4,1034.1 161.0,1032.6 162.6,1032.8 164.2,1034.0 165.8,1033.1 167.4,1032.6 169.0,1033.5 170.6,1032.9 172.2,1033.8 173.8,1032.9 175.4,1032.5 177.0,1034.6 178.6,1033.8 180.2,1033.1 181.8,1032.9 183.4,1032.2 185.0,1032.6 186.6,1032.2 188.2,1033.6 189.8,1033.8 191.4,1032.8 193.0,1032.7 194.6,1033.2 196.2,1033.0 197.8,1033.3 199.4,1033.3 200.0,1033.0 201.0,1033.3 202.6,1033.4 204.2,1032.4 205.8,1033.5 207.4,1031.7 209.0,1033.1 210.6,1032.8 212.2,1033.2 213.8,1032.9 215.4,1033.2 217.0,1031.9 218.6,1032.7 220.2,1032.5 221.8,1033.2 223.4,1033.1 225.0,1032.7 226.6,1032.7 228.2,1032.5 229.8,1032.9 231.4,1033.3 233.0,1033.4 234.6,1032.9 236.2,1032.3 237.8,1032.5 239.4,1033.4 241.0,1032.3 242.6,1032.8 244.2,1031.5 245.8,1033.5 247.4,1033.0 249.0,1032.6 250.6,1032.8 252.2,1033.4 253.8,1032.9 255.4,1033.1 257.0,1033.0 258.6,1032.2 260.2,1031.9 261.8,1033.6 263.4,1032.6 265.0,1033.7 266.6,1033.7 268.2,1032.7 269.8,1032.6 271.4,1032.6 273.0,1034.0 274.6,1033.0 276.2,1032.8 277.8,1033.5 279.4,1032.4 281.0,1032.6 282.6,1032.6 284.2,1032.9 285.8,1032.2 287.4,1032.6 289.0,1033.1 290.6,1032.3 292.2,1032.3 293.8,1033.2 295.4,1032.3 297.0,1032.8 298.6,1033.5 300.2,1033.0 301.8,1034.1 303.4,1032.9 305.0,1032.0 306.6,1033.2 308.2,1033.1 309.8,1033.5 311.4,1032.1 313.0,1032.9 314.6,1033.7 316.2,1033.1 317.8,1033.7 319.4,1032.5 321.0,1033.3 322.6,1033.0 324.2,1034.0 325.8,1032.4 327.4,1033.7 329.0,1033.1 330.6,1033.0 332.2,1032.6 333.8,1032.3 335.4,1032.1 337.0,1033.2 338.6,1032.4 340.2,1033.7 341.8,1033.3 343.4,1033.3 345.0,1033.7 346.6,1032.9 348.2,1033.6 349.8,1031.9 351.4,1032.7 353.0,1033.6 354.6,1032.9 356.2,1034.0 357.8,1033.0 359.4,1032.5 361.0,1033.9 362.6,1033.1 364.2,1032.9 365.8,1032.9 367.4,1032.5 369.0,1032.8 370.6,1033.5 372.2,1032.6 373.8,1032.9 375.4,1032.5 377.0,1033.0 378.6,1033.3 380.2,1033.3 381.8,1032.8 383.4,1032.5 385.0,1033.2 386.6,1033.5 388.2,1033.4 389.8,1034.7 391.4,1033.1 393.0,1032.7 394.6,1032.8 396.2,1033.6 397.8,1032.4 399.4,1032.9 400.0,1033.0 401.0,1032.0 402.6,1032.9 404.2,1033.4 405.8,1033.6 407.4,1033.4 409.0,1033.6 410.6,1032.6 412.2,1034.0 413.8,1034.1 415.4,1032.0 417.0,1032.3 418.6,1033.5 420.2,1033.5 421.8,1033.8 423.4,1033.1 425.0,1032.4 426.6,1032.6 428.2,1033.9 429.8,1033.0 431.4,1031.9 433.0,1032.9 434.6,1033.4 436.2,1033.0 437.8,1033.4 439.4,1033.3 441.0,1033.0 442.6,1032.4 444.2,1033.0 445.8,1033.4 447.4,1032.6 449.0,1033.7 450.6,1034.2 452.2,1033.5 453.8,1033.2 455.4,1033.0 457.0,1032.5 458.6,1034.0 460.2,1032.8 461.8,1032.6 463.4,1034.1 465.0,1033.6 466.6,1032.7 468.2,1033.2 469.8,1033.2 471.4,1033.5 473.0,1031.9 474.6,1032.4 476.2,1032.1 477.8,1033.1 479.4,1032.6 481.0,1033.3 482.6,1034.2 484.2,1033.3 485.8,1032.5 487.4,1033.0 489.0,1033.2 490.6,1031.9 492.2,1033.7 493.8,1033.2 495.4,1033.5 497.0,1033.8 498.6,1033.2 500.2,1033.8 501.8,1033.3 503.4,1032.4 505.0,1033.0 506.6,1033.0 508.2,1033.5 509.8,1034.1 511.4,1032.1 513.0,1033.0 514.6,1032.6 516.2,1033.1 517.8,1033.5 519.4,1034.0 521.0,1032.0 522.6,1033.1 524.2,1033.8 525.8,1032.5 527.4,1033.5 529.0,1033.3 530.6,1033.9 532.2,1033.3 533.8,1031.6 535.4,1032.4 537.0,1033.1 538.6,1032.8 540.2,1032.7 541.8,1033.7 543.4,1032.3 545.0,1033.0 546.6,1033.1 548.2,1033.6 549.8,1031.9 551.4,1033.1 553.0,1032.9 554.6,1032.6 556.2,1034.4 557.8,1032.6 559.4,1033.5 561.0,1032.5 562.6,1032.5 564.2,1033.2 565.8,1033.8 567.4,1033.0 569.0,1033.5 570.6,1033.0 572.2,1033.8 573.8,1033.2 575.4,1033.3 577.0,1033.6 578.6,1033.4 580.2,1033.2 581.8,1032.9 583.4,1033.2 585.0,1032.9 586.6,1034.0 588.2,1033.1 589.8,1033.7 591.4,1032.9 593.0,1033.5 594.6,1032.2 596.2,1032.8 597.8,1033.9 599.4,1033.4 601.0,1031.9 602.6,1032.9 604.2,1033.1 605.8,1032.8 607.4,1032.3 609.0,1032.4 610.6,1034.2 612.2,1033.0 613.8,1033.7 615.4,1033.6 617.0,1032.8 618.6,1033.4 620.2,1033.3 621.8,1032.6 623.4,1033.4 625.0,1033.3 626.6,1033.4 628.2,1033.1 629.8,1033.0 631.4,1033.3 633.0,1032.7 634.6,1033.9 636.2,1033.5 637.8,1033.3 639.4,1033.2 641.0,1033.6 642.6,1033.4 644.2,1033.1 645.8,1033.8 647.4,1034.4 649.0,1034.6 650.6,1033.8 652.2,1033.2 653.8,1035.4 655.4,1033.7 657.0,1033.6 658.6,1033.0 660.2,1033.5 661.8,1033.2 663.4,1033.1 665.0,1033.4 666.6,1033.6 668.2,1033.5 669.8,1033.5 671.4,1032.3 673.0,1033.8 674.6,1033.0 676.2,1033.4 677.8,1032.6 679.4,1033.8 681.0,1033.7 682.6,1033.4 684.2,1033.3 685.8,1033.2 687.4,1034.5 689.0,1033.2 690.6,1032.8 692.2,1033.1 693.8,1033.6 695.4,1033.4 697.0,1033.5 698.6,1033.8 700.2,1034.4 701.8,1034.8 703.4,1033.3 705.0,1033.5 706.6,1033.5 708.2,1034.3 709.8,1034.6 711.4,1034.2 713.0,1033.5 714.6,1033.8 716.2,1033.1 717.8,1033.6 719.4,1033.8 721.0,1033.3 722.6,1033.8 724.2,1034.4 725.8,1033.5 727.4,1033.9 729.0,1033.6 730.6,1032.6 732.2,1034.2 733.8,1033.0 735.4,1032.7 737.0,1034.0 738.6,1033.9 740.2,1034.1 741.8,1034.0 743.4,1034.5 745.0,1034.0 746.6,1034.4 748.2,1034.1 749.8,1033.1 751.4,1033.9 753.0,1034.1 754.6,1034.0 756.2,1033.9 757.8,1033.8 759.4,1034.8 761.0,1034.2 762.6,1033.4 764.2,1034.6 765.8,1034.1 767.4,1034.0 769.0,1033.9 770.6,1032.5 772.2,1032.4 773.8,1033.6 775.4,1034.7 777.0,1034.3 778.6,1033.1 780.2,1034.5 781.8,1034.9 783.4,1033.2 785.0,1033.5 786.6,1033.1 788.2,1033.3 789.8,1032.8 790.0,1034.0 791.4,1033.4 793.0,1034.1 794.6,1034.1 796.2,1034.5 797.8,1034.6 799.4,1033.8 801.0,1032.7 802.6,1034.1 804.2,1034.1 805.8,1033.4 807.4,1034.7 809.0,1033.7 810.6,1034.4 812.2,1034.4 813.8,1035.0 815.4,1033.0 817.0,1033.2 818.6,1033.8 820.2,1034.7 821.8,1035.1 823.4,1033.9 825.0,1034.1 826.6,1035.1 828.2,1033.9 829.8,1034.3 831.4,1034.8 833.0,1034.6 834.6,1034.0 836.2,1034.6 837.8,1034.1 839.4,1033.8 841.0,1033.6 842.6,1034.5 844.2,1035.3 845.8,1034.3 847.4,1034.2 849.0,1034.6 850.6,1033.9 852.2,1034.3 853.8,1034.6 855.4,1034.4 857.0,1034.9 858.6,1034.5 860.2,1034.1 861.8,1034.7 863.4,1034.9 865.0,1035.4 866.6,1033.6 868.2,1034.0 869.8,1035.7 871.4,1034.5 873.0,1035.4 874.6,1034.6 876.2,1034.1 877.8,1033.9 879.4,1034.0 881.0,1035.1 882.6,1033.4 884.2,1033.9 885.8,1034.7 887.4,1034.5 889.0,1034.1 890.6,1034.1 892.2,1034.0 893.8,1034.2 895.4,1035.6 897.0,1034.7 898.6,1034.7 900.2,1035.0 901.8,1034.5 903.4,1033.2 905.0,1035.4 906.6,1033.5 908.2,1034.4 909.8,1035.0 911.4,1033.5 913.0,1034.9 914.6,1034.1 916.2,1033.9 917.8,1034.5 919.4,1034.2 921.0,1034.0 922.6,1034.4 924.2,1035.0 925.8,1034.3 927.4,1033.8 929.0,1034.4 930.6,1034.4 932.2,1033.7 933.8,1034.7 935.4,1034.4 937.0,1034.9 938.6,1034.7 940.2,1034.6 941.8,1034.2 943.4,1035.2 945.0,1035.1 946.6,1035.0 948.2,1035.0 949.8,1035.8 951.4,1034.5 953.0,1034.3 954.6,1035.3 956.2,1034.4 957.8,1034.5 959.4,1035.2 961.0,1035.3 962.6,1035.7 964.2,1033.6 965.8,1034.0 967.4,1034.2 969.0,1033.9 970.6,1035.4 972.2,1035.3 973.8,1033.7 975.4,1035.1 977.0,1035.6 978.6,1035.6 980.2,1035.2 981.8,1034.1 983.4,1035.0 985.0,1034.4 986.6,1034.8 988.2,1035.3 989.8,1035.3 991.4,1035.0 993.0,1034.5 994.6,1036.1 996.2,1034.7 997.8,1034.9 999.4,1035.6 1001.0,1035.0 1002.6,1034.9 1003.0,1035.0" fill="none" stroke="#4B9655" stroke-width="2.0" stroke-linejoin="round" stroke-dasharray="16 1.6"/>
<polyline points="57.0,1025.0 58.6,1028.7 60.2,1032.5 61.8,1034.3 62.0,1035.0 63.4,1036.6 65.0,1036.6 66.6,1038.9 67.7,1039.8 68.2,1038.9 69.8,1040.0 71.4,1039.9 72.0,1040.0 73.0,1041.9 74.6,1043.0 76.0,1045.0 76.2,1044.1 77.8,1042.1 79.4,1039.5 80.0,1040.0 81.0,1043.8 82.6,1045.1 84.0,1050.0 84.2,1049.5 85.8,1045.8 87.0,1042.0 87.4,1044.9 89.0,1057.0 90.6,1049.6 92.0,1045.0 92.2,1046.0 93.8,1052.1 95.0,1055.0 95.4,1054.3 97.0,1045.2 98.0,1042.0 98.6,1042.0 100.2,1042.0 101.8,1043.1 103.4,1040.5 105.0,1040.0 106.6,1040.0 108.2,1040.8 109.8,1038.3 111.4,1038.9 113.0,1037.5 114.6,1038.5 116.2,1038.0 117.8,1037.9 119.4,1038.8 120.0,1038.0 121.0,1038.6 122.6,1038.3 124.2,1037.6 125.8,1037.3 127.4,1036.6 129.0,1037.8 130.6,1037.9 132.2,1037.1 133.8,1036.5 135.4,1036.5 137.0,1037.7 138.6,1038.1 140.2,1037.7 141.8,1036.1 143.4,1036.3 145.0,1036.0 146.6,1037.9 148.2,1037.0 149.8,1035.6 151.4,1036.8 153.0,1036.6 154.6,1036.5 156.2,1036.5 157.8,1035.5 159.4,1035.2 160.0,1036.0 161.0,1036.5 162.6,1037.7 164.2,1035.1 165.8,1035.0 167.4,1036.6 169.0,1035.0 170.6,1033.9 172.2,1035.8 173.8,1037.0 175.4,1037.1 177.0,1036.9 178.6,1035.6 180.2,1036.5 181.8,1035.8 183.4,1035.7 185.0,1036.6 186.6,1035.3 188.2,1037.1 189.8,1036.8 191.4,1037.0 193.0,1036.8 194.6,1035.9 196.2,1038.3 197.8,1038.3 199.4,1036.3 201.0,1036.5 202.6,1036.1 204.2,1036.4 205.8,1037.3 207.4,1037.7 209.0,1036.1 210.6,1035.9 212.2,1035.6 213.8,1036.6 215.4,1036.3 217.0,1036.8 218.6,1036.9 220.2,1035.4 221.8,1036.1 223.4,1037.2 225.0,1036.1 226.6,1036.3 228.2,1035.4 229.8,1037.7 231.4,1037.3 233.0,1036.7 234.6,1037.6 236.2,1038.2 237.8,1038.2 239.4,1036.7 240.0,1037.0 241.0,1036.9 242.6,1037.2 244.2,1037.8 245.8,1035.3 247.4,1037.0 249.0,1035.6 250.6,1037.9 252.2,1036.8 253.8,1037.5 255.4,1036.6 257.0,1038.3 258.6,1037.6 260.2,1036.4 261.8,1035.5 263.4,1037.3 265.0,1037.3 266.6,1036.6 268.2,1036.7 269.8,1036.3 271.4,1037.8 273.0,1038.0 274.6,1036.3 276.2,1036.1 277.8,1037.3 279.4,1035.4 281.0,1036.6 282.6,1036.9 284.2,1036.7 285.8,1038.0 287.4,1036.1 289.0,1037.3 290.6,1036.9 292.2,1036.6 293.8,1037.2 295.4,1036.9 297.0,1037.0 298.6,1036.2 300.2,1035.9 301.8,1037.8 303.4,1037.6 305.0,1036.9 306.6,1036.0 308.2,1037.2 309.8,1035.4 311.4,1036.2 313.0,1036.5 314.6,1036.1 316.2,1034.9 317.8,1038.0 319.4,1035.2 321.0,1037.6 322.6,1038.3 324.2,1037.1 325.8,1036.9 327.4,1035.3 329.0,1036.2 330.6,1034.7 332.2,1036.1 333.8,1036.7 335.4,1034.8 337.0,1036.0 338.6,1035.6 340.2,1037.5 341.8,1036.5 343.4,1036.8 345.0,1036.1 346.6,1036.5 348.2,1036.3 349.8,1035.2 351.4,1037.1 353.0,1036.1 354.6,1035.3 356.2,1036.2 357.8,1036.9 359.4,1037.0 361.0,1037.1 362.6,1036.7 364.2,1036.3 365.8,1036.0 367.4,1035.4 369.0,1037.0 370.6,1036.3 372.2,1037.0 373.8,1035.7 375.4,1036.1 377.0,1036.6 378.6,1035.5 380.2,1036.1 381.8,1036.1 383.4,1036.4 385.0,1035.0 386.6,1035.2 388.2,1035.0 389.8,1036.0 391.4,1035.4 393.0,1038.5 394.6,1035.6 396.2,1037.8 397.8,1037.2 399.4,1036.1 400.0,1036.0 401.0,1036.7 402.6,1035.2 404.2,1036.1 405.8,1036.5 407.4,1038.5 409.0,1035.8 410.6,1036.1 412.2,1036.8 413.8,1036.8 415.4,1034.6 417.0,1037.0 418.6,1036.2 420.2,1036.0 421.8,1036.3 423.4,1035.7 425.0,1035.1 426.6,1036.3 428.2,1037.3 429.8,1035.7 431.4,1036.6 433.0,1035.8 434.6,1036.5 436.2,1036.4 437.8,1035.4 439.4,1037.1 441.0,1035.5 442.6,1034.4 444.2,1035.6 445.8,1035.9 447.4,1036.2 449.0,1035.8 450.6,1035.8 452.2,1037.9 453.8,1035.1 455.4,1035.7 457.0,1036.2 458.6,1036.6 460.2,1035.8 461.8,1036.9 463.4,1035.8 465.0,1037.2 466.6,1034.9 468.2,1036.4 469.8,1036.6 471.4,1035.5 473.0,1036.2 474.6,1036.5 476.2,1035.8 477.8,1036.0 479.4,1036.5 481.0,1036.9 482.6,1037.2 484.2,1036.3 485.8,1037.0 487.4,1037.0 489.0,1037.0 490.6,1036.4 492.2,1034.1 493.8,1037.1 495.4,1036.4 497.0,1035.9 498.6,1035.3 500.2,1035.7 501.8,1035.3 503.4,1034.7 505.0,1035.2 506.6,1036.3 508.2,1035.4 509.8,1035.9 511.4,1038.0 513.0,1036.1 514.6,1036.9 516.2,1035.3 517.8,1036.4 519.4,1035.6 521.0,1035.9 522.6,1034.8 524.2,1036.3 525.8,1036.5 527.4,1035.2 529.0,1036.1 530.6,1036.6 532.2,1036.2 533.8,1036.4 535.4,1035.7 537.0,1036.7 538.6,1037.3 540.2,1035.5 541.8,1036.8 543.4,1035.6 545.0,1036.0 546.6,1036.4 548.2,1037.0 549.8,1035.2 551.4,1033.6 553.0,1036.2 554.6,1037.3 556.2,1036.8 557.8,1035.8 559.4,1035.6 561.0,1036.0 562.6,1035.9 564.2,1035.8 565.8,1036.3 567.4,1034.7 569.0,1036.8 570.6,1034.6 572.2,1037.5 573.8,1036.7 575.4,1035.5 577.0,1034.1 578.6,1036.7 580.2,1035.5 581.8,1036.3 583.4,1035.6 585.0,1037.2 586.6,1035.8 588.2,1036.4 589.8,1035.1 591.4,1035.5 593.0,1035.7 594.6,1036.3 596.2,1035.1 597.8,1036.2 599.4,1037.3 601.0,1035.3 602.6,1035.6 604.2,1036.3 605.8,1035.2 607.4,1035.6 609.0,1035.1 610.6,1035.5 612.2,1036.6 613.8,1035.6 615.4,1035.7 617.0,1036.3 618.6,1036.6 620.2,1035.9 621.8,1035.5 623.4,1036.1 625.0,1035.3 626.6,1036.4 628.2,1035.9 629.8,1036.9 631.4,1034.8 633.0,1036.5 634.6,1035.0 636.2,1035.4 637.8,1037.9 639.4,1036.2 641.0,1037.2 642.6,1035.7 644.2,1036.2 645.8,1035.4 647.4,1036.4 649.0,1036.1 650.6,1035.5 652.2,1036.1 653.8,1035.8 655.4,1037.0 657.0,1036.6 658.6,1037.0 660.2,1035.5 661.8,1036.9 663.4,1037.5 665.0,1036.0 666.6,1035.9 668.2,1036.5 669.8,1036.6 671.4,1035.0 673.0,1035.8 674.6,1036.6 676.2,1035.1 677.8,1036.8 679.4,1035.8 681.0,1035.4 682.6,1037.0 684.2,1036.7 685.8,1035.5 687.4,1036.7 689.0,1036.2 690.6,1036.5 692.2,1037.6 693.8,1035.6 695.4,1036.8 697.0,1035.8 698.6,1035.8 700.2,1036.8 701.8,1036.5 703.4,1036.0 705.0,1036.3 706.6,1036.0 708.2,1034.7 709.8,1035.7 711.4,1035.7 713.0,1037.0 714.6,1033.6 716.2,1036.9 717.8,1036.8 719.4,1036.4 721.0,1036.1 722.6,1035.0 724.2,1037.8 725.8,1035.0 727.4,1036.3 729.0,1036.6 730.6,1035.5 732.2,1035.9 733.8,1036.3 735.4,1036.1 737.0,1037.1 738.6,1037.8 740.2,1034.4 741.8,1035.9 743.4,1037.2 745.0,1035.6 746.6,1036.9 748.2,1037.8 749.8,1036.2 751.4,1036.3 753.0,1034.7 754.6,1035.5 756.2,1035.4 757.8,1036.5 759.4,1035.2 761.0,1035.7 762.6,1035.5 764.2,1036.5 765.8,1037.2 767.4,1035.9 769.0,1036.2 770.6,1035.7 772.2,1036.8 773.8,1036.2 775.4,1036.4 777.0,1035.8 778.6,1035.1 780.2,1034.7 781.8,1036.0 783.4,1036.9 785.0,1036.3 786.6,1036.6 788.2,1035.9 789.8,1035.8 790.0,1036.0 791.4,1035.5 793.0,1035.4 794.6,1036.6 796.2,1036.2 797.8,1036.6 799.4,1035.6 801.0,1036.9 802.6,1035.4 804.2,1036.7 805.8,1036.2 807.4,1037.2 809.0,1036.3 810.6,1035.3 812.2,1035.3 813.8,1037.4 815.4,1035.6 817.0,1035.6 818.6,1035.5 820.2,1038.1 821.8,1037.6 823.4,1037.5 825.0,1035.7 826.6,1038.0 828.2,1037.5 829.8,1036.7 831.4,1035.3 833.0,1036.5 834.6,1037.1 836.2,1036.8 837.8,1035.8 839.4,1037.2 841.0,1036.1 842.6,1034.6 844.2,1036.4 845.8,1036.7 847.4,1037.2 849.0,1038.2 850.6,1035.4 852.2,1036.2 853.8,1038.0 855.4,1036.6 857.0,1035.4 858.6,1035.9 860.2,1037.4 861.8,1037.9 863.4,1037.4 865.0,1038.1 866.6,1037.3 868.2,1035.9 869.8,1036.7 871.4,1037.1 873.0,1036.2 874.6,1036.8 876.2,1036.5 877.8,1037.1 879.4,1038.0 881.0,1037.5 882.6,1037.1 884.2,1035.8 885.8,1035.8 887.4,1035.9 889.0,1036.0 890.6,1036.3 892.2,1037.2 893.8,1037.1 895.4,1036.6 897.0,1036.0 898.6,1036.7 900.0,1037.0 900.2,1038.4 901.8,1036.0 903.4,1037.3 905.0,1037.8 906.6,1036.8 908.2,1037.7 909.8,1036.4 911.4,1036.3 913.0,1035.9 914.6,1036.0 916.2,1036.9 917.8,1037.9 919.4,1036.0 921.0,1036.0 922.6,1036.2 924.2,1036.9 925.8,1038.0 927.4,1037.7 929.0,1035.9 930.6,1037.2 932.2,1036.9 933.8,1037.3 935.4,1037.5 937.0,1038.6 938.6,1036.5 940.2,1037.0 941.8,1037.3 943.4,1036.2 945.0,1038.3 946.6,1037.6 948.2,1036.0 949.8,1038.3 951.4,1036.5 953.0,1037.5 954.6,1037.0 956.2,1037.6 957.8,1035.8 959.4,1037.7 961.0,1036.2 962.6,1037.0 964.2,1037.0 965.8,1036.8 967.4,1037.2 969.0,1038.6 970.6,1036.8 972.2,1036.4 973.8,1036.2 975.4,1036.0 977.0,1036.8 978.6,1036.9 980.2,1037.4 981.8,1037.9 983.4,1035.8 985.0,1036.9 986.6,1037.8 988.2,1035.8 989.8,1037.7 991.4,1036.4 993.0,1038.0 994.6,1038.3 996.2,1038.2 997.8,1036.6 999.4,1036.3 1001.0,1035.8 1002.6,1036.9 1003.0,1037.0" fill="none" stroke="#978E4E" stroke-width="2.0" stroke-linejoin="round" stroke-dasharray="16 4.4"/>
<polyline points="57.0,1033.0 58.6,1033.6 60.2,1034.1 61.8,1035.3 62.0,1036.0 63.4,1036.4 65.0,1035.7 66.6,1038.6 68.0,1038.0 68.2,1037.9 69.8,1037.8 71.4,1037.0 73.0,1037.0 74.6,1035.9 75.0,1036.0 76.2,1036.6 77.8,1036.9 79.4,1037.2 81.0,1037.0 82.6,1038.1 84.2,1037.9 85.0,1038.0 85.8,1038.0 87.4,1037.7 89.0,1037.8 90.6,1036.3 92.2,1037.1 93.8,1036.4 95.0,1036.0 95.4,1035.5 97.0,1036.5 98.6,1036.2 100.2,1035.7 101.8,1035.0 103.4,1035.2 105.0,1035.0 106.6,1036.0 108.2,1034.6 109.8,1035.3 110.0,1035.0 111.4,1033.8 113.0,1035.1 114.6,1035.6 116.2,1034.9 117.8,1034.1 119.4,1034.8 121.0,1035.2 122.6,1034.8 124.2,1034.8 125.8,1035.0 127.4,1034.9 129.0,1034.5 130.6,1035.2 132.2,1035.4 133.8,1035.4 135.4,1034.5 137.0,1035.0 138.6,1035.8 140.2,1034.4 141.8,1035.3 143.4,1034.8 145.0,1035.5 146.6,1035.1 148.2,1035.6 149.8,1035.5 151.4,1035.0 153.0,1035.3 154.6,1034.9 156.2,1035.5 157.8,1034.9 159.4,1034.4 161.0,1034.8 162.6,1035.7 164.2,1035.3 165.8,1035.1 167.4,1034.7 169.0,1034.2 170.6,1035.1 172.2,1035.1 173.8,1034.3 175.4,1035.0 177.0,1035.5 178.6,1035.1 180.2,1035.0 181.8,1035.2 183.4,1035.2 185.0,1035.4 186.6,1034.8 188.2,1035.1 189.8,1034.3 191.4,1034.3 193.0,1034.9 194.6,1034.8 196.2,1034.6 197.8,1034.4 199.4,1035.5 200.0,1035.0 201.0,1035.0 202.6,1034.3 204.2,1034.0 205.8,1035.6 207.4,1034.7 209.0,1033.9 210.6,1034.3 212.2,1035.1 213.8,1035.6 215.4,1035.8 217.0,1035.3 218.6,1034.8 220.2,1034.7 221.8,1035.2 223.4,1035.6 225.0,1035.0 226.6,1034.7 228.2,1034.7 229.8,1035.5 231.4,1034.9 233.0,1036.0 234.6,1034.8 236.2,1033.8 237.8,1034.5 239.4,1034.4 241.0,1034.9 242.6,1035.6 244.2,1034.5 245.8,1035.2 247.4,1035.9 249.0,1035.4 250.6,1035.3 252.2,1035.5 253.8,1035.5 255.4,1034.7 257.0,1035.3 258.6,1034.7 260.2,1034.5 261.8,1035.1 263.4,1034.8 265.0,1035.4 266.6,1034.1 268.2,1035.3 269.8,1035.2 271.4,1035.0 273.0,1034.7 274.6,1034.5 276.2,1034.9 277.8,1035.1 279.4,1034.7 281.0,1035.3 282.6,1034.5 284.2,1035.5 285.8,1034.7 287.4,1035.3 289.0,1034.8 290.6,1036.4 292.2,1034.0 293.8,1035.8 295.4,1035.4 297.0,1035.6 298.6,1034.3 300.2,1034.7 301.8,1034.0 303.4,1034.9 305.0,1034.9 306.6,1034.9 308.2,1034.7 309.8,1034.4 311.4,1035.0 313.0,1035.8 314.6,1035.2 316.2,1034.7 317.8,1035.2 319.4,1035.3 321.0,1034.5 322.6,1034.7 324.2,1035.5 325.8,1035.2 327.4,1034.4 329.0,1034.8 330.6,1034.5 332.2,1035.7 333.8,1034.8 335.4,1034.7 337.0,1034.4 338.6,1035.9 340.2,1035.1 341.8,1035.5 343.4,1034.8 345.0,1035.6 346.6,1035.1 348.2,1034.8 349.8,1035.1 351.4,1035.2 353.0,1035.4 354.6,1035.4 356.2,1033.8 357.8,1035.1 359.4,1034.4 361.0,1035.2 362.6,1035.4 364.2,1035.1 365.8,1034.9 367.4,1035.3 369.0,1035.1 370.6,1034.5 372.2,1035.4 373.8,1035.5 375.4,1035.2 377.0,1035.3 378.6,1034.8 380.2,1034.9 381.8,1035.0 383.4,1034.5 385.0,1035.7 386.6,1035.3 388.2,1035.8 389.8,1034.8 391.4,1035.6 393.0,1034.0 394.6,1034.9 396.2,1035.6 397.8,1035.0 399.4,1034.5 400.0,1035.0 401.0,1035.5 402.6,1034.9 404.2,1035.2 405.8,1035.0 407.4,1034.9 409.0,1035.0 410.6,1033.8 412.2,1034.0 413.8,1036.3 415.4,1034.4 417.0,1035.0 418.6,1035.3 420.2,1036.0 421.8,1035.5 423.4,1035.2 425.0,1035.0 426.6,1034.4 428.2,1033.9 429.8,1034.8 431.4,1035.0 433.0,1035.9 434.6,1035.2 436.2,1034.8 437.8,1034.6 439.4,1035.4 441.0,1035.0 442.6,1035.8 444.2,1036.0 445.8,1035.4 447.4,1035.2 449.0,1035.3 450.6,1035.6 452.2,1034.6 453.8,1035.0 455.4,1034.8 457.0,1034.8 458.6,1035.9 460.2,1034.9 461.8,1035.2 463.4,1035.7 465.0,1034.9 466.6,1035.6 468.2,1034.9 469.8,1035.3 471.4,1034.8 473.0,1035.0 474.6,1035.9 476.2,1035.0 477.8,1035.1 479.4,1035.7 481.0,1035.1 482.6,1035.3 484.2,1034.4 485.8,1035.5 487.4,1036.1 489.0,1035.5 490.6,1035.0 492.2,1035.3 493.8,1033.9 495.4,1035.1 497.0,1034.5 498.6,1035.3 500.2,1035.6 501.8,1034.9 503.4,1034.8 505.0,1035.3 506.6,1034.3 508.2,1034.9 509.8,1034.7 511.4,1034.8 513.0,1036.3 514.6,1035.1 516.2,1034.6 517.8,1034.1 519.4,1035.3 521.0,1034.6 522.6,1035.5 524.2,1036.2 525.8,1035.1 527.4,1034.9 529.0,1034.6 530.6,1034.6 532.2,1035.6 533.8,1035.1 535.4,1034.7 537.0,1034.6 538.6,1035.0 540.2,1036.0 541.8,1034.8 543.4,1034.6 545.0,1035.0 546.6,1035.2 548.2,1033.9 549.8,1034.5 551.4,1035.4 553.0,1035.2 554.6,1035.1 556.2,1035.7 557.8,1034.0 559.4,1035.3 561.0,1034.9 562.6,1034.9 564.2,1034.5 565.8,1035.2 567.4,1036.0 569.0,1035.2 570.6,1035.1 572.2,1034.8 573.8,1035.2 575.4,1034.4 577.0,1035.4 578.6,1033.9 580.2,1034.9 581.8,1034.7 583.4,1035.0 585.0,1034.9 586.6,1035.0 588.2,1034.8 589.8,1034.8 591.4,1034.5 593.0,1035.0 594.6,1035.2 596.2,1034.9 597.8,1034.9 599.4,1035.4 601.0,1034.5 602.6,1034.9 604.2,1036.1 605.8,1034.9 607.4,1035.7 609.0,1034.7 610.6,1035.2 612.2,1034.4 613.8,1035.1 615.4,1035.3 617.0,1035.3 618.6,1035.8 620.2,1034.9 621.8,1034.9 623.4,1034.9 625.0,1035.2 626.6,1034.5 628.2,1034.9 629.8,1034.5 631.4,1035.1 633.0,1034.5 634.6,1035.3 636.2,1035.0 637.8,1034.8 639.4,1035.0 641.0,1034.3 642.6,1035.1 644.2,1034.7 645.8,1034.7 647.4,1036.1 649.0,1035.4 650.6,1034.9 652.2,1034.7 653.8,1035.3 655.4,1034.4 657.0,1036.1 658.6,1034.5 660.2,1035.0 661.8,1035.6 663.4,1034.6 665.0,1035.7 666.6,1034.7 668.2,1034.8 669.8,1035.1 671.4,1034.4 673.0,1035.0 674.6,1034.3 676.2,1034.3 677.8,1034.6 679.4,1035.5 681.0,1035.6 682.6,1033.9 684.2,1035.2 685.8,1034.7 687.4,1035.3 689.0,1034.3 690.6,1034.7 692.2,1035.6 693.8,1035.2 695.4,1034.1 697.0,1035.0 698.6,1035.6 700.2,1034.8 701.8,1034.7 703.4,1035.1 705.0,1034.1 706.6,1033.9 708.2,1034.4 709.8,1034.8 711.4,1035.4 713.0,1035.7 714.6,1034.9 716.2,1035.5 717.8,1035.0 719.4,1034.6 721.0,1035.9 722.6,1035.3 724.2,1035.0 725.8,1034.6 727.4,1034.1 729.0,1035.4 730.6,1035.4 732.2,1035.5 733.8,1035.1 735.4,1034.3 737.0,1034.6 738.6,1034.9 740.2,1035.7 741.8,1034.6 743.4,1034.8 745.0,1034.1 746.6,1035.0 748.2,1035.1 749.8,1034.5 751.4,1035.1 753.0,1034.5 754.6,1034.6 756.2,1035.1 757.8,1034.8 759.4,1035.0 761.0,1035.3 762.6,1034.6 764.2,1034.4 765.8,1035.8 767.4,1034.8 769.0,1034.5 770.6,1035.4 772.2,1034.5 773.8,1035.3 775.4,1034.7 777.0,1035.3 778.6,1033.8 780.2,1034.3 781.8,1035.5 783.4,1035.7 785.0,1034.9 786.6,1035.0 788.2,1034.8 789.8,1035.7 790.0,1035.0 791.4,1035.6 793.0,1035.0 794.6,1034.7 796.2,1035.1 797.8,1034.7 799.4,1035.7 801.0,1034.1 802.6,1034.6 804.2,1034.9 805.8,1035.1 807.4,1034.0 809.0,1035.3 810.6,1035.5 812.2,1034.5 813.8,1034.3 815.4,1035.9 817.0,1035.1 818.6,1034.3 820.2,1034.3 821.8,1035.4 823.4,1035.4 825.0,1034.2 826.6,1034.2 828.2,1034.0 829.8,1035.6 831.4,1033.9 833.0,1034.8 834.6,1035.2 836.2,1035.0 837.8,1035.1 839.4,1035.4 841.0,1034.2 842.6,1034.8 844.2,1034.6 845.8,1034.7 847.4,1035.2 849.0,1035.5 850.6,1035.3 852.2,1035.0 853.8,1035.3 855.4,1035.6 857.0,1035.4 858.6,1035.8 860.2,1034.8 861.8,1035.0 863.4,1034.2 865.0,1035.1 866.6,1034.7 868.2,1034.8 869.8,1035.2 871.4,1034.9 873.0,1035.4 874.6,1035.1 876.2,1035.5 877.8,1034.6 879.4,1034.7 881.0,1034.6 882.6,1034.7 884.2,1035.4 885.8,1035.3 887.4,1035.6 889.0,1034.5 890.6,1036.1 892.2,1035.1 893.8,1034.7 895.4,1035.2 897.0,1034.9 898.6,1035.5 900.2,1034.8 901.8,1035.3 903.4,1034.5 905.0,1034.6 906.6,1035.2 908.2,1034.4 909.8,1034.8 911.4,1035.4 913.0,1035.4 914.6,1034.0 916.2,1035.1 917.8,1035.2 919.4,1035.3 921.0,1035.4 922.6,1035.3 924.2,1034.6 925.8,1035.2 927.4,1036.0 929.0,1035.6 930.6,1035.7 932.2,1035.2 933.8,1035.1 935.4,1035.6 937.0,1034.5 938.6,1035.4 940.2,1035.3 941.8,1035.2 943.4,1035.7 945.0,1035.4 946.6,1035.7 948.2,1035.1 949.8,1035.0 951.4,1035.2 953.0,1035.4 954.6,1034.3 956.2,1035.2 957.8,1035.3 959.4,1035.0 961.0,1034.6 962.6,1035.0 964.2,1034.4 965.8,1034.6 967.4,1034.9 969.0,1034.0 970.6,1034.8 972.2,1035.5 973.8,1035.3 975.4,1034.9 977.0,1035.0 978.6,1034.9 980.2,1035.3 981.8,1034.6 983.4,1034.3 985.0,1034.6 986.6,1034.6 988.2,1035.3 989.8,1034.1 991.4,1034.9 993.0,1034.8 994.6,1035.3 996.2,1035.9 997.8,1035.2 999.4,1035.7 1001.0,1035.4 1002.6,1034.8 1003.0,1035.0" fill="none" stroke="#614B90" stroke-width="2.0" stroke-linejoin="round" stroke-dasharray="29 1.6"/>
<polyline points="57.0,962.0 57.6,966.0 58.2,1046.5 58.3,1063.0 59.4,1042.1 60.0,1030.0 60.6,1038.5 61.8,1056.1 62.0,1060.0 63.0,1076.7 64.0,1090.0 64.2,1094.1 65.4,1117.5 66.0,1130.0 66.6,1142.2 67.8,1156.1 68.0,1160.0 69.0,1178.3 69.7,1195.0 70.2,1186.8 71.0,1180.0 71.4,1187.1 72.6,1213.2 73.0,1220.0 73.8,1229.5 75.0,1240.0 76.2,1247.3 77.3,1250.0 77.4,1256.3 78.3,1280.0 78.6,1289.7 79.3,1302.0 79.8,1281.5 80.5,1250.0 81.0,1219.1 82.0,1150.0 82.2,1142.2 83.4,1086.0 84.0,1060.0 84.6,1046.6 84.8,1040.0 85.8,1090.2 86.0,1100.0 87.0,1149.7 88.0,1200.0 88.2,1206.9 89.4,1223.6 89.9,1230.0 90.6,1210.1 91.0,1200.0 91.8,1184.0 93.0,1160.0 94.2,1152.3 95.0,1140.0 95.4,1135.6 96.6,1125.4 97.0,1120.0 97.8,1113.2 99.0,1101.0 100.0,1090.0 100.2,1090.2 101.4,1082.2 102.6,1076.3 103.0,1075.0 103.8,1068.8 105.0,1060.0 106.2,1055.4 107.4,1053.6 108.0,1050.0 108.6,1052.2 109.8,1046.2 111.0,1047.3 112.0,1045.0 112.2,1043.1 113.4,1042.7 114.6,1042.5 115.8,1042.1 117.0,1040.1 118.0,1040.0 118.2,1035.1 119.4,1040.7 120.6,1036.0 121.8,1033.7 123.0,1034.5 124.2,1030.5 125.3,1030.0 125.4,1027.6 126.6,1032.4 127.8,1033.5 129.0,1032.5 130.0,1035.0 130.2,1036.6 131.4,1035.4 132.6,1032.2 133.8,1037.2 135.0,1034.1 136.2,1031.2 137.4,1033.7 138.6,1032.8 139.8,1033.9 140.0,1032.0 141.0,1029.4 142.2,1033.5 143.4,1033.1 144.6,1032.3 145.8,1031.9 147.0,1032.9 148.2,1031.6 149.0,1030.0 149.4,1030.3 150.6,1028.6 151.8,1032.1 153.0,1030.0 154.2,1031.1 155.4,1029.0 156.0,1028.0 156.6,1028.0 157.8,1028.2 159.0,1021.5 160.2,1025.9 160.6,1025.0 161.4,1015.5 162.6,1013.0 163.0,1010.0 163.8,1016.0 165.0,1020.0 166.2,1027.6 167.4,1027.2 168.0,1030.0 168.6,1025.3 169.8,1013.3 170.7,1005.0 171.0,1000.2 172.2,1002.5 172.6,1000.0 173.4,998.4 174.6,996.0 175.8,991.6 177.0,990.7 177.3,990.0 178.2,990.6 179.4,993.3 180.6,992.0 181.8,998.4 182.0,992.0 183.0,990.9 184.2,990.7 185.4,990.5 186.6,988.6 186.7,990.0 187.8,991.5 189.0,988.5 190.0,986.0 190.2,983.9 191.4,987.0 192.6,989.6 193.8,988.0 195.0,984.0 196.2,985.3 197.4,983.1 198.5,982.0 198.6,984.4 199.6,961.0 199.8,965.3 201.0,985.0 202.0,996.0 202.2,996.1 203.4,1000.7 204.6,1009.9 205.5,1010.0 205.8,1008.9 207.0,1012.6 208.2,1004.2 209.4,1005.4 210.0,1005.0 210.6,1004.6 211.8,1003.8 213.0,1004.7 214.2,1006.3 215.0,1005.0 215.4,1004.1 216.6,1003.5 217.8,1009.4 219.0,1010.4 219.6,1008.0 220.2,1006.3 221.4,1007.0 222.6,1000.6 223.8,1006.1 225.0,1003.0 226.2,1000.2 227.4,1001.2 228.6,1005.8 229.8,999.1 231.0,1001.1 232.2,998.6 233.4,996.8 233.7,1000.0 234.6,993.2 235.8,989.5 237.0,980.3 237.3,981.0 238.2,983.0 239.4,989.4 240.0,990.0 240.6,991.2 241.8,991.9 243.0,997.0 244.2,1001.2 245.4,1000.0 246.6,1003.8 247.8,1000.7 249.0,1007.0 250.0,1005.0 250.2,1002.6 251.4,1001.6 252.6,1003.7 253.8,1003.5 255.0,1004.3 256.2,1002.5 257.4,1004.4 258.0,1003.0 258.6,1005.4 259.8,1001.5 261.0,999.9 262.2,1001.4 263.4,1003.3 264.6,1003.1 265.8,1000.7 266.7,1001.0 267.0,999.1 268.2,1000.2 269.4,1001.3 270.6,997.6 271.8,1000.6 272.0,998.0 273.0,998.3 274.2,998.3 275.4,996.4 276.6,999.8 277.8,997.3 278.4,997.0 279.0,994.3 280.2,998.3 281.4,995.8 282.6,998.3 283.8,996.5 285.0,994.8 286.2,996.0 287.4,994.6 288.6,993.8 289.8,995.2 290.0,995.0 291.0,996.5 292.2,995.0 293.4,994.6 294.6,993.6 295.8,995.5 297.0,994.8 298.2,996.0 299.4,994.8 299.6,994.0 300.6,999.1 301.8,993.7 303.0,997.8 304.2,1000.2 305.0,1000.0 305.4,1002.4 306.6,1000.0 306.8,1003.0 307.8,1000.3 309.0,1001.7 310.2,1003.0 311.4,1002.4 312.0,1000.0 312.6,997.1 313.8,999.8 315.0,1001.3 316.2,998.8 317.4,996.5 318.5,998.0 318.6,996.4 319.8,990.8 321.0,991.0 322.0,985.0 322.2,985.6 323.4,991.3 324.6,996.5 325.8,1003.8 326.0,1005.0 327.0,1005.7 328.2,1008.4 329.4,1012.9 330.3,1015.0 330.6,1014.3 331.8,1014.3 333.0,1012.5 334.2,1013.1 335.0,1010.0 335.4,1009.8 336.6,1009.9 337.8,1009.3 339.0,1006.9 339.7,1008.0 340.2,1010.1 341.4,1006.4 342.6,1004.1 343.8,1008.8 345.0,1006.0 346.2,1007.0 347.4,1004.6 348.6,1007.1 349.8,1006.9 350.3,1005.0 351.0,1006.8 352.2,1004.1 353.4,1007.3 354.6,1005.8 355.8,1007.3 357.0,1008.1 358.2,1008.4 358.5,1010.0 359.4,1014.8 360.6,1017.6 361.8,1025.2 363.0,1029.5 363.2,1030.0 364.2,1027.3 365.4,1026.7 366.6,1025.7 367.8,1024.5 368.0,1022.0 369.0,1021.2 370.2,1024.3 371.4,1021.6 372.6,1020.0 373.8,1023.7 375.0,1020.3 376.2,1022.2 377.0,1025.0 377.4,1027.3 378.6,1024.7 379.8,1025.9 381.0,1027.3 382.0,1025.0 382.2,1022.2 383.4,1024.1 384.6,1025.3 385.8,1021.8 386.0,1020.0 387.0,1019.6 388.2,1019.6 389.0,1018.0 389.4,1032.8 390.2,1062.0 390.6,1061.1 391.8,1054.7 393.0,1045.0 394.2,1040.7 395.4,1038.1 396.0,1035.0 396.6,1033.8 397.8,1030.8 399.0,1027.2 400.2,1020.0 400.8,1020.0 401.4,1023.7 402.6,1026.1 403.8,1025.6 404.0,1028.0 405.0,1028.8 406.2,1028.2 407.4,1031.9 407.9,1033.0 408.6,1032.6 409.8,1028.0 411.0,1026.8 412.2,1024.7 413.0,1025.0 413.4,1023.5 414.6,1022.5 415.8,1021.0 417.0,1023.1 418.2,1020.7 419.4,1018.7 419.6,1020.0 420.6,1020.7 421.8,1016.5 423.0,1017.8 424.0,1015.0 424.2,1012.6 425.4,1016.2 426.6,1011.7 427.8,1009.6 429.0,1010.0 430.2,1012.2 431.4,1010.4 432.6,1012.2 433.8,1016.0 435.0,1016.1 436.0,1018.0 436.2,1018.5 437.4,1016.2 438.6,1014.6 439.8,1012.6 440.0,1012.0 441.0,1012.6 442.2,1010.5 443.4,1011.6 444.6,1010.4 445.5,1008.0 445.8,1004.8 447.0,1006.2 448.2,1013.3 449.4,1010.7 450.0,1012.0 450.6,1012.2 451.8,1011.4 453.0,1011.7 454.2,1014.9 455.4,1009.3 456.6,1010.4 457.3,1010.0 457.8,1013.3 459.0,1019.2 459.6,1025.0 460.2,1022.5 461.4,1021.7 462.6,1020.3 463.8,1019.1 464.0,1018.0 465.0,1013.9 466.2,1013.9 467.4,1019.0 468.6,1015.0 469.0,1015.0 469.8,1017.4 471.0,1016.3 472.2,1017.0 473.4,1023.3 474.0,1020.0 474.6,1017.6 475.8,1017.6 477.0,1019.9 478.2,1018.2 478.4,1018.0 479.4,1017.7 480.6,1024.1 481.8,1028.3 483.0,1030.0 484.2,1035.3 485.4,1045.1 486.0,1050.0 486.6,1056.5 487.8,1068.5 489.0,1075.0 490.2,1064.9 491.4,1061.8 492.0,1060.0 492.6,1058.1 493.8,1052.4 495.0,1050.0 496.2,1044.8 497.4,1042.0 498.6,1040.2 499.0,1038.0 499.8,1034.1 501.0,1034.6 502.2,1031.6 503.0,1028.0 503.4,1030.9 504.6,1036.0 505.8,1036.2 506.7,1040.0 507.0,1040.1 508.2,1042.4 509.4,1043.4 510.6,1043.2 511.8,1041.2 512.0,1042.0 513.0,1041.7 514.2,1040.7 515.4,1042.9 516.6,1042.6 517.8,1043.9 518.4,1045.0 519.0,1046.9 520.2,1054.1 520.8,1055.0 521.4,1055.6 522.6,1052.0 523.8,1048.0 525.0,1048.0 526.2,1047.2 527.4,1047.4 528.6,1047.5 529.8,1045.6 530.0,1045.0 531.0,1042.5 532.2,1035.1 533.4,1032.6 534.6,1028.0 535.0,1025.0 535.8,1022.8 537.0,1019.7 538.2,1020.9 539.4,1014.5 540.0,1015.0 540.6,1016.3 541.8,1014.6 543.0,1014.4 544.2,1014.6 545.4,1014.3 546.6,1015.0 547.0,1015.0 547.8,1020.0 549.0,1022.0 550.2,1021.7 551.4,1025.3 552.6,1028.7 553.8,1028.9 554.0,1030.0 555.0,1032.1 556.2,1027.4 557.4,1026.9 558.0,1025.0 558.6,1023.3 559.8,1023.0 561.0,1023.3 562.2,1023.9 563.4,1026.9 563.5,1025.0 564.6,1023.9 565.8,1025.4 567.0,1022.4 568.2,1020.8 569.0,1022.0 569.4,1022.6 570.6,1022.1 571.8,1020.4 573.0,1024.1 574.2,1026.7 575.3,1025.0 575.4,1024.7 576.6,1022.9 577.8,1023.7 579.0,1022.9 580.2,1024.6 581.0,1025.0 581.4,1023.4 582.6,1024.9 583.8,1025.4 585.0,1027.5 586.2,1023.0 587.0,1025.0 587.4,1021.0 588.6,1026.4 589.8,1023.0 591.0,1020.4 592.2,1020.8 593.4,1017.0 594.0,1018.0 594.6,1021.1 595.8,1030.3 597.0,1035.8 597.6,1040.0 598.2,1038.9 599.4,1036.8 600.6,1033.5 601.8,1030.1 602.0,1030.0 603.0,1030.2 604.2,1030.6 605.4,1029.5 606.6,1024.6 607.8,1026.6 608.0,1025.0 609.0,1025.6 610.2,1031.3 610.5,1035.0 611.4,1035.2 612.6,1034.6 613.8,1035.3 615.0,1032.0 616.2,1028.5 617.4,1033.0 618.6,1029.6 619.8,1029.3 620.0,1030.0 621.0,1030.5 622.2,1031.7 623.4,1027.0 624.6,1025.1 625.0,1028.0 625.8,1026.4 627.0,1026.5 628.2,1028.0 629.4,1025.0 630.6,1025.7 631.8,1024.5 633.0,1024.1 634.2,1024.2 635.0,1025.0 635.4,1026.8 636.6,1022.1 637.8,1023.8 639.0,1023.5 640.2,1027.1 641.0,1025.0 641.4,1025.1 642.6,1023.0 643.8,1025.0 645.0,1026.6 646.2,1024.3 647.0,1022.0 647.4,1019.6 648.6,1021.1 649.8,1023.2 651.0,1017.5 652.2,1018.1 653.0,1020.0 653.4,1019.5 654.6,1022.0 655.8,1020.3 657.0,1022.7 658.0,1023.0 658.2,1022.8 659.4,1024.1 660.6,1021.7 661.8,1020.2 663.0,1020.7 664.2,1025.2 664.6,1025.0 665.4,1027.3 666.6,1027.0 667.8,1023.9 669.0,1024.4 670.0,1028.0 670.2,1027.6 671.4,1027.1 672.6,1026.0 673.8,1028.9 674.0,1030.0 675.0,1028.6 676.2,1029.8 677.4,1030.7 678.6,1030.4 679.8,1030.4 681.0,1030.0 682.2,1030.0 683.4,1027.8 684.6,1026.2 685.8,1025.4 687.0,1025.0 688.2,1026.2 689.4,1022.5 690.6,1023.5 691.8,1024.0 693.0,1020.0 694.2,1023.7 695.4,1017.1 696.6,1021.7 697.8,1023.7 698.0,1022.0 699.0,1020.9 700.2,1020.1 701.4,1018.4 702.6,1019.4 703.8,1020.3 704.6,1020.0 705.0,1016.8 706.2,1020.6 707.4,1019.6 708.6,1021.5 709.8,1020.0 710.0,1022.0 711.0,1022.2 712.2,1022.3 713.4,1020.8 714.6,1020.8 715.8,1023.7 716.4,1022.0 717.0,1022.9 718.2,1020.0 719.4,1021.7 720.6,1018.5 721.8,1019.2 722.0,1020.0 723.0,1014.4 724.2,1018.3 725.4,1020.1 726.6,1017.6 727.8,1019.2 728.0,1018.0 729.0,1019.3 730.2,1024.0 731.4,1026.1 732.6,1027.5 732.9,1030.0 733.8,1032.3 735.0,1025.1 736.0,1025.0 736.2,1022.5 737.4,1024.2 738.6,1023.9 739.8,1022.8 740.0,1022.0 741.0,1022.4 742.2,1024.2 743.4,1025.7 744.6,1025.9 745.0,1025.0 745.8,1022.5 747.0,1028.1 748.2,1025.0 749.4,1021.3 750.6,1026.5 751.7,1025.0 751.8,1024.8 753.0,1026.3 754.2,1030.0 755.4,1026.2 756.6,1026.7 757.0,1028.0 757.8,1026.5 759.0,1029.0 760.2,1030.2 761.4,1030.1 762.6,1030.1 763.4,1030.0 763.8,1026.2 765.0,1030.5 766.2,1032.0 767.4,1029.1 768.6,1029.1 769.8,1028.2 770.0,1030.0 771.0,1030.8 772.2,1028.1 773.4,1034.8 774.6,1031.4 775.2,1032.0 775.8,1030.3 777.0,1028.0 778.2,1029.9 779.4,1029.4 780.6,1025.5 781.8,1025.5 782.0,1025.0 783.0,1024.9 784.2,1025.4 785.4,1024.0 786.6,1024.4 787.8,1018.9 789.0,1025.3 790.0,1020.0 790.2,1019.1 791.4,1018.0 792.6,1018.4 793.8,1020.7 795.0,1021.4 796.2,1024.4 796.8,1020.0 797.4,1022.5 798.6,1019.3 799.8,1020.6 801.0,1020.8 802.0,1022.0 802.2,1020.9 803.4,1021.7 804.6,1020.9 805.8,1024.1 807.0,1022.6 808.2,1023.2 808.5,1022.0 809.4,1021.4 810.6,1019.2 811.8,1021.6 813.0,1019.7 814.0,1020.0 814.2,1023.5 815.4,1021.8 816.6,1017.0 817.8,1017.0 819.0,1017.5 820.2,1017.7 820.3,1018.0 821.4,1021.0 822.6,1019.7 823.8,1021.8 825.0,1022.0 826.2,1022.1 827.4,1022.9 828.6,1026.1 829.8,1024.5 830.9,1025.0 831.0,1029.7 832.2,1039.1 833.2,1050.0 833.4,1051.1 834.6,1053.7 835.6,1055.0 835.8,1055.4 837.0,1052.7 838.0,1045.0 838.2,1043.5 839.4,1041.7 840.6,1038.9 841.8,1041.7 843.0,1037.3 843.8,1035.0 844.2,1035.4 845.4,1034.0 846.6,1028.4 847.8,1031.7 848.0,1030.0 849.0,1029.3 850.2,1028.5 851.4,1026.9 852.6,1025.4 853.2,1025.0 853.8,1025.0 855.0,1024.3 856.2,1025.1 857.4,1026.8 858.6,1022.0 859.8,1027.5 860.0,1026.0 861.0,1027.1 862.2,1023.8 863.4,1026.5 864.6,1026.0 865.8,1024.3 867.0,1028.1 867.3,1025.0 868.2,1041.9 869.2,1060.0 869.4,1058.7 870.6,1050.2 871.8,1050.0 872.0,1045.0 873.0,1043.3 874.2,1040.9 875.4,1037.3 876.6,1038.9 877.8,1032.3 879.0,1030.0 880.2,1032.9 881.4,1031.9 882.6,1031.8 883.8,1031.2 885.0,1030.0 886.2,1032.1 887.4,1029.8 888.6,1026.3 889.8,1025.2 890.8,1030.0 891.0,1032.1 892.2,1026.6 893.4,1032.9 894.6,1036.3 895.8,1027.6 896.0,1031.0 897.0,1032.3 898.2,1032.2 899.4,1030.3 900.6,1028.2 901.8,1031.7 902.6,1032.0 903.0,1035.0 904.2,1031.4 905.4,1031.3 906.6,1031.1 907.8,1030.7 909.0,1030.8 910.0,1030.0 910.2,1034.1 911.4,1028.3 912.6,1026.4 913.8,1031.1 915.0,1028.5 916.2,1028.4 917.4,1026.6 918.0,1029.0 918.6,1028.6 919.8,1028.0 921.0,1029.4 922.2,1027.8 923.4,1025.7 924.6,1029.1 925.8,1027.9 926.0,1028.0 927.0,1024.7 928.2,1027.7 929.4,1029.8 930.6,1028.4 931.8,1028.1 933.0,1029.9 934.2,1027.8 935.0,1029.0 935.4,1027.8 936.6,1030.2 937.8,1029.1 939.0,1028.5 940.2,1030.2 941.4,1030.4 942.0,1030.0 942.6,1031.7 943.8,1031.8 945.0,1030.2 946.2,1030.0 947.4,1028.4 948.6,1030.4 949.6,1030.0 949.8,1029.4 951.0,1031.5 952.2,1031.5 953.4,1031.2 954.6,1029.9 955.0,1030.0 955.8,1030.6 957.0,1032.7 958.2,1033.1 959.4,1029.0 960.6,1025.0 961.4,1030.0 961.8,1031.1 963.0,1027.0 964.2,1029.6 965.4,1030.1 966.6,1031.8 967.0,1029.0 967.8,1028.6 969.0,1028.5 970.2,1027.5 971.4,1028.8 972.6,1025.9 973.0,1028.0 973.8,1028.8 975.0,1028.0 976.2,1029.4 977.4,1026.0 978.6,1026.8 979.0,1026.0 979.8,1026.1 981.0,1025.3 982.2,1023.3 983.4,1023.6 984.6,1024.3 985.0,1024.0 985.8,1024.9 987.0,1025.9 988.2,1023.0 989.4,1024.5 990.6,1025.1 991.8,1025.6 993.0,1024.0 994.2,1024.5 995.4,1024.4 996.6,1023.4 997.8,1024.1 999.0,1023.7 1000.2,1020.9 1001.4,1022.8 1002.6,1019.7 1003.7,1024.0" fill="none" stroke="#CF8445" stroke-width="2.0" stroke-linejoin="round" stroke-dasharray="8.6 1.6"/>
<polyline points="57.0,962.0 57.6,965.0 58.2,973.5 59.0,990.0 59.4,993.4 60.6,1002.9 61.6,1008.0 61.8,1006.4 63.0,1000.9 64.0,1000.0 64.2,1002.9 65.4,1021.9 66.0,1030.0 66.6,1026.0 67.8,1009.8 68.0,1010.0 69.0,1012.4 69.7,1018.0 70.2,1050.8 71.0,1100.0 71.4,1061.2 72.2,981.0 72.6,1035.8 73.5,1150.0 73.8,1174.7 75.0,1264.5 75.2,1280.0 76.2,1070.4 76.3,1050.0 77.3,969.0 77.4,984.5 78.5,1100.0 78.6,1113.9 79.8,1288.0 80.8,1100.0 81.0,1077.0 81.8,992.0 82.2,1060.2 82.7,1150.0 83.4,1276.2 83.6,1312.0 84.6,1135.6 84.8,1100.0 85.8,1010.9 86.1,985.0 87.0,1150.0 87.9,1293.0 88.2,1267.5 89.0,1200.0 89.4,1172.5 90.0,1130.0 90.6,1127.5 91.8,1120.7 92.4,1115.0 93.0,1109.8 94.0,1100.0 94.2,1096.8 95.4,1101.3 96.2,1100.0 96.6,1098.9 97.8,1105.4 99.0,1110.0 100.2,1110.3 101.0,1115.0 101.4,1113.0 102.6,1105.6 103.0,1105.0 103.8,1104.2 105.0,1107.9 106.2,1100.1 106.3,1100.0 107.4,1105.0 108.6,1105.0 108.8,1108.0 109.8,1092.5 110.0,1090.0 111.0,1029.3 112.1,960.0 112.2,977.3 113.1,1135.0 113.4,1127.0 114.6,1091.8 115.0,1080.0 115.8,1070.2 117.0,1060.0 118.2,1005.0 119.4,1066.0 119.7,1080.0 120.6,1064.7 121.0,1060.0 121.8,1084.7 122.5,1100.0 123.0,1120.8 124.0,1165.0 124.2,1154.9 125.4,1085.7 125.5,1080.0 126.5,1022.0 126.6,1024.2 127.8,1027.8 128.0,1030.0 129.0,1029.3 130.0,1025.0 130.2,1025.1 131.4,1029.6 132.6,1030.5 133.0,1030.0 133.8,1026.9 135.0,1020.3 135.4,1020.0 136.2,1019.3 137.3,1015.0 137.4,1016.4 138.6,1025.6 139.0,1025.0 139.8,1015.4 141.0,1003.8 141.7,995.0 142.0,997.0 142.2,999.0 143.4,1005.1 144.4,1010.0 144.6,1009.6 145.8,1004.9 147.0,1000.0 148.2,997.1 149.0,997.0 149.4,997.4 150.6,1005.1 151.0,1008.0 151.8,1010.2 153.0,1013.6 153.8,1012.0 154.2,1011.6 155.4,1005.2 156.0,1000.0 156.6,1001.9 157.8,1002.7 158.5,1002.0 159.0,1000.9 160.2,998.6 161.0,995.0 161.4,998.3 162.6,994.9 163.8,994.6 164.4,996.0 165.0,999.9 166.2,997.4 167.4,999.4 168.0,998.0 168.6,998.9 169.8,994.0 171.0,999.1 172.2,996.6 172.6,993.0 173.4,993.1 174.6,993.9 175.8,992.5 177.0,990.5 177.3,992.0 178.2,993.8 179.4,997.3 180.0,998.0 180.6,1000.4 181.8,1000.5 183.0,1000.2 184.2,1003.3 184.4,1001.0 185.4,998.9 186.6,1000.9 187.8,1000.6 189.0,997.2 190.0,997.0 190.2,993.8 191.4,995.6 192.6,997.9 193.8,998.6 195.0,1000.6 196.0,998.0 196.2,996.0 197.4,996.8 198.6,997.0 199.8,994.5 200.8,994.0 201.0,990.0 202.2,997.6 203.4,1002.2 204.0,999.0 204.6,1001.4 205.8,999.1 207.0,1001.3 208.0,1003.0 208.2,1003.1 209.4,1005.7 210.6,1000.9 211.8,998.5 212.0,998.0 213.0,1000.7 214.2,997.6 215.4,1000.9 216.6,996.2 217.8,996.4 219.0,998.4 219.6,997.0 220.2,999.1 221.4,996.6 222.6,995.0 223.8,990.1 224.3,993.0 225.0,992.5 226.2,994.0 227.4,995.4 228.0,997.0 228.6,997.9 229.8,995.9 231.0,997.6 232.2,995.9 233.4,994.9 234.6,995.3 235.0,995.0 235.8,1024.6 236.0,1031.0 237.0,1047.0 238.0,1060.0 238.2,1055.8 239.4,1036.2 239.5,1035.0 240.6,1019.9 240.8,1020.0 241.8,1021.3 243.0,1019.2 244.0,1015.0 244.2,1014.4 245.4,1012.4 246.6,1009.5 247.8,1010.6 248.0,1010.0 249.0,1009.5 250.2,1012.0 251.4,1007.4 252.5,1006.0 252.6,1004.8 253.8,1003.8 255.0,1012.8 256.0,1012.0 256.2,1012.5 257.4,1010.3 258.6,1014.5 259.6,1015.0 259.8,1012.0 261.0,1020.5 262.2,1015.6 263.4,1013.9 264.6,1011.9 265.0,1012.0 265.8,1008.8 267.0,1013.4 268.2,1011.8 269.4,1016.6 270.0,1016.0 270.6,1012.0 271.8,1013.9 273.0,1017.5 274.2,1018.0 275.4,1012.6 276.6,1011.7 277.8,1015.7 278.4,1014.0 279.0,1015.4 280.2,1011.7 281.4,1011.8 282.6,1011.5 283.8,1010.2 285.0,1012.0 286.2,1010.5 287.4,1013.8 288.6,1012.5 289.8,1014.7 291.0,1010.6 292.2,1010.3 293.4,1008.6 294.6,1009.9 295.0,1010.0 295.8,1007.3 297.0,1006.0 298.2,1010.0 299.4,1010.8 300.0,1008.0 300.6,1009.7 301.8,1011.1 303.0,1009.7 304.2,1008.4 305.0,1010.0 305.4,1010.0 306.6,1008.5 307.8,1006.6 309.0,1008.0 310.2,1006.0 311.4,1007.3 312.6,1011.0 313.8,1012.0 315.0,1018.8 316.2,1024.2 317.3,1031.0 317.4,1034.1 318.6,1038.2 319.8,1045.2 320.9,1050.0 321.0,1051.2 322.2,1035.5 323.2,1027.0 323.4,1023.2 324.6,1026.9 325.8,1023.1 327.0,1025.4 328.0,1022.0 328.2,1022.4 329.4,1022.4 330.6,1020.7 331.8,1014.3 333.0,1018.1 333.8,1016.0 334.2,1015.4 335.4,1017.1 336.6,1019.5 337.8,1023.5 339.0,1025.5 339.7,1025.0 340.2,1027.4 341.4,1023.8 342.6,1027.0 343.8,1025.1 344.4,1030.0 345.0,1028.3 346.2,1026.4 347.4,1020.8 348.6,1019.5 349.0,1018.0 349.8,1018.0 351.0,1018.8 352.2,1014.9 353.4,1014.3 354.6,1013.8 355.0,1015.0 355.8,1021.6 357.0,1025.5 358.2,1028.5 358.5,1030.0 359.4,1031.0 360.6,1031.7 361.8,1032.7 363.0,1032.8 364.2,1033.4 365.4,1032.6 365.6,1035.0 366.6,1035.0 367.8,1040.5 369.0,1039.8 370.0,1040.0 370.2,1041.2 371.4,1047.0 372.6,1053.8 373.8,1060.0 375.0,1049.7 376.0,1040.0 376.2,1038.3 377.4,1036.6 378.6,1033.4 379.7,1030.0 379.8,1028.7 381.0,1028.6 382.2,1028.2 383.4,1028.1 384.6,1031.6 385.8,1025.8 387.0,1029.5 388.2,1028.9 389.0,1030.0 389.4,1028.4 390.6,1028.2 391.8,1028.5 393.0,1025.0 394.2,1024.0 395.4,1022.6 396.6,1020.6 397.8,1020.4 398.5,1020.0 399.0,1022.2 400.2,1021.2 401.4,1021.2 402.6,1022.3 403.0,1025.0 403.8,1035.8 405.0,1054.5 405.5,1065.0 406.2,1063.9 407.4,1057.2 408.6,1050.8 409.8,1048.5 410.0,1045.0 411.0,1038.0 412.2,1033.7 412.6,1030.0 413.4,1030.5 414.6,1024.9 415.8,1023.6 417.0,1025.0 418.2,1022.1 419.4,1024.2 420.6,1023.7 421.8,1018.0 422.0,1020.0 423.0,1021.3 424.2,1018.1 425.4,1017.3 426.6,1016.4 427.8,1016.1 429.0,1016.0 430.2,1014.3 431.4,1017.3 432.6,1018.4 433.8,1023.1 435.0,1027.5 436.0,1025.0 436.2,1029.6 437.4,1022.4 438.6,1018.2 439.8,1018.8 441.0,1016.2 442.2,1019.7 443.0,1015.0 443.4,1016.6 444.6,1016.0 445.8,1020.7 447.0,1021.7 448.2,1019.5 449.4,1023.2 450.0,1025.0 450.6,1025.1 451.8,1026.6 453.0,1027.8 454.2,1028.0 455.4,1030.0 456.6,1029.6 457.0,1031.0 457.8,1028.7 459.0,1032.1 460.2,1029.0 461.4,1028.2 462.6,1023.5 463.8,1025.1 464.3,1025.0 465.0,1025.6 466.2,1020.3 467.4,1023.2 468.6,1019.0 469.8,1019.0 470.0,1018.0 471.0,1018.9 472.2,1021.0 473.4,1024.1 474.6,1022.6 475.8,1027.6 476.0,1025.0 477.0,1025.7 478.2,1027.9 479.4,1033.4 480.6,1032.7 480.8,1035.0 481.8,1063.5 482.0,1070.0 483.0,1068.8 484.2,1065.9 485.4,1057.1 485.5,1060.0 486.6,1068.1 487.8,1075.0 489.0,1185.7 489.5,1227.0 490.2,1216.0 491.4,1190.8 492.0,1180.0 492.6,1166.9 493.8,1143.5 494.0,1140.0 495.0,1127.3 496.2,1116.2 497.3,1105.0 497.4,1104.1 498.6,1097.8 499.8,1093.8 501.0,1084.9 502.0,1080.0 502.2,1077.2 503.4,1080.4 504.6,1075.3 505.8,1075.2 506.7,1075.0 507.0,1074.1 508.2,1071.2 509.4,1067.4 510.6,1066.3 511.4,1065.0 511.8,1067.9 513.0,1059.8 514.2,1057.5 515.4,1056.7 516.6,1052.9 517.2,1050.0 517.8,1054.7 519.0,1060.0 520.0,1137.0 520.2,1136.9 521.4,1121.6 522.0,1120.0 522.6,1113.2 523.8,1104.6 524.3,1100.0 525.0,1098.3 526.2,1095.3 527.0,1090.0 527.4,1089.5 528.6,1084.2 529.8,1080.7 530.0,1080.0 531.0,1073.0 532.2,1065.8 533.0,1060.0 533.4,1059.2 534.6,1051.4 535.8,1044.5 537.0,1040.0 538.2,1035.5 539.4,1036.0 540.6,1033.3 541.0,1030.0 541.8,1030.7 543.0,1028.8 544.2,1027.2 544.7,1025.0 545.4,1026.1 546.6,1029.1 547.8,1027.8 548.0,1030.0 549.0,1031.0 550.2,1031.6 551.4,1035.8 551.8,1035.0 552.6,1032.2 553.8,1030.4 555.0,1028.0 556.2,1026.8 557.4,1026.6 558.6,1020.9 558.8,1022.0 559.8,1019.7 561.0,1022.2 562.2,1018.1 563.4,1020.2 564.6,1017.7 565.8,1017.9 565.9,1018.0 567.0,1018.7 568.2,1027.6 569.4,1029.8 570.6,1035.0 571.8,1030.9 573.0,1033.8 574.0,1028.0 574.2,1029.4 575.4,1035.1 576.6,1030.2 577.6,1030.0 577.8,1029.6 579.0,1031.8 580.2,1035.8 581.4,1034.3 582.0,1035.0 582.6,1036.4 583.8,1037.7 585.0,1036.4 586.2,1039.4 587.0,1040.0 587.4,1038.0 588.6,1033.5 589.8,1034.1 590.0,1032.0 591.0,1031.4 592.2,1028.3 593.4,1024.4 594.0,1025.0 594.6,1031.4 595.8,1055.9 597.0,1074.8 597.6,1085.0 598.2,1078.2 599.4,1073.6 600.0,1070.0 600.6,1063.8 601.8,1059.7 603.0,1053.1 603.5,1050.0 604.2,1048.2 605.4,1043.9 606.6,1039.7 607.0,1038.0 607.8,1046.6 609.0,1064.0 609.4,1070.0 610.2,1072.6 611.4,1078.3 611.7,1080.0 612.6,1076.6 613.8,1072.0 614.0,1070.0 615.0,1069.6 616.2,1058.0 617.0,1060.0 617.4,1059.4 618.6,1054.3 619.8,1054.8 620.0,1050.0 621.0,1048.5 622.2,1040.0 623.4,1039.9 624.6,1034.4 624.7,1035.0 625.8,1033.3 627.0,1025.8 628.2,1023.6 629.4,1020.0 630.6,1018.1 631.8,1016.5 633.0,1015.0 634.2,1013.4 635.4,1010.6 636.6,1014.3 637.6,1013.0 637.8,1015.1 639.0,1015.0 640.2,1015.1 641.4,1019.2 642.6,1021.6 643.5,1022.0 643.8,1022.4 645.0,1025.4 646.2,1030.7 647.0,1030.0 647.4,1027.2 648.6,1025.8 649.8,1021.0 651.0,1022.0 652.2,1018.7 653.4,1016.7 654.6,1014.3 655.2,1015.0 655.8,1015.6 657.0,1023.9 658.2,1024.0 659.4,1027.9 660.0,1030.0 660.6,1032.7 661.8,1026.0 663.0,1020.4 664.2,1021.6 664.6,1020.0 665.4,1019.5 666.6,1025.9 667.8,1022.5 668.0,1025.0 669.0,1025.3 670.2,1025.1 671.4,1029.8 671.7,1030.0 672.6,1030.1 673.8,1034.4 675.0,1036.3 676.2,1038.5 676.4,1040.0 677.4,1040.0 678.6,1037.9 679.8,1034.2 681.0,1032.0 682.2,1031.1 683.4,1031.5 684.6,1034.6 685.8,1039.2 686.0,1035.0 687.0,1034.2 688.2,1033.6 689.4,1033.7 690.5,1035.0 690.6,1032.9 691.8,1031.2 693.0,1030.7 694.2,1031.8 695.0,1028.0 695.4,1027.5 696.6,1025.2 697.8,1021.7 699.0,1023.6 700.0,1022.0 700.2,1022.3 701.4,1022.2 702.6,1024.6 703.8,1028.5 704.6,1030.0 705.0,1031.5 706.2,1030.0 707.4,1028.4 708.6,1026.6 709.8,1026.9 711.0,1025.5 711.7,1025.0 712.2,1029.6 713.4,1025.4 714.6,1028.5 715.8,1033.1 717.0,1032.1 718.2,1036.9 718.7,1035.0 719.4,1033.9 720.6,1032.6 721.8,1030.0 723.0,1026.5 724.2,1025.5 725.4,1029.6 725.8,1025.0 726.6,1031.6 727.8,1039.7 728.0,1040.0 729.0,1053.7 730.2,1067.4 730.5,1070.0 731.4,1066.7 732.6,1057.5 733.8,1050.7 734.0,1050.0 735.0,1049.0 736.2,1043.3 737.4,1038.2 737.6,1040.0 738.6,1037.5 739.8,1034.3 741.0,1033.9 742.2,1028.9 742.3,1030.0 743.4,1035.9 744.6,1045.8 745.8,1055.0 747.0,1052.3 748.0,1045.0 748.2,1044.4 749.4,1041.5 750.6,1038.0 751.7,1035.0 751.8,1035.8 753.0,1039.7 754.2,1043.3 755.4,1040.6 756.0,1045.0 756.6,1049.7 757.8,1051.7 759.0,1055.7 760.0,1060.0 760.2,1063.3 761.4,1052.7 762.0,1050.0 762.6,1051.9 763.8,1047.0 765.0,1040.3 765.8,1040.0 766.2,1040.7 767.4,1040.6 768.6,1038.4 769.8,1033.9 770.0,1038.0 771.0,1036.8 772.2,1036.4 773.4,1034.0 774.6,1038.6 775.2,1035.0 775.8,1033.7 777.0,1031.7 778.2,1030.2 779.4,1027.6 780.6,1025.9 781.8,1025.7 782.2,1025.0 783.0,1025.1 784.2,1022.8 785.4,1022.8 786.6,1019.7 787.8,1022.3 789.0,1019.3 790.0,1020.0 790.2,1020.2 791.4,1017.0 792.0,1018.0 792.6,1017.1 793.8,1018.4 795.0,1015.8 796.2,1022.4 797.4,1017.9 798.6,1017.9 799.8,1016.7 801.0,1020.9 801.5,1018.0 802.2,1025.7 803.4,1032.6 803.8,1035.0 804.6,1031.3 805.8,1031.0 807.0,1030.0 808.2,1031.1 809.4,1029.1 810.6,1027.9 810.9,1030.0 811.8,1026.1 813.0,1024.5 814.2,1023.6 815.0,1022.0 815.4,1020.5 816.6,1020.5 817.8,1024.4 819.0,1021.4 820.2,1015.2 820.3,1017.0 821.4,1018.9 822.6,1019.8 823.8,1020.8 825.0,1024.2 826.2,1023.1 827.3,1025.0 827.4,1024.6 828.6,1027.1 829.8,1030.1 831.0,1035.2 832.0,1035.0 832.2,1039.5 833.3,1055.0 833.4,1057.7 834.6,1121.1 834.7,1127.0 835.8,1108.6 836.0,1107.0 837.0,1134.6 837.3,1141.0 838.2,1127.5 839.3,1110.0 839.4,1110.4 840.6,1094.9 841.8,1077.7 841.9,1080.0 843.0,1078.7 844.2,1076.0 844.5,1075.0 845.4,1070.9 846.6,1061.0 847.2,1060.0 847.8,1056.7 849.0,1048.4 849.8,1045.0 850.2,1044.7 851.4,1049.3 852.0,1050.0 852.6,1053.6 853.8,1057.4 855.0,1065.0 856.2,1057.9 857.4,1052.5 858.0,1055.0 858.6,1052.7 859.8,1053.1 861.0,1048.4 862.2,1041.8 862.6,1045.0 863.4,1040.9 864.6,1039.4 865.8,1037.8 867.0,1033.1 867.3,1030.0 868.0,1136.0 868.2,1134.5 869.4,1121.4 870.6,1106.3 870.9,1105.0 871.8,1104.2 873.0,1104.4 873.5,1105.0 874.2,1096.6 875.4,1086.1 876.0,1080.0 876.6,1077.0 877.8,1073.9 879.0,1071.3 880.0,1065.0 880.2,1065.5 881.4,1059.9 882.6,1053.7 883.8,1046.4 885.0,1044.0 886.0,1040.0 886.2,1040.7 887.4,1036.2 888.6,1038.6 889.8,1034.1 891.0,1033.7 892.2,1030.8 893.2,1030.0 893.4,1028.2 894.6,1036.6 895.8,1033.3 897.0,1039.6 898.0,1040.0 898.2,1040.1 899.4,1048.1 900.6,1052.7 901.8,1059.9 902.6,1065.0 903.0,1064.2 904.2,1058.5 905.0,1050.0 905.4,1046.7 906.6,1043.1 907.3,1040.0 907.8,1043.2 909.0,1043.9 910.0,1048.0 910.2,1049.7 911.4,1049.9 912.6,1055.2 913.0,1055.0 913.8,1053.1 915.0,1050.5 916.0,1045.0 916.2,1045.0 917.4,1038.2 918.6,1037.5 919.0,1035.0 919.8,1032.1 921.0,1034.0 922.2,1034.0 923.4,1030.9 924.6,1027.5 925.0,1028.0 925.8,1029.3 927.0,1026.2 928.2,1022.4 929.4,1022.8 930.6,1024.8 930.8,1022.0 931.8,1025.3 933.0,1030.6 934.2,1034.4 935.4,1036.6 935.5,1040.0 936.6,1036.6 937.8,1035.5 939.0,1032.6 940.0,1030.0 940.2,1029.6 941.4,1025.6 942.6,1031.2 943.8,1029.8 945.0,1028.0 946.2,1029.1 947.4,1028.8 948.6,1024.9 949.6,1025.0 949.8,1024.3 951.0,1028.5 952.2,1033.5 953.4,1030.1 954.3,1035.0 954.6,1034.9 955.8,1035.3 957.0,1038.9 958.2,1041.8 959.0,1040.0 959.4,1039.0 960.6,1035.8 961.8,1036.6 963.0,1035.0 964.2,1033.4 965.4,1030.0 966.6,1033.3 967.8,1029.6 968.4,1030.0 969.0,1029.9 970.2,1023.7 971.4,1025.5 972.6,1018.3 973.0,1020.0 973.8,1021.9 975.0,1016.7 976.2,1022.5 977.4,1019.3 978.6,1017.2 979.8,1019.6 980.0,1020.0 981.0,1020.2 982.2,1017.3 983.4,1017.8 984.6,1018.6 985.0,1018.0 985.8,1017.2 987.0,1011.2 988.2,1015.1 989.4,1015.9 989.6,1015.0 990.6,1015.1 991.8,1015.8 993.0,1012.2 994.0,1013.0 994.2,1017.5 995.4,1013.7 996.6,1012.2 997.8,1011.0 999.0,1017.9 1000.0,1020.0 1000.2,1021.6 1001.4,1019.4 1002.6,1017.5 1003.7,1018.0" fill="none" stroke="#3462A4" stroke-width="2.0" stroke-linejoin="round"/>
<rect x="64.4" y="1036.5" width="6.6" height="6.6" fill="#fff" stroke="#978E4E" stroke-width="1.8"/>
<path d="M57.6,1165.6L66.6,1165.6M62.1,1161.1L62.1,1170.1M58.800000000000004,1162.3L65.4,1168.8999999999999M58.800000000000004,1168.8999999999999L65.4,1162.3" stroke="#C6232A" stroke-width="1.8"/>
<rect x="67.5" y="1436.6" width="928" height="145.5" fill="none" stroke="#E4E4E4" stroke-width="2.2"/>
<line x1="82" y1="1458.6" x2="153" y2="1458.6" stroke="#3C5E96" stroke-width="2"/>
<text transform="translate(165.3,1466.9) scale(1.0,1.03)" text-anchor="start" style="font-size:26px;" >Returns of Cryptocurrency index</text>
<line x1="575" y1="1458.6" x2="646" y2="1458.6" stroke="#C98547" stroke-width="2" stroke-dasharray="8.6 1.6"/>
<text transform="translate(657.7,1466.9) scale(1.0,1.03)" text-anchor="start" style="font-size:26px;" >Returns of Bitcoin price</text>
<line x1="82" y1="1492.9" x2="153" y2="1492.9" stroke="#4E9A5E" stroke-width="2" stroke-dasharray="16 1.6"/>
<text transform="translate(165.3,1501.2) scale(1.0,1.03)" text-anchor="start" style="font-size:26px;" >Returns of World Stock Price Index</text>
<line x1="575" y1="1492.9" x2="646" y2="1492.9" stroke="#C2343D" stroke-width="2" stroke-dasharray="21 1.6 8.6 1.6"/>
<text transform="translate(657.7,1501.2) scale(1.0,1.03)" text-anchor="start" style="font-size:26px;" >Returns of WTI crude oil price</text>
<line x1="82" y1="1527.2" x2="153" y2="1527.2" stroke="#3A3A3A" stroke-width="2" stroke-dasharray="21 1.6 8.6 1.6 8.6 1.6"/>
<text transform="translate(165.3,1535.5) scale(1.0,1.03)" text-anchor="start" style="font-size:26px;" >Returns of World Energy Price Index</text>
<line x1="575" y1="1527.2" x2="646" y2="1527.2" stroke="#4E3A86" stroke-width="2" stroke-dasharray="29 1.6"/>
<text transform="translate(657.7,1535.5) scale(1.0,1.03)" text-anchor="start" style="font-size:26px;" >Returns of Gold price</text>
<line x1="82" y1="1561.5" x2="153" y2="1561.5" stroke="#8A2E33" stroke-width="2" stroke-dasharray="9 4.2"/>
<text transform="translate(165.3,1569.8) scale(1.0,1.03)" text-anchor="start" style="font-size:26px;" >Returns of Commodity Index</text>
<line x1="575" y1="1561.5" x2="646" y2="1561.5" stroke="#8F8A4E" stroke-width="2" stroke-dasharray="16 4.4"/>
<text transform="translate(657.7,1569.8) scale(1.0,1.03)" text-anchor="start" style="font-size:26px;" >Returns of REITs index</text>
</svg></body></html>
